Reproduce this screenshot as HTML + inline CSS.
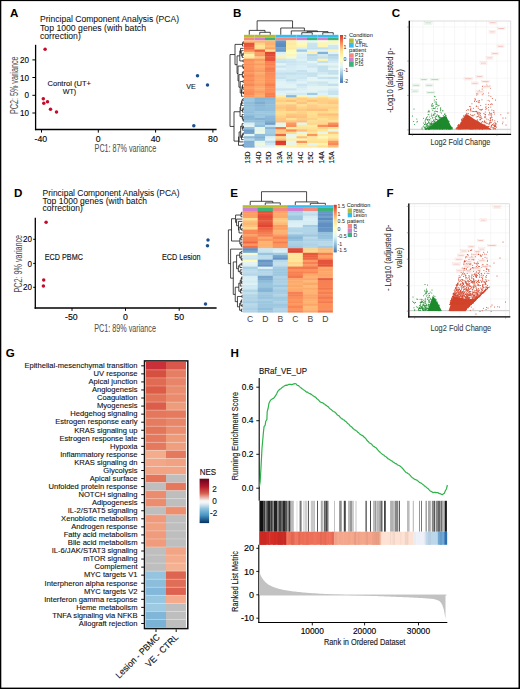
<!DOCTYPE html>
<html><head><meta charset="utf-8"><title>Figure</title>
<style>html,body{margin:0;padding:0;background:#fff;width:520px;height:689px;overflow:hidden}svg{display:block}text{font-family:"Liberation Sans",sans-serif}</style>
</head><body>
<svg width="520" height="689" viewBox="0 0 520 689">
<rect x="0" y="0" width="520" height="689" fill="#fff"/>
<text x="10.1" y="16.6" font-size="11.6" font-weight="bold" fill="#000">A</text>
<text x="40" y="22.4" font-size="9.2" fill="#111" textLength="139" lengthAdjust="spacingAndGlyphs" stroke="#111" stroke-width="0.06">Principal Component Analysis (PCA)</text>
<text x="40" y="30.55" font-size="9.2" fill="#111" textLength="106" lengthAdjust="spacingAndGlyphs" stroke="#111" stroke-width="0.06">Top 1000 genes (with batch</text>
<text x="40" y="38.7" font-size="9.2" fill="#111" textLength="40.8" lengthAdjust="spacingAndGlyphs" stroke="#111" stroke-width="0.06">correction)</text>
<line x1="35.6" y1="44.8" x2="35.6" y2="130.2" stroke="#000" stroke-width="1.3"/>
<line x1="34.95" y1="129.5" x2="216.6" y2="129.5" stroke="#000" stroke-width="1.4"/>
<line x1="32.4" y1="59.9" x2="35.6" y2="59.9" stroke="#000" stroke-width="1"/>
<text x="28.9" y="63" font-size="9.4" text-anchor="end" textLength="8.99" lengthAdjust="spacingAndGlyphs" stroke="#1a1a1a" stroke-width="0.15">20</text>
<line x1="32.4" y1="77.5" x2="35.6" y2="77.5" stroke="#000" stroke-width="1"/>
<text x="28.9" y="80.6" font-size="9.4" text-anchor="end" textLength="8.99" lengthAdjust="spacingAndGlyphs" stroke="#1a1a1a" stroke-width="0.15">10</text>
<line x1="32.4" y1="95.3" x2="35.6" y2="95.3" stroke="#000" stroke-width="1"/>
<text x="28.9" y="98.4" font-size="9.4" text-anchor="end" textLength="4.5" lengthAdjust="spacingAndGlyphs" stroke="#1a1a1a" stroke-width="0.15">0</text>
<line x1="32.4" y1="113" x2="35.6" y2="113" stroke="#000" stroke-width="1"/>
<text x="28.9" y="116.1" font-size="9.4" text-anchor="end" textLength="8.99" lengthAdjust="spacingAndGlyphs" stroke="#1a1a1a" stroke-width="0.15">10</text>
<line x1="41.5" y1="129.5" x2="41.5" y2="132.6" stroke="#000" stroke-width="1"/>
<text x="40.9" y="141.5" font-size="9.4" text-anchor="middle" textLength="12.63" lengthAdjust="spacingAndGlyphs" stroke="#1a1a1a" stroke-width="0.15">-40</text>
<line x1="98.3" y1="129.5" x2="98.3" y2="132.6" stroke="#000" stroke-width="1"/>
<text x="98.3" y="141.5" font-size="9.4" text-anchor="middle" textLength="4.86" lengthAdjust="spacingAndGlyphs" stroke="#1a1a1a" stroke-width="0.15">0</text>
<line x1="155.6" y1="129.5" x2="155.6" y2="132.6" stroke="#000" stroke-width="1"/>
<text x="155.6" y="141.5" font-size="9.4" text-anchor="middle" textLength="9.72" lengthAdjust="spacingAndGlyphs" stroke="#1a1a1a" stroke-width="0.15">40</text>
<line x1="212.9" y1="129.5" x2="212.9" y2="132.6" stroke="#000" stroke-width="1"/>
<text x="212.9" y="141.5" font-size="9.4" text-anchor="middle" textLength="9.72" lengthAdjust="spacingAndGlyphs" stroke="#1a1a1a" stroke-width="0.15">80</text>
<text x="94.6" y="152.4" font-size="10" fill="#505050" textLength="61.63" lengthAdjust="spacingAndGlyphs" stroke="#505050" stroke-width="0.05">PC1: 87% variance</text>
<text x="18.3" y="85.3" font-size="10" text-anchor="middle" fill="#505050" textLength="57.63" lengthAdjust="spacingAndGlyphs" transform="rotate(-90 18.3 85.3)" stroke="#505050" stroke-width="0.05">PC2: 5% variance</text>
<circle cx="45.1" cy="49.3" r="1.75" fill="#c60a2a"/>
<circle cx="43.3" cy="98.7" r="1.75" fill="#c60a2a"/>
<circle cx="43.8" cy="103.3" r="1.75" fill="#c60a2a"/>
<circle cx="47.5" cy="101.8" r="1.75" fill="#c60a2a"/>
<circle cx="50.5" cy="109.3" r="1.75" fill="#c60a2a"/>
<circle cx="56.5" cy="112" r="1.75" fill="#c60a2a"/>
<circle cx="197.5" cy="75.8" r="1.75" fill="#1d4f8f"/>
<circle cx="207.5" cy="85" r="1.75" fill="#1d4f8f"/>
<circle cx="193.8" cy="125.8" r="1.75" fill="#1d4f8f"/>
<text x="47.5" y="85.8" font-size="8" fill="#111" textLength="43.5" lengthAdjust="spacingAndGlyphs" stroke="#111" stroke-width="0.12">Control (UT+</text>
<text x="69.5" y="94.3" font-size="8" text-anchor="middle" fill="#111" textLength="13.5" lengthAdjust="spacingAndGlyphs" stroke="#111" stroke-width="0.12">WT)</text>
<text x="186.2" y="89" font-size="8" fill="#111" textLength="9.5" lengthAdjust="spacingAndGlyphs" stroke="#111" stroke-width="0.12">VE</text>
<text x="14.1" y="197" font-size="11.6" font-weight="bold" fill="#000">D</text>
<text x="42.6" y="195.9" font-size="9" fill="#111" textLength="136.91" lengthAdjust="spacingAndGlyphs" stroke="#111" stroke-width="0.06">Principal Component Analysis (PCA)</text>
<text x="42.6" y="203.6" font-size="9" fill="#111" textLength="104.41" lengthAdjust="spacingAndGlyphs" stroke="#111" stroke-width="0.06">Top 1000 genes (with batch</text>
<text x="42.6" y="211.3" font-size="9" fill="#111" textLength="40.19" lengthAdjust="spacingAndGlyphs" stroke="#111" stroke-width="0.06">correction)</text>
<line x1="35.3" y1="217.7" x2="35.3" y2="308.8" stroke="#000" stroke-width="1.3"/>
<line x1="34.65" y1="308.05" x2="216.6" y2="308.05" stroke="#000" stroke-width="1.4"/>
<line x1="33.2" y1="239.3" x2="35.3" y2="239.3" stroke="#000" stroke-width="1"/>
<text x="31.9" y="242.4" font-size="9.4" text-anchor="end" textLength="8.99" lengthAdjust="spacingAndGlyphs" stroke="#1a1a1a" stroke-width="0.15">20</text>
<line x1="33.2" y1="263.4" x2="35.3" y2="263.4" stroke="#000" stroke-width="1"/>
<text x="31.9" y="266.5" font-size="9.4" text-anchor="end" textLength="4.5" lengthAdjust="spacingAndGlyphs" stroke="#1a1a1a" stroke-width="0.15">0</text>
<line x1="33.2" y1="287.3" x2="35.3" y2="287.3" stroke="#000" stroke-width="1"/>
<text x="31.9" y="290.4" font-size="9.4" text-anchor="end" textLength="8.99" lengthAdjust="spacingAndGlyphs" stroke="#1a1a1a" stroke-width="0.15">20</text>
<line x1="72" y1="308.05" x2="72" y2="310.8" stroke="#000" stroke-width="1"/>
<text x="71.4" y="319.6" font-size="9.4" text-anchor="middle" textLength="12.63" lengthAdjust="spacingAndGlyphs" stroke="#1a1a1a" stroke-width="0.15">-50</text>
<line x1="125.5" y1="308.05" x2="125.5" y2="310.8" stroke="#000" stroke-width="1"/>
<text x="125.5" y="319.6" font-size="9.4" text-anchor="middle" textLength="4.86" lengthAdjust="spacingAndGlyphs" stroke="#1a1a1a" stroke-width="0.15">0</text>
<line x1="179.2" y1="308.05" x2="179.2" y2="310.8" stroke="#000" stroke-width="1"/>
<text x="179.2" y="319.6" font-size="9.4" text-anchor="middle" textLength="9.72" lengthAdjust="spacingAndGlyphs" stroke="#1a1a1a" stroke-width="0.15">50</text>
<text x="94.3" y="331.8" font-size="10" fill="#505050" textLength="61.63" lengthAdjust="spacingAndGlyphs" stroke="#505050" stroke-width="0.05">PC1: 89% variance</text>
<text x="21.8" y="263.7" font-size="10" text-anchor="middle" fill="#505050" textLength="57.63" lengthAdjust="spacingAndGlyphs" transform="rotate(-90 21.8 263.7)" stroke="#505050" stroke-width="0.05">PC2: 9% variance</text>
<circle cx="46.1" cy="222.3" r="1.75" fill="#c60a2a"/>
<circle cx="43.7" cy="280" r="1.75" fill="#c60a2a"/>
<circle cx="43.4" cy="286" r="1.75" fill="#c60a2a"/>
<circle cx="208" cy="240" r="1.75" fill="#1d4f8f"/>
<circle cx="207.5" cy="245.8" r="1.75" fill="#1d4f8f"/>
<circle cx="205.5" cy="304" r="1.75" fill="#1d4f8f"/>
<text x="44.8" y="260" font-size="8.4" fill="#111" textLength="38.1" lengthAdjust="spacingAndGlyphs" stroke="#111" stroke-width="0.13">ECD PBMC</text>
<text x="162" y="260" font-size="8.4" fill="#111" textLength="38.5" lengthAdjust="spacingAndGlyphs" stroke="#111" stroke-width="0.13">ECD Lesion</text>
<text x="233" y="16.8" font-size="11.6" font-weight="bold" fill="#000">B</text>
<path d="M259.75 34.8L259.75 32.3M270.25 34.8L270.25 32.3M259.75 32.3L270.25 32.3M249.25 34.8L249.25 30.4M265 32.3L265 30.4M249.25 30.4L265 30.4M301.75 34.8L301.75 32.7M312.25 34.8L312.25 32.7M301.75 32.7L312.25 32.7M322.75 34.8L322.75 32.7M333.25 34.8L333.25 32.7M322.75 32.7L333.25 32.7M307 32.7L307 31.6M328 32.7L328 31.6M307 31.6L328 31.6M291.25 34.8L291.25 30.9M317.5 31.6L317.5 30.9M291.25 30.9L317.5 30.9M280.75 34.8L280.75 28M304.38 30.9L304.38 28M280.75 28L304.38 28M257.12 30.4L257.12 20.8M292.56 28L292.56 20.8M257.12 20.8L292.56 20.8" stroke="#1a1a1a" stroke-width="0.8" fill="none"/>
<rect x="244" y="34.8" width="10.52" height="2.8" fill="#b7bb2f"/>
<rect x="244" y="37.6" width="10.52" height="2.8" fill="#f4877f"/>
<rect x="254.5" y="34.8" width="10.52" height="2.8" fill="#b7bb2f"/>
<rect x="254.5" y="37.6" width="10.52" height="2.8" fill="#d07fd0"/>
<rect x="265" y="34.8" width="10.52" height="2.8" fill="#b7bb2f"/>
<rect x="265" y="37.6" width="10.52" height="2.8" fill="#3bb37b"/>
<rect x="275.5" y="34.8" width="10.52" height="2.8" fill="#35bdf0"/>
<rect x="275.5" y="37.6" width="10.52" height="2.8" fill="#f4877f"/>
<rect x="286" y="34.8" width="10.52" height="2.8" fill="#35bdf0"/>
<rect x="286" y="37.6" width="10.52" height="2.8" fill="#f4877f"/>
<rect x="296.5" y="34.8" width="10.52" height="2.8" fill="#35bdf0"/>
<rect x="296.5" y="37.6" width="10.52" height="2.8" fill="#d07fd0"/>
<rect x="307" y="34.8" width="10.52" height="2.8" fill="#35bdf0"/>
<rect x="307" y="37.6" width="10.52" height="2.8" fill="#3bb37b"/>
<rect x="317.5" y="34.8" width="10.52" height="2.8" fill="#35bdf0"/>
<rect x="317.5" y="37.6" width="10.52" height="2.8" fill="#d07fd0"/>
<rect x="328" y="34.8" width="10.52" height="2.8" fill="#35bdf0"/>
<rect x="328" y="37.6" width="10.52" height="2.8" fill="#3bb37b"/>
<rect x="244" y="40.4" width="10.9" height="2.68" fill="#fdbd79"/>
<rect x="254.5" y="40.4" width="10.9" height="2.68" fill="#fdb674"/>
<rect x="265" y="40.4" width="10.9" height="2.68" fill="#fdb674"/>
<rect x="275.5" y="40.4" width="10.9" height="2.68" fill="#6897c6"/>
<rect x="286" y="40.4" width="10.9" height="2.68" fill="#feeea6"/>
<rect x="296.5" y="40.4" width="10.9" height="2.68" fill="#f1fad9"/>
<rect x="307" y="40.4" width="10.9" height="2.68" fill="#e8f6ea"/>
<rect x="317.5" y="40.4" width="10.9" height="2.68" fill="#f6fbd0"/>
<rect x="328" y="40.4" width="10.5" height="2.68" fill="#fff6b1"/>
<rect x="244" y="42.68" width="10.9" height="2.68" fill="#e5533a"/>
<rect x="254.5" y="42.68" width="10.9" height="2.68" fill="#fed689"/>
<rect x="265" y="42.68" width="10.9" height="2.68" fill="#fdb070"/>
<rect x="275.5" y="42.68" width="10.9" height="2.68" fill="#5f8ec1"/>
<rect x="286" y="42.68" width="10.9" height="2.68" fill="#feeba0"/>
<rect x="296.5" y="42.68" width="10.9" height="2.68" fill="#fffab8"/>
<rect x="307" y="42.68" width="10.9" height="2.68" fill="#cae5f0"/>
<rect x="317.5" y="42.68" width="10.9" height="2.68" fill="#fff6b1"/>
<rect x="328" y="42.68" width="10.5" height="2.68" fill="#ecf8e1"/>
<rect x="244" y="44.96" width="10.9" height="2.68" fill="#e85a3d"/>
<rect x="254.5" y="44.96" width="10.9" height="2.68" fill="#fee598"/>
<rect x="265" y="44.96" width="10.9" height="2.68" fill="#fdbd79"/>
<rect x="275.5" y="44.96" width="10.9" height="2.68" fill="#5c8cc0"/>
<rect x="286" y="44.96" width="10.9" height="2.68" fill="#feefa7"/>
<rect x="296.5" y="44.96" width="10.9" height="2.68" fill="#fff6b1"/>
<rect x="307" y="44.96" width="10.9" height="2.68" fill="#c7e3ef"/>
<rect x="317.5" y="44.96" width="10.9" height="2.68" fill="#fff6b1"/>
<rect x="328" y="44.96" width="10.5" height="2.68" fill="#cee7f1"/>
<rect x="244" y="47.24" width="10.9" height="2.68" fill="#ed6845"/>
<rect x="254.5" y="47.24" width="10.9" height="2.68" fill="#fedc8d"/>
<rect x="265" y="47.24" width="10.9" height="2.68" fill="#fda468"/>
<rect x="275.5" y="47.24" width="10.9" height="2.68" fill="#72a1cb"/>
<rect x="286" y="47.24" width="10.9" height="2.68" fill="#feeba1"/>
<rect x="296.5" y="47.24" width="10.9" height="2.68" fill="#d8eef5"/>
<rect x="307" y="47.24" width="10.9" height="2.68" fill="#c3e0ee"/>
<rect x="317.5" y="47.24" width="10.9" height="2.68" fill="#c3e0ed"/>
<rect x="328" y="47.24" width="10.5" height="2.68" fill="#cae4f0"/>
<rect x="244" y="49.52" width="10.9" height="2.68" fill="#fb8b58"/>
<rect x="254.5" y="49.52" width="10.9" height="2.68" fill="#ea6141"/>
<rect x="265" y="49.52" width="10.9" height="2.68" fill="#fee395"/>
<rect x="275.5" y="49.52" width="10.9" height="2.68" fill="#6b9ac7"/>
<rect x="286" y="49.52" width="10.9" height="2.68" fill="#fffab8"/>
<rect x="296.5" y="49.52" width="10.9" height="2.68" fill="#a1c9e1"/>
<rect x="307" y="49.52" width="10.9" height="2.68" fill="#e1f3f6"/>
<rect x="317.5" y="49.52" width="10.9" height="2.68" fill="#dff2f7"/>
<rect x="328" y="49.52" width="10.5" height="2.68" fill="#fff6b1"/>
<rect x="244" y="51.8" width="10.9" height="2.68" fill="#fecf85"/>
<rect x="254.5" y="51.8" width="10.9" height="2.68" fill="#fc9e64"/>
<rect x="265" y="51.8" width="10.9" height="2.68" fill="#df4532"/>
<rect x="275.5" y="51.8" width="10.9" height="2.68" fill="#dcf0f7"/>
<rect x="286" y="51.8" width="10.9" height="2.68" fill="#fafdc8"/>
<rect x="296.5" y="51.8" width="10.9" height="2.68" fill="#e4f5f0"/>
<rect x="307" y="51.8" width="10.9" height="2.68" fill="#fff1aa"/>
<rect x="317.5" y="51.8" width="10.9" height="2.68" fill="#84b2d4"/>
<rect x="328" y="51.8" width="10.5" height="2.68" fill="#e0f3f7"/>
<rect x="244" y="54.08" width="10.9" height="2.68" fill="#fff1aa"/>
<rect x="254.5" y="54.08" width="10.9" height="2.68" fill="#fc9760"/>
<rect x="265" y="54.08" width="10.9" height="2.68" fill="#e24c36"/>
<rect x="275.5" y="54.08" width="10.9" height="2.68" fill="#e3f4f2"/>
<rect x="286" y="54.08" width="10.9" height="2.68" fill="#fff6b1"/>
<rect x="296.5" y="54.08" width="10.9" height="2.68" fill="#d9eff6"/>
<rect x="307" y="54.08" width="10.9" height="2.68" fill="#b3d5e7"/>
<rect x="317.5" y="54.08" width="10.9" height="2.68" fill="#cee7f1"/>
<rect x="328" y="54.08" width="10.5" height="2.68" fill="#add1e5"/>
<rect x="244" y="56.36" width="10.9" height="2.68" fill="#feea9f"/>
<rect x="254.5" y="56.36" width="10.9" height="2.68" fill="#fdc981"/>
<rect x="265" y="56.36" width="10.9" height="2.68" fill="#e85a3d"/>
<rect x="275.5" y="56.36" width="10.9" height="2.68" fill="#fff1aa"/>
<rect x="286" y="56.36" width="10.9" height="2.68" fill="#f1fad9"/>
<rect x="296.5" y="56.36" width="10.9" height="2.68" fill="#d5ecf4"/>
<rect x="307" y="56.36" width="10.9" height="2.68" fill="#beddec"/>
<rect x="317.5" y="56.36" width="10.9" height="2.68" fill="#c3e0ed"/>
<rect x="328" y="56.36" width="10.5" height="2.68" fill="#b8d9ea"/>
<rect x="244" y="58.64" width="10.9" height="2.68" fill="#fc8e5a"/>
<rect x="254.5" y="58.64" width="10.9" height="2.68" fill="#fc9860"/>
<rect x="265" y="58.64" width="10.9" height="2.68" fill="#e5533a"/>
<rect x="275.5" y="58.64" width="10.9" height="2.68" fill="#cde6f1"/>
<rect x="286" y="58.64" width="10.9" height="2.68" fill="#d1e9f3"/>
<rect x="296.5" y="58.64" width="10.9" height="2.68" fill="#ddf1f7"/>
<rect x="307" y="58.64" width="10.9" height="2.68" fill="#c2dfed"/>
<rect x="317.5" y="58.64" width="10.9" height="2.68" fill="#fff3ad"/>
<rect x="328" y="58.64" width="10.5" height="2.68" fill="#c8e3ef"/>
<rect x="244" y="60.92" width="10.9" height="2.68" fill="#fc9961"/>
<rect x="254.5" y="60.92" width="10.9" height="2.68" fill="#fdaf6f"/>
<rect x="265" y="60.92" width="10.9" height="2.68" fill="#f78152"/>
<rect x="275.5" y="60.92" width="10.9" height="2.68" fill="#c6e2ef"/>
<rect x="286" y="60.92" width="10.9" height="2.68" fill="#cbe5f0"/>
<rect x="296.5" y="60.92" width="10.9" height="2.68" fill="#d1e9f3"/>
<rect x="307" y="60.92" width="10.9" height="2.68" fill="#e2f4f4"/>
<rect x="317.5" y="60.92" width="10.9" height="2.68" fill="#c4e1ee"/>
<rect x="328" y="60.92" width="10.5" height="2.68" fill="#d4ebf4"/>
<rect x="244" y="63.2" width="10.9" height="2.68" fill="#fc905b"/>
<rect x="254.5" y="63.2" width="10.9" height="2.68" fill="#fc9a62"/>
<rect x="265" y="63.2" width="10.9" height="2.68" fill="#f77f52"/>
<rect x="275.5" y="63.2" width="10.9" height="2.68" fill="#e2f4f4"/>
<rect x="286" y="63.2" width="10.9" height="2.68" fill="#cde6f1"/>
<rect x="296.5" y="63.2" width="10.9" height="2.68" fill="#d3eaf3"/>
<rect x="307" y="63.2" width="10.9" height="2.68" fill="#d0e9f2"/>
<rect x="317.5" y="63.2" width="10.9" height="2.68" fill="#e3f4f3"/>
<rect x="328" y="63.2" width="10.5" height="2.68" fill="#e4f4f1"/>
<rect x="244" y="65.48" width="10.9" height="2.68" fill="#fc9860"/>
<rect x="254.5" y="65.48" width="10.9" height="2.68" fill="#fdac6d"/>
<rect x="265" y="65.48" width="10.9" height="2.68" fill="#fc8c59"/>
<rect x="275.5" y="65.48" width="10.9" height="2.68" fill="#cbe5f0"/>
<rect x="286" y="65.48" width="10.9" height="2.68" fill="#d5ecf4"/>
<rect x="296.5" y="65.48" width="10.9" height="2.68" fill="#daeff6"/>
<rect x="307" y="65.48" width="10.9" height="2.68" fill="#cce6f1"/>
<rect x="317.5" y="65.48" width="10.9" height="2.68" fill="#c1dfed"/>
<rect x="328" y="65.48" width="10.5" height="2.68" fill="#d3eaf3"/>
<rect x="244" y="67.76" width="10.9" height="2.68" fill="#fc945d"/>
<rect x="254.5" y="67.76" width="10.9" height="2.68" fill="#fda267"/>
<rect x="265" y="67.76" width="10.9" height="2.68" fill="#f57c50"/>
<rect x="275.5" y="67.76" width="10.9" height="2.68" fill="#def2f7"/>
<rect x="286" y="67.76" width="10.9" height="2.68" fill="#d7edf5"/>
<rect x="296.5" y="67.76" width="10.9" height="2.68" fill="#dbf0f6"/>
<rect x="307" y="67.76" width="10.9" height="2.68" fill="#def1f7"/>
<rect x="317.5" y="67.76" width="10.9" height="2.68" fill="#c3e0ed"/>
<rect x="328" y="67.76" width="10.5" height="2.68" fill="#e3f4f3"/>
<rect x="244" y="70.04" width="10.9" height="2.68" fill="#fb8b58"/>
<rect x="254.5" y="70.04" width="10.9" height="2.68" fill="#fc9a62"/>
<rect x="265" y="70.04" width="10.9" height="2.68" fill="#f78052"/>
<rect x="275.5" y="70.04" width="10.9" height="2.68" fill="#d2e9f3"/>
<rect x="286" y="70.04" width="10.9" height="2.68" fill="#d2eaf3"/>
<rect x="296.5" y="70.04" width="10.9" height="2.68" fill="#c5e1ee"/>
<rect x="307" y="70.04" width="10.9" height="2.68" fill="#dcf0f6"/>
<rect x="317.5" y="70.04" width="10.9" height="2.68" fill="#c3e0ee"/>
<rect x="328" y="70.04" width="10.5" height="2.68" fill="#c4e0ee"/>
<rect x="244" y="72.32" width="10.9" height="2.68" fill="#fc9760"/>
<rect x="254.5" y="72.32" width="10.9" height="2.68" fill="#fdac6e"/>
<rect x="265" y="72.32" width="10.9" height="2.68" fill="#fb8a57"/>
<rect x="275.5" y="72.32" width="10.9" height="2.68" fill="#c3e0ed"/>
<rect x="286" y="72.32" width="10.9" height="2.68" fill="#c1deed"/>
<rect x="296.5" y="72.32" width="10.9" height="2.68" fill="#c7e3ef"/>
<rect x="307" y="72.32" width="10.9" height="2.68" fill="#c5e1ee"/>
<rect x="317.5" y="72.32" width="10.9" height="2.68" fill="#d0e9f2"/>
<rect x="328" y="72.32" width="10.5" height="2.68" fill="#c2dfed"/>
<rect x="244" y="74.6" width="10.9" height="2.68" fill="#fb8957"/>
<rect x="254.5" y="74.6" width="10.9" height="2.68" fill="#fca166"/>
<rect x="265" y="74.6" width="10.9" height="2.68" fill="#fc8e5a"/>
<rect x="275.5" y="74.6" width="10.9" height="2.68" fill="#cce6f0"/>
<rect x="286" y="74.6" width="10.9" height="2.68" fill="#d0e8f2"/>
<rect x="296.5" y="74.6" width="10.9" height="2.68" fill="#d0e9f2"/>
<rect x="307" y="74.6" width="10.9" height="2.68" fill="#c6e2ee"/>
<rect x="317.5" y="74.6" width="10.9" height="2.68" fill="#e2f4f4"/>
<rect x="328" y="74.6" width="10.5" height="2.68" fill="#e4f5f0"/>
<rect x="244" y="76.88" width="10.9" height="2.68" fill="#fc925c"/>
<rect x="254.5" y="76.88" width="10.9" height="2.68" fill="#fda468"/>
<rect x="265" y="76.88" width="10.9" height="2.68" fill="#fc8f5b"/>
<rect x="275.5" y="76.88" width="10.9" height="2.68" fill="#c5e1ee"/>
<rect x="286" y="76.88" width="10.9" height="2.68" fill="#cfe8f2"/>
<rect x="296.5" y="76.88" width="10.9" height="2.68" fill="#cce6f1"/>
<rect x="307" y="76.88" width="10.9" height="2.68" fill="#e2f4f5"/>
<rect x="317.5" y="76.88" width="10.9" height="2.68" fill="#c8e3ef"/>
<rect x="328" y="76.88" width="10.5" height="2.68" fill="#c2dfed"/>
<rect x="244" y="79.16" width="10.9" height="2.68" fill="#fa8856"/>
<rect x="254.5" y="79.16" width="10.9" height="2.68" fill="#fda368"/>
<rect x="265" y="79.16" width="10.9" height="2.68" fill="#fc8e5a"/>
<rect x="275.5" y="79.16" width="10.9" height="2.68" fill="#d8eef5"/>
<rect x="286" y="79.16" width="10.9" height="2.68" fill="#c2dfed"/>
<rect x="296.5" y="79.16" width="10.9" height="2.68" fill="#d7edf5"/>
<rect x="307" y="79.16" width="10.9" height="2.68" fill="#e4f5f0"/>
<rect x="317.5" y="79.16" width="10.9" height="2.68" fill="#e2f4f4"/>
<rect x="328" y="79.16" width="10.5" height="2.68" fill="#def2f7"/>
<rect x="244" y="81.44" width="10.9" height="2.68" fill="#fc965f"/>
<rect x="254.5" y="81.44" width="10.9" height="2.68" fill="#fda76a"/>
<rect x="265" y="81.44" width="10.9" height="2.68" fill="#fc8e5a"/>
<rect x="275.5" y="81.44" width="10.9" height="2.68" fill="#e1f3f7"/>
<rect x="286" y="81.44" width="10.9" height="2.68" fill="#d8edf5"/>
<rect x="296.5" y="81.44" width="10.9" height="2.68" fill="#e1f3f7"/>
<rect x="307" y="81.44" width="10.9" height="2.68" fill="#cfe8f2"/>
<rect x="317.5" y="81.44" width="10.9" height="2.68" fill="#cae5f0"/>
<rect x="328" y="81.44" width="10.5" height="2.68" fill="#e1f4f6"/>
<rect x="244" y="83.72" width="10.9" height="2.68" fill="#fa8756"/>
<rect x="254.5" y="83.72" width="10.9" height="2.68" fill="#fc9b62"/>
<rect x="265" y="83.72" width="10.9" height="2.68" fill="#f78052"/>
<rect x="275.5" y="83.72" width="10.9" height="2.68" fill="#e1f4f5"/>
<rect x="286" y="83.72" width="10.9" height="2.68" fill="#e0f3f8"/>
<rect x="296.5" y="83.72" width="10.9" height="2.68" fill="#cae5f0"/>
<rect x="307" y="83.72" width="10.9" height="2.68" fill="#d7edf5"/>
<rect x="317.5" y="83.72" width="10.9" height="2.68" fill="#d0e8f2"/>
<rect x="328" y="83.72" width="10.5" height="2.68" fill="#c2dfed"/>
<rect x="244" y="86" width="10.9" height="2.68" fill="#fc9b62"/>
<rect x="254.5" y="86" width="10.9" height="2.68" fill="#fda96c"/>
<rect x="265" y="86" width="10.9" height="2.68" fill="#fc8c58"/>
<rect x="275.5" y="86" width="10.9" height="2.68" fill="#def2f7"/>
<rect x="286" y="86" width="10.9" height="2.68" fill="#e4f4f1"/>
<rect x="296.5" y="86" width="10.9" height="2.68" fill="#d4ebf4"/>
<rect x="307" y="86" width="10.9" height="2.68" fill="#e3f4f2"/>
<rect x="317.5" y="86" width="10.9" height="2.68" fill="#e4f5f0"/>
<rect x="328" y="86" width="10.5" height="2.68" fill="#e4f4f1"/>
<rect x="244" y="88.28" width="10.9" height="2.68" fill="#fc945e"/>
<rect x="254.5" y="88.28" width="10.9" height="2.68" fill="#fdab6d"/>
<rect x="265" y="88.28" width="10.9" height="2.68" fill="#fc8d59"/>
<rect x="275.5" y="88.28" width="10.9" height="2.68" fill="#c9e4f0"/>
<rect x="286" y="88.28" width="10.9" height="2.68" fill="#cae4f0"/>
<rect x="296.5" y="88.28" width="10.9" height="2.68" fill="#dbf0f6"/>
<rect x="307" y="88.28" width="10.9" height="2.68" fill="#e3f4f3"/>
<rect x="317.5" y="88.28" width="10.9" height="2.68" fill="#e2f4f5"/>
<rect x="328" y="88.28" width="10.5" height="2.68" fill="#d5ecf4"/>
<rect x="244" y="90.56" width="10.9" height="2.68" fill="#fc8e5a"/>
<rect x="254.5" y="90.56" width="10.9" height="2.68" fill="#fc9c63"/>
<rect x="265" y="90.56" width="10.9" height="2.68" fill="#fc8f5b"/>
<rect x="275.5" y="90.56" width="10.9" height="2.68" fill="#ddf1f7"/>
<rect x="286" y="90.56" width="10.9" height="2.68" fill="#e3f4f3"/>
<rect x="296.5" y="90.56" width="10.9" height="2.68" fill="#e1f3f6"/>
<rect x="307" y="90.56" width="10.9" height="2.68" fill="#e0f3f7"/>
<rect x="317.5" y="90.56" width="10.9" height="2.68" fill="#d5ecf4"/>
<rect x="328" y="90.56" width="10.5" height="2.68" fill="#c8e3ef"/>
<rect x="244" y="92.84" width="10.9" height="2.68" fill="#fb8b58"/>
<rect x="254.5" y="92.84" width="10.9" height="2.68" fill="#fda86b"/>
<rect x="265" y="92.84" width="10.9" height="2.68" fill="#f78052"/>
<rect x="275.5" y="92.84" width="10.9" height="2.68" fill="#e4f5f1"/>
<rect x="286" y="92.84" width="10.9" height="2.68" fill="#d2eaf3"/>
<rect x="296.5" y="92.84" width="10.9" height="2.68" fill="#d2eaf3"/>
<rect x="307" y="92.84" width="10.9" height="2.68" fill="#a1c9e1"/>
<rect x="317.5" y="92.84" width="10.9" height="2.68" fill="#e0f3f8"/>
<rect x="328" y="92.84" width="10.5" height="2.68" fill="#c8e3ef"/>
<rect x="244" y="95.12" width="10.9" height="2.68" fill="#fc9961"/>
<rect x="254.5" y="95.12" width="10.9" height="2.68" fill="#fdad6e"/>
<rect x="265" y="95.12" width="10.9" height="2.68" fill="#f67d51"/>
<rect x="275.5" y="95.12" width="10.9" height="2.68" fill="#feeca3"/>
<rect x="286" y="95.12" width="10.9" height="2.68" fill="#89b8d7"/>
<rect x="296.5" y="95.12" width="10.9" height="2.68" fill="#fff3ad"/>
<rect x="307" y="95.12" width="10.9" height="2.68" fill="#e4f5f0"/>
<rect x="317.5" y="95.12" width="10.9" height="2.68" fill="#feeca3"/>
<rect x="328" y="95.12" width="10.5" height="2.68" fill="#e8f6ea"/>
<rect x="244" y="97.4" width="10.9" height="2.68" fill="#9bc5df"/>
<rect x="254.5" y="97.4" width="10.9" height="2.68" fill="#85b4d5"/>
<rect x="265" y="97.4" width="10.9" height="2.68" fill="#87b5d6"/>
<rect x="275.5" y="97.4" width="10.9" height="2.68" fill="#fed78a"/>
<rect x="286" y="97.4" width="10.9" height="2.68" fill="#fed98b"/>
<rect x="296.5" y="97.4" width="10.9" height="2.68" fill="#fecc83"/>
<rect x="307" y="97.4" width="10.9" height="2.68" fill="#fed88b"/>
<rect x="317.5" y="97.4" width="10.9" height="2.68" fill="#fed287"/>
<rect x="328" y="97.4" width="10.5" height="2.68" fill="#fedd8e"/>
<rect x="244" y="99.68" width="10.9" height="2.68" fill="#9ec7e0"/>
<rect x="254.5" y="99.68" width="10.9" height="2.68" fill="#8ab8d7"/>
<rect x="265" y="99.68" width="10.9" height="2.68" fill="#8ebcd9"/>
<rect x="275.5" y="99.68" width="10.9" height="2.68" fill="#fecc83"/>
<rect x="286" y="99.68" width="10.9" height="2.68" fill="#fdc07b"/>
<rect x="296.5" y="99.68" width="10.9" height="2.68" fill="#fed287"/>
<rect x="307" y="99.68" width="10.9" height="2.68" fill="#fdc07b"/>
<rect x="317.5" y="99.68" width="10.9" height="2.68" fill="#fecf85"/>
<rect x="328" y="99.68" width="10.5" height="2.68" fill="#fece84"/>
<rect x="244" y="101.96" width="10.9" height="2.68" fill="#90beda"/>
<rect x="254.5" y="101.96" width="10.9" height="2.68" fill="#7fadd2"/>
<rect x="265" y="101.96" width="10.9" height="2.68" fill="#8dbbd9"/>
<rect x="275.5" y="101.96" width="10.9" height="2.68" fill="#fedb8d"/>
<rect x="286" y="101.96" width="10.9" height="2.68" fill="#fee191"/>
<rect x="296.5" y="101.96" width="10.9" height="2.68" fill="#fdc47e"/>
<rect x="307" y="101.96" width="10.9" height="2.68" fill="#fedc8d"/>
<rect x="317.5" y="101.96" width="10.9" height="2.68" fill="#fed086"/>
<rect x="328" y="101.96" width="10.5" height="2.68" fill="#fdc77f"/>
<rect x="244" y="104.25" width="10.9" height="2.68" fill="#91bfdb"/>
<rect x="254.5" y="104.25" width="10.9" height="2.68" fill="#89b7d7"/>
<rect x="265" y="104.25" width="10.9" height="2.68" fill="#90beda"/>
<rect x="275.5" y="104.25" width="10.9" height="2.68" fill="#fecd84"/>
<rect x="286" y="104.25" width="10.9" height="2.68" fill="#fdc57e"/>
<rect x="296.5" y="104.25" width="10.9" height="2.68" fill="#fede8f"/>
<rect x="307" y="104.25" width="10.9" height="2.68" fill="#fecd84"/>
<rect x="317.5" y="104.25" width="10.9" height="2.68" fill="#fed98b"/>
<rect x="328" y="104.25" width="10.5" height="2.68" fill="#fed88b"/>
<rect x="244" y="106.53" width="10.9" height="2.68" fill="#99c4de"/>
<rect x="254.5" y="106.53" width="10.9" height="2.68" fill="#8fbdda"/>
<rect x="265" y="106.53" width="10.9" height="2.68" fill="#91bfdb"/>
<rect x="275.5" y="106.53" width="10.9" height="2.68" fill="#fdc67f"/>
<rect x="286" y="106.53" width="10.9" height="2.68" fill="#fdc07b"/>
<rect x="296.5" y="106.53" width="10.9" height="2.68" fill="#fed286"/>
<rect x="307" y="106.53" width="10.9" height="2.68" fill="#fdcb82"/>
<rect x="317.5" y="106.53" width="10.9" height="2.68" fill="#fecf85"/>
<rect x="328" y="106.53" width="10.5" height="2.68" fill="#fecf85"/>
<rect x="244" y="108.81" width="10.9" height="2.68" fill="#96c2dd"/>
<rect x="254.5" y="108.81" width="10.9" height="2.68" fill="#8dbcd9"/>
<rect x="265" y="108.81" width="10.9" height="2.68" fill="#90bedb"/>
<rect x="275.5" y="108.81" width="10.9" height="2.68" fill="#fed086"/>
<rect x="286" y="108.81" width="10.9" height="2.68" fill="#fdbf7a"/>
<rect x="296.5" y="108.81" width="10.9" height="2.68" fill="#fdc880"/>
<rect x="307" y="108.81" width="10.9" height="2.68" fill="#fdc17c"/>
<rect x="317.5" y="108.81" width="10.9" height="2.68" fill="#fdbf7a"/>
<rect x="328" y="108.81" width="10.5" height="2.68" fill="#fed88b"/>
<rect x="244" y="111.09" width="10.9" height="2.68" fill="#91bfdb"/>
<rect x="254.5" y="111.09" width="10.9" height="2.68" fill="#9fc8e0"/>
<rect x="265" y="111.09" width="10.9" height="2.68" fill="#9bc6df"/>
<rect x="275.5" y="111.09" width="10.9" height="2.68" fill="#fedd8e"/>
<rect x="286" y="111.09" width="10.9" height="2.68" fill="#fede8e"/>
<rect x="296.5" y="111.09" width="10.9" height="2.68" fill="#fed286"/>
<rect x="307" y="111.09" width="10.9" height="2.68" fill="#fedf90"/>
<rect x="317.5" y="111.09" width="10.9" height="2.68" fill="#fed98b"/>
<rect x="328" y="111.09" width="10.5" height="2.68" fill="#fedf90"/>
<rect x="244" y="113.37" width="10.9" height="2.68" fill="#95c2dc"/>
<rect x="254.5" y="113.37" width="10.9" height="2.68" fill="#99c4de"/>
<rect x="265" y="113.37" width="10.9" height="2.68" fill="#9dc7df"/>
<rect x="275.5" y="113.37" width="10.9" height="2.68" fill="#fedc8e"/>
<rect x="286" y="113.37" width="10.9" height="2.68" fill="#fdc780"/>
<rect x="296.5" y="113.37" width="10.9" height="2.68" fill="#fdc981"/>
<rect x="307" y="113.37" width="10.9" height="2.68" fill="#fedd8e"/>
<rect x="317.5" y="113.37" width="10.9" height="2.68" fill="#fdc17c"/>
<rect x="328" y="113.37" width="10.5" height="2.68" fill="#fdbe79"/>
<rect x="244" y="115.65" width="10.9" height="2.68" fill="#86b4d5"/>
<rect x="254.5" y="115.65" width="10.9" height="2.68" fill="#9fc8e0"/>
<rect x="265" y="115.65" width="10.9" height="2.68" fill="#8cbad8"/>
<rect x="275.5" y="115.65" width="10.9" height="2.68" fill="#fed085"/>
<rect x="286" y="115.65" width="10.9" height="2.68" fill="#fdbd79"/>
<rect x="296.5" y="115.65" width="10.9" height="2.68" fill="#fdc37d"/>
<rect x="307" y="115.65" width="10.9" height="2.68" fill="#fedc8d"/>
<rect x="317.5" y="115.65" width="10.9" height="2.68" fill="#fed287"/>
<rect x="328" y="115.65" width="10.5" height="2.68" fill="#fecf85"/>
<rect x="244" y="117.94" width="10.9" height="2.68" fill="#8ab8d7"/>
<rect x="254.5" y="117.94" width="10.9" height="2.68" fill="#85b3d5"/>
<rect x="265" y="117.94" width="10.9" height="2.68" fill="#89b7d7"/>
<rect x="275.5" y="117.94" width="10.9" height="2.68" fill="#fdc780"/>
<rect x="286" y="117.94" width="10.9" height="2.68" fill="#fee191"/>
<rect x="296.5" y="117.94" width="10.9" height="2.68" fill="#fecd84"/>
<rect x="307" y="117.94" width="10.9" height="2.68" fill="#fed286"/>
<rect x="317.5" y="117.94" width="10.9" height="2.68" fill="#fee191"/>
<rect x="328" y="117.94" width="10.5" height="2.68" fill="#fed689"/>
<rect x="244" y="120.22" width="10.9" height="2.68" fill="#93c1dc"/>
<rect x="254.5" y="120.22" width="10.9" height="2.68" fill="#90beda"/>
<rect x="265" y="120.22" width="10.9" height="2.68" fill="#80afd2"/>
<rect x="275.5" y="120.22" width="10.9" height="2.68" fill="#fdbd79"/>
<rect x="286" y="120.22" width="10.9" height="2.68" fill="#fdc57e"/>
<rect x="296.5" y="120.22" width="10.9" height="2.68" fill="#fdbe79"/>
<rect x="307" y="120.22" width="10.9" height="2.68" fill="#fede8f"/>
<rect x="317.5" y="120.22" width="10.9" height="2.68" fill="#fed88b"/>
<rect x="328" y="120.22" width="10.5" height="2.68" fill="#fee090"/>
<rect x="244" y="122.5" width="10.9" height="2.68" fill="#d7edf5"/>
<rect x="254.5" y="122.5" width="10.9" height="2.68" fill="#9fc8e0"/>
<rect x="265" y="122.5" width="10.9" height="2.68" fill="#6e9dc9"/>
<rect x="275.5" y="122.5" width="10.9" height="2.68" fill="#e6f5ee"/>
<rect x="286" y="122.5" width="10.9" height="2.68" fill="#fc9a62"/>
<rect x="296.5" y="122.5" width="10.9" height="2.68" fill="#e5f5ee"/>
<rect x="307" y="122.5" width="10.9" height="2.68" fill="#fed589"/>
<rect x="317.5" y="122.5" width="10.9" height="2.68" fill="#fed589"/>
<rect x="328" y="122.5" width="10.5" height="2.68" fill="#fc915c"/>
<rect x="244" y="124.78" width="10.9" height="2.68" fill="#e3f4f2"/>
<rect x="254.5" y="124.78" width="10.9" height="2.68" fill="#8fbdda"/>
<rect x="265" y="124.78" width="10.9" height="2.68" fill="#c5e1ee"/>
<rect x="275.5" y="124.78" width="10.9" height="2.68" fill="#ebf7e4"/>
<rect x="286" y="124.78" width="10.9" height="2.68" fill="#fc8e5a"/>
<rect x="296.5" y="124.78" width="10.9" height="2.68" fill="#feea9f"/>
<rect x="307" y="124.78" width="10.9" height="2.68" fill="#feeaa0"/>
<rect x="317.5" y="124.78" width="10.9" height="2.68" fill="#fc8e5a"/>
<rect x="328" y="124.78" width="10.5" height="2.68" fill="#f57a4f"/>
<rect x="244" y="127.06" width="10.9" height="2.68" fill="#93c0dc"/>
<rect x="254.5" y="127.06" width="10.9" height="2.68" fill="#e8f6e8"/>
<rect x="265" y="127.06" width="10.9" height="2.68" fill="#89b8d7"/>
<rect x="275.5" y="127.06" width="10.9" height="2.68" fill="#f1714a"/>
<rect x="286" y="127.06" width="10.9" height="2.68" fill="#feeca3"/>
<rect x="296.5" y="127.06" width="10.9" height="2.68" fill="#fee294"/>
<rect x="307" y="127.06" width="10.9" height="2.68" fill="#fee395"/>
<rect x="317.5" y="127.06" width="10.9" height="2.68" fill="#fed589"/>
<rect x="328" y="127.06" width="10.5" height="2.68" fill="#fee496"/>
<rect x="244" y="129.35" width="10.9" height="2.68" fill="#709eca"/>
<rect x="254.5" y="129.35" width="10.9" height="2.68" fill="#e4f5f0"/>
<rect x="265" y="129.35" width="10.9" height="2.68" fill="#a5cce2"/>
<rect x="275.5" y="129.35" width="10.9" height="2.68" fill="#fdc880"/>
<rect x="286" y="129.35" width="10.9" height="2.68" fill="#fb8a57"/>
<rect x="296.5" y="129.35" width="10.9" height="2.68" fill="#fdbc78"/>
<rect x="307" y="129.35" width="10.9" height="2.68" fill="#fed78a"/>
<rect x="317.5" y="129.35" width="10.9" height="2.68" fill="#fee699"/>
<rect x="328" y="129.35" width="10.5" height="2.68" fill="#eaf7e6"/>
<rect x="244" y="131.63" width="10.9" height="2.68" fill="#74a2cc"/>
<rect x="254.5" y="131.63" width="10.9" height="2.68" fill="#edf8e0"/>
<rect x="265" y="131.63" width="10.9" height="2.68" fill="#a4cce2"/>
<rect x="275.5" y="131.63" width="10.9" height="2.68" fill="#fdcb82"/>
<rect x="286" y="131.63" width="10.9" height="2.68" fill="#feda8c"/>
<rect x="296.5" y="131.63" width="10.9" height="2.68" fill="#e4f4f1"/>
<rect x="307" y="131.63" width="10.9" height="2.68" fill="#fee496"/>
<rect x="317.5" y="131.63" width="10.9" height="2.68" fill="#e8f6ea"/>
<rect x="328" y="131.63" width="10.5" height="2.68" fill="#fdc981"/>
<rect x="244" y="133.91" width="10.9" height="2.68" fill="#e3f4f2"/>
<rect x="254.5" y="133.91" width="10.9" height="2.68" fill="#90beda"/>
<rect x="265" y="133.91" width="10.9" height="2.68" fill="#99c4de"/>
<rect x="275.5" y="133.91" width="10.9" height="2.68" fill="#ed6745"/>
<rect x="286" y="133.91" width="10.9" height="2.68" fill="#e6f5ed"/>
<rect x="296.5" y="133.91" width="10.9" height="2.68" fill="#fff3ac"/>
<rect x="307" y="133.91" width="10.9" height="2.68" fill="#fc965f"/>
<rect x="317.5" y="133.91" width="10.9" height="2.68" fill="#feeba1"/>
<rect x="328" y="133.91" width="10.5" height="2.68" fill="#fee99d"/>
<rect x="244" y="136.19" width="10.9" height="2.68" fill="#8cbad9"/>
<rect x="254.5" y="136.19" width="10.9" height="2.68" fill="#82b0d3"/>
<rect x="265" y="136.19" width="10.9" height="2.68" fill="#d7edf5"/>
<rect x="275.5" y="136.19" width="10.9" height="2.68" fill="#feda8c"/>
<rect x="286" y="136.19" width="10.9" height="2.68" fill="#e9f6e8"/>
<rect x="296.5" y="136.19" width="10.9" height="2.68" fill="#fdc07b"/>
<rect x="307" y="136.19" width="10.9" height="2.68" fill="#fee597"/>
<rect x="317.5" y="136.19" width="10.9" height="2.68" fill="#fff6b1"/>
<rect x="328" y="136.19" width="10.5" height="2.68" fill="#fee99e"/>
<rect x="244" y="138.47" width="10.9" height="2.68" fill="#badaea"/>
<rect x="254.5" y="138.47" width="10.9" height="2.68" fill="#8ebcd9"/>
<rect x="265" y="138.47" width="10.9" height="2.68" fill="#e0f3f7"/>
<rect x="275.5" y="138.47" width="10.9" height="2.68" fill="#fdc17c"/>
<rect x="286" y="138.47" width="10.9" height="2.68" fill="#feeea5"/>
<rect x="296.5" y="138.47" width="10.9" height="2.68" fill="#fff6b1"/>
<rect x="307" y="138.47" width="10.9" height="2.68" fill="#fee598"/>
<rect x="317.5" y="138.47" width="10.9" height="2.68" fill="#fee89d"/>
<rect x="328" y="138.47" width="10.5" height="2.68" fill="#fed589"/>
<rect x="244" y="140.75" width="10.9" height="2.68" fill="#80afd3"/>
<rect x="254.5" y="140.75" width="10.9" height="2.68" fill="#e8f6e9"/>
<rect x="265" y="140.75" width="10.9" height="2.68" fill="#bbdaea"/>
<rect x="275.5" y="140.75" width="10.9" height="2.68" fill="#dc3b2d"/>
<rect x="286" y="140.75" width="10.9" height="2.68" fill="#e8f6e9"/>
<rect x="296.5" y="140.75" width="10.9" height="2.68" fill="#fc925c"/>
<rect x="307" y="140.75" width="10.9" height="2.68" fill="#fee192"/>
<rect x="317.5" y="140.75" width="10.9" height="2.68" fill="#fee090"/>
<rect x="328" y="140.75" width="10.5" height="2.68" fill="#fc975f"/>
<rect x="244" y="143.04" width="10.9" height="2.68" fill="#82b1d3"/>
<rect x="254.5" y="143.04" width="10.9" height="2.68" fill="#f0f9db"/>
<rect x="265" y="143.04" width="10.9" height="2.68" fill="#cde6f1"/>
<rect x="275.5" y="143.04" width="10.9" height="2.68" fill="#dd3e2f"/>
<rect x="286" y="143.04" width="10.9" height="2.68" fill="#e9f6e7"/>
<rect x="296.5" y="143.04" width="10.9" height="2.68" fill="#fee699"/>
<rect x="307" y="143.04" width="10.9" height="2.68" fill="#e4f4f1"/>
<rect x="317.5" y="143.04" width="10.9" height="2.68" fill="#fff2ab"/>
<rect x="328" y="143.04" width="10.5" height="2.68" fill="#fa8856"/>
<rect x="244" y="145.32" width="10.9" height="2.28" fill="#7dabd1"/>
<rect x="254.5" y="145.32" width="10.9" height="2.28" fill="#e2f4f4"/>
<rect x="265" y="145.32" width="10.9" height="2.28" fill="#e2f4f5"/>
<rect x="275.5" y="145.32" width="10.9" height="2.28" fill="#fffdbb"/>
<rect x="286" y="145.32" width="10.9" height="2.28" fill="#fff0a8"/>
<rect x="296.5" y="145.32" width="10.9" height="2.28" fill="#feeca2"/>
<rect x="307" y="145.32" width="10.9" height="2.28" fill="#feeba1"/>
<rect x="317.5" y="145.32" width="10.9" height="2.28" fill="#fee090"/>
<rect x="328" y="145.32" width="10.5" height="2.28" fill="#fdc07b"/>
<path d="M243.6 87.16L243.02 87.16M243.6 89.44L243.02 89.44M243.02 87.16L243.02 89.44M243.6 71.19L243.23 71.19M243.6 73.47L243.23 73.47M243.23 71.19L243.23 73.47M243.6 52.94L243.14 52.94M243.6 55.23L243.14 55.23M243.14 52.94L243.14 55.23M243.14 54.09L242.29 54.09M243.6 57.51L242.29 57.51M242.29 54.09L242.29 57.51M243.6 84.88L242.5 84.88M243.02 88.3L242.5 88.3M242.5 84.88L242.5 88.3M243.6 66.63L243.38 66.63M243.6 68.91L243.38 68.91M243.38 66.63L243.38 68.91M243.6 50.66L241.27 50.66M242.29 55.8L241.27 55.8M241.27 50.66L241.27 55.8M243.6 91.72L243.47 91.72M243.6 94L243.47 94M243.47 91.72L243.47 94M242.5 86.59L241.9 86.59M243.47 92.86L241.9 92.86M241.9 86.59L241.9 92.86M243.6 59.79L243.1 59.79M243.6 62.07L243.1 62.07M243.1 59.79L243.1 62.07M243.6 80.31L243.09 80.31M243.6 82.6L243.09 82.6M243.09 80.31L243.09 82.6M243.6 75.75L243.31 75.75M243.6 78.03L243.31 78.03M243.31 75.75L243.31 78.03M243.6 48.38L240.53 48.38M241.27 53.23L240.53 53.23M240.53 48.38L240.53 53.23M243.6 41.54L243.2 41.54M243.6 43.82L243.2 43.82M243.2 41.54L243.2 43.82M241.9 89.72L241.47 89.72M243.6 96.28L241.47 96.28M241.47 89.72L241.47 96.28M243.09 81.46L240.22 81.46M241.47 93L240.22 93M240.22 81.46L240.22 93M243.23 72.33L242.39 72.33M243.31 76.89L242.39 76.89M242.39 72.33L242.39 76.89M243.6 64.35L242.82 64.35M243.38 67.77L242.82 67.77M242.82 64.35L242.82 67.77M240.53 50.81L239.79 50.81M243.1 60.93L239.79 60.93M239.79 50.81L239.79 60.93M243.2 42.68L242.57 42.68M243.6 46.1L242.57 46.1M242.57 42.68L242.57 46.1M242.39 74.61L238.95 74.61M240.22 87.23L238.95 87.23M238.95 74.61L238.95 87.23M242.82 66.06L238 66.06M238.95 80.92L238 80.92M238 66.06L238 80.92M239.79 55.87L237.05 55.87M238 73.49L237.05 73.49M237.05 55.87L237.05 73.49M242.57 44.39L235 44.39M237.05 64.68L235 64.68M235 44.39L235 64.68M243.6 125.93L243.35 125.93M243.6 128.21L243.35 128.21M243.35 125.93L243.35 128.21M243.6 132.77L243.22 132.77M243.6 135.06L243.22 135.06M243.22 132.77L243.22 135.06M243.6 119.09L243.27 119.09M243.6 121.37L243.27 121.37M243.27 119.09L243.27 121.37M243.6 107.69L243.11 107.69M243.6 109.97L243.11 109.97M243.11 107.69L243.11 109.97M243.22 133.91L242.39 133.91M243.6 137.34L242.39 137.34M242.39 133.91L242.39 137.34M243.6 98.56L243 98.56M243.6 100.84L243 100.84M243 98.56L243 100.84M243 99.7L242.01 99.7M243.6 103.12L242.01 103.12M242.01 99.7L242.01 103.12M242.01 101.41L241.52 101.41M243.6 105.4L241.52 105.4M241.52 101.41L241.52 105.4M243.6 144.18L243.15 144.18M243.6 146.46L243.15 146.46M243.15 144.18L243.15 146.46M242.39 135.63L241.52 135.63M243.6 139.62L241.52 139.62M241.52 135.63L241.52 139.62M243.6 116.81L242.88 116.81M243.27 120.23L242.88 120.23M242.88 116.81L242.88 120.23M243.35 127.07L242.77 127.07M243.6 130.49L242.77 130.49M242.77 127.07L242.77 130.49M243.6 114.53L242.16 114.53M242.88 118.52L242.16 118.52M242.16 114.53L242.16 118.52M243.11 108.83L242.63 108.83M243.6 112.25L242.63 112.25M242.63 108.83L242.63 112.25M243.6 123.65L242.13 123.65M242.77 128.78L242.13 128.78M242.13 123.65L242.13 128.78M242.13 126.22L240.65 126.22M241.52 137.62L240.65 137.62M240.65 126.22L240.65 137.62M240.65 131.92L239.11 131.92M243.6 141.9L239.11 141.9M239.11 131.92L239.11 141.9M241.52 103.41L240.7 103.41M242.63 110.54L240.7 110.54M240.7 103.41L240.7 110.54M240.7 106.97L240.05 106.97M242.16 116.52L240.05 116.52M240.05 106.97L240.05 116.52M239.11 136.91L238.5 136.91M243.15 145.32L238.5 145.32M238.5 136.91L238.5 145.32M240.05 111.75L234 111.75M238.5 141.11L234 141.11M234 111.75L234 141.11M235 54.54L230 54.54M234 126.43L230 126.43M230 54.54L230 126.43" stroke="#1a1a1a" stroke-width="0.8" fill="none"/>
<text x="250.25" y="151.5" font-size="7.3" text-anchor="end" fill="#111" textLength="12" lengthAdjust="spacingAndGlyphs" transform="rotate(-90 250.25 151.5)" stroke="#111" stroke-width="0.12">13D</text>
<text x="260.75" y="151.5" font-size="7.3" text-anchor="end" fill="#111" textLength="12" lengthAdjust="spacingAndGlyphs" transform="rotate(-90 260.75 151.5)" stroke="#111" stroke-width="0.12">14D</text>
<text x="271.25" y="151.5" font-size="7.3" text-anchor="end" fill="#111" textLength="12" lengthAdjust="spacingAndGlyphs" transform="rotate(-90 271.25 151.5)" stroke="#111" stroke-width="0.12">15D</text>
<text x="281.75" y="151.5" font-size="7.3" text-anchor="end" fill="#111" textLength="12" lengthAdjust="spacingAndGlyphs" transform="rotate(-90 281.75 151.5)" stroke="#111" stroke-width="0.12">13A</text>
<text x="292.25" y="151.5" font-size="7.3" text-anchor="end" fill="#111" textLength="12" lengthAdjust="spacingAndGlyphs" transform="rotate(-90 292.25 151.5)" stroke="#111" stroke-width="0.12">13C</text>
<text x="302.75" y="151.5" font-size="7.3" text-anchor="end" fill="#111" textLength="12" lengthAdjust="spacingAndGlyphs" transform="rotate(-90 302.75 151.5)" stroke="#111" stroke-width="0.12">14C</text>
<text x="313.25" y="151.5" font-size="7.3" text-anchor="end" fill="#111" textLength="12" lengthAdjust="spacingAndGlyphs" transform="rotate(-90 313.25 151.5)" stroke="#111" stroke-width="0.12">15C</text>
<text x="323.75" y="151.5" font-size="7.3" text-anchor="end" fill="#111" textLength="12" lengthAdjust="spacingAndGlyphs" transform="rotate(-90 323.75 151.5)" stroke="#111" stroke-width="0.12">14A</text>
<text x="334.25" y="151.5" font-size="7.3" text-anchor="end" fill="#111" textLength="12" lengthAdjust="spacingAndGlyphs" transform="rotate(-90 334.25 151.5)" stroke="#111" stroke-width="0.12">15A</text>
<defs><linearGradient id="gB" x1="0" y1="0" x2="0" y2="1"><stop offset="0" stop-color="#d73027"/><stop offset="0.17" stop-color="#fc8d59"/><stop offset="0.33" stop-color="#fee090"/><stop offset="0.5" stop-color="#ffffbf"/><stop offset="0.67" stop-color="#e0f3f8"/><stop offset="0.83" stop-color="#91bfdb"/><stop offset="1" stop-color="#4575b4"/></linearGradient></defs>
<rect x="340" y="35" width="3" height="47.9" fill="url(#gB)"/>
<text x="343.6" y="39" font-size="5.2" fill="#333" stroke="#333" stroke-width="0.05">2</text>
<text x="343.6" y="49.4" font-size="5.2" fill="#333" stroke="#333" stroke-width="0.05">1</text>
<text x="343.6" y="61.2" font-size="5.2" fill="#333" stroke="#333" stroke-width="0.05">0</text>
<text x="343.6" y="72.1" font-size="5.2" fill="#333" stroke="#333" stroke-width="0.05">-1</text>
<text x="343.6" y="82.5" font-size="5.2" fill="#333" stroke="#333" stroke-width="0.05">-2</text>
<text x="349" y="36.9" font-size="5.6" fill="#333" textLength="23.9" lengthAdjust="spacingAndGlyphs" stroke="#333" stroke-width="0.06">Condition</text>
<rect x="349" y="38.5" width="4.7" height="4.3" fill="#b7bb2f"/>
<rect x="349" y="42.8" width="4.7" height="4.8" fill="#35bdf0"/>
<text x="355" y="42.6" font-size="5.6" fill="#333" stroke="#333" stroke-width="0.06">VE</text>
<text x="355" y="47.2" font-size="5.6" fill="#333" textLength="13" lengthAdjust="spacingAndGlyphs" stroke="#333" stroke-width="0.06">CTRL</text>
<text x="349" y="52" font-size="5.6" fill="#333" textLength="17" lengthAdjust="spacingAndGlyphs" stroke="#333" stroke-width="0.06">patient</text>
<rect x="349" y="53.3" width="4.7" height="4.3" fill="#f4877f"/>
<rect x="349" y="57.6" width="4.7" height="4.4" fill="#d07fd0"/>
<rect x="349" y="62" width="4.7" height="4.8" fill="#3bb37b"/>
<text x="355" y="57.3" font-size="5.2" fill="#333" textLength="8.5" lengthAdjust="spacingAndGlyphs" stroke="#333" stroke-width="0.05">P13</text>
<text x="355" y="61.7" font-size="5.2" fill="#333" textLength="8.5" lengthAdjust="spacingAndGlyphs" stroke="#333" stroke-width="0.05">P14</text>
<text x="355" y="66.3" font-size="5.2" fill="#333" textLength="8.5" lengthAdjust="spacingAndGlyphs" stroke="#333" stroke-width="0.05">P15</text>
<text x="230.3" y="197.4" font-size="11.6" font-weight="bold" fill="#000">E</text>
<path d="M265.25 205.2L265.25 202.9M280.27 205.2L280.27 202.9M265.25 202.9L280.27 202.9M250.21 205.2L250.21 201.3M272.76 202.9L272.76 201.3M250.21 201.3L272.76 201.3M310.33 205.2L310.33 203.3M325.37 205.2L325.37 203.3M310.33 203.3L325.37 203.3M295.31 205.2L295.31 201.9M317.85 203.3L317.85 201.9M295.31 201.9L317.85 201.9M261.49 201.3L261.49 191.7M306.58 201.9L306.58 191.7M261.49 191.7L306.58 191.7" stroke="#1a1a1a" stroke-width="0.8" fill="none"/>
<rect x="242.7" y="205.2" width="15.33" height="2.6" fill="#b7bb2f"/>
<rect x="242.7" y="207.7" width="15.33" height="3.3" fill="#d07fd0"/>
<rect x="257.73" y="205.2" width="15.33" height="2.6" fill="#b7bb2f"/>
<rect x="257.73" y="207.7" width="15.33" height="3.3" fill="#3bb37b"/>
<rect x="272.76" y="205.2" width="15.33" height="2.6" fill="#b7bb2f"/>
<rect x="272.76" y="207.7" width="15.33" height="3.3" fill="#f4877f"/>
<rect x="287.79" y="205.2" width="15.33" height="2.6" fill="#35bdf0"/>
<rect x="287.79" y="207.7" width="15.33" height="3.3" fill="#d07fd0"/>
<rect x="302.82" y="205.2" width="15.33" height="2.6" fill="#35bdf0"/>
<rect x="302.82" y="207.7" width="15.33" height="3.3" fill="#f4877f"/>
<rect x="317.85" y="205.2" width="15.33" height="2.6" fill="#35bdf0"/>
<rect x="317.85" y="207.7" width="15.33" height="3.3" fill="#3bb37b"/>
<rect x="242.7" y="211" width="15.43" height="2.72" fill="#fc975f"/>
<rect x="257.73" y="211" width="15.43" height="2.72" fill="#e5533a"/>
<rect x="272.76" y="211" width="15.43" height="2.72" fill="#fda368"/>
<rect x="287.79" y="211" width="15.43" height="2.72" fill="#a8cee3"/>
<rect x="302.82" y="211" width="15.43" height="2.72" fill="#c8e4ef"/>
<rect x="317.85" y="211" width="15.03" height="2.72" fill="#6998c6"/>
<rect x="242.7" y="213.32" width="15.43" height="2.72" fill="#fc9e64"/>
<rect x="257.73" y="213.32" width="15.43" height="2.72" fill="#e6553b"/>
<rect x="272.76" y="213.32" width="15.43" height="2.72" fill="#fdab6d"/>
<rect x="287.79" y="213.32" width="15.43" height="2.72" fill="#b0d3e6"/>
<rect x="302.82" y="213.32" width="15.43" height="2.72" fill="#beddec"/>
<rect x="317.85" y="213.32" width="15.03" height="2.72" fill="#6291c3"/>
<rect x="242.7" y="215.65" width="15.43" height="2.72" fill="#fca066"/>
<rect x="257.73" y="215.65" width="15.43" height="2.72" fill="#e24c36"/>
<rect x="272.76" y="215.65" width="15.43" height="2.72" fill="#fda96c"/>
<rect x="287.79" y="215.65" width="15.43" height="2.72" fill="#9dc7df"/>
<rect x="302.82" y="215.65" width="15.43" height="2.72" fill="#d4ebf4"/>
<rect x="317.85" y="215.65" width="15.03" height="2.72" fill="#72a1cb"/>
<rect x="242.7" y="217.97" width="15.43" height="2.72" fill="#fedc8d"/>
<rect x="257.73" y="217.97" width="15.43" height="2.72" fill="#e45239"/>
<rect x="272.76" y="217.97" width="15.43" height="2.72" fill="#fdc57e"/>
<rect x="287.79" y="217.97" width="15.43" height="2.72" fill="#9cc7df"/>
<rect x="302.82" y="217.97" width="15.43" height="2.72" fill="#d9eef5"/>
<rect x="317.85" y="217.97" width="15.03" height="2.72" fill="#5c8bc0"/>
<rect x="242.7" y="220.3" width="15.43" height="2.72" fill="#fdbf7a"/>
<rect x="257.73" y="220.3" width="15.43" height="2.72" fill="#e95d3f"/>
<rect x="272.76" y="220.3" width="15.43" height="2.72" fill="#fdc880"/>
<rect x="287.79" y="220.3" width="15.43" height="2.72" fill="#d7edf5"/>
<rect x="302.82" y="220.3" width="15.43" height="2.72" fill="#d7edf5"/>
<rect x="317.85" y="220.3" width="15.03" height="2.72" fill="#6f9ec9"/>
<rect x="242.7" y="222.62" width="15.43" height="2.72" fill="#fdb674"/>
<rect x="257.73" y="222.62" width="15.43" height="2.72" fill="#e45139"/>
<rect x="272.76" y="222.62" width="15.43" height="2.72" fill="#fdbb78"/>
<rect x="287.79" y="222.62" width="15.43" height="2.72" fill="#dcf1f7"/>
<rect x="302.82" y="222.62" width="15.43" height="2.72" fill="#d7edf5"/>
<rect x="317.85" y="222.62" width="15.03" height="2.72" fill="#6190c2"/>
<rect x="242.7" y="224.95" width="15.43" height="2.72" fill="#fdc27c"/>
<rect x="257.73" y="224.95" width="15.43" height="2.72" fill="#e04633"/>
<rect x="272.76" y="224.95" width="15.43" height="2.72" fill="#fc9d64"/>
<rect x="287.79" y="224.95" width="15.43" height="2.72" fill="#ddf1f7"/>
<rect x="302.82" y="224.95" width="15.43" height="2.72" fill="#a4cce2"/>
<rect x="317.85" y="224.95" width="15.03" height="2.72" fill="#608fc2"/>
<rect x="242.7" y="227.28" width="15.43" height="2.72" fill="#fed589"/>
<rect x="257.73" y="227.28" width="15.43" height="2.72" fill="#eb6242"/>
<rect x="272.76" y="227.28" width="15.43" height="2.72" fill="#fc9f65"/>
<rect x="287.79" y="227.28" width="15.43" height="2.72" fill="#b6d7e9"/>
<rect x="302.82" y="227.28" width="15.43" height="2.72" fill="#b1d4e7"/>
<rect x="317.85" y="227.28" width="15.03" height="2.72" fill="#6493c4"/>
<rect x="242.7" y="229.6" width="15.43" height="2.72" fill="#fa8957"/>
<rect x="257.73" y="229.6" width="15.43" height="2.72" fill="#f07049"/>
<rect x="272.76" y="229.6" width="15.43" height="2.72" fill="#fdb372"/>
<rect x="287.79" y="229.6" width="15.43" height="2.72" fill="#b1d4e7"/>
<rect x="302.82" y="229.6" width="15.43" height="2.72" fill="#b3d5e8"/>
<rect x="317.85" y="229.6" width="15.03" height="2.72" fill="#6695c5"/>
<rect x="242.7" y="231.92" width="15.43" height="2.72" fill="#fa8856"/>
<rect x="257.73" y="231.92" width="15.43" height="2.72" fill="#f67d51"/>
<rect x="272.76" y="231.92" width="15.43" height="2.72" fill="#fdb171"/>
<rect x="287.79" y="231.92" width="15.43" height="2.72" fill="#bcdbeb"/>
<rect x="302.82" y="231.92" width="15.43" height="2.72" fill="#b0d3e6"/>
<rect x="317.85" y="231.92" width="15.03" height="2.72" fill="#93c0dc"/>
<rect x="242.7" y="234.25" width="15.43" height="2.72" fill="#fca066"/>
<rect x="257.73" y="234.25" width="15.43" height="2.72" fill="#f77f52"/>
<rect x="272.76" y="234.25" width="15.43" height="2.72" fill="#fc9a61"/>
<rect x="287.79" y="234.25" width="15.43" height="2.72" fill="#98c3dd"/>
<rect x="302.82" y="234.25" width="15.43" height="2.72" fill="#9fc8e0"/>
<rect x="317.85" y="234.25" width="15.03" height="2.72" fill="#92c0dc"/>
<rect x="242.7" y="236.57" width="15.43" height="2.72" fill="#f98655"/>
<rect x="257.73" y="236.57" width="15.43" height="2.72" fill="#fda96c"/>
<rect x="272.76" y="236.57" width="15.43" height="2.72" fill="#f88454"/>
<rect x="287.79" y="236.57" width="15.43" height="2.72" fill="#89b7d7"/>
<rect x="302.82" y="236.57" width="15.43" height="2.72" fill="#badaea"/>
<rect x="317.85" y="236.57" width="15.03" height="2.72" fill="#98c3dd"/>
<rect x="242.7" y="238.9" width="15.43" height="2.72" fill="#f88454"/>
<rect x="257.73" y="238.9" width="15.43" height="2.72" fill="#fc9760"/>
<rect x="272.76" y="238.9" width="15.43" height="2.72" fill="#fc975f"/>
<rect x="287.79" y="238.9" width="15.43" height="2.72" fill="#95c1dc"/>
<rect x="302.82" y="238.9" width="15.43" height="2.72" fill="#afd3e6"/>
<rect x="317.85" y="238.9" width="15.03" height="2.72" fill="#abd0e5"/>
<rect x="242.7" y="241.22" width="15.43" height="2.72" fill="#ed6745"/>
<rect x="257.73" y="241.22" width="15.43" height="2.72" fill="#fdb473"/>
<rect x="272.76" y="241.22" width="15.43" height="2.72" fill="#f67f51"/>
<rect x="287.79" y="241.22" width="15.43" height="2.72" fill="#acd1e5"/>
<rect x="302.82" y="241.22" width="15.43" height="2.72" fill="#b4d6e8"/>
<rect x="317.85" y="241.22" width="15.03" height="2.72" fill="#b7d8e9"/>
<rect x="242.7" y="243.55" width="15.43" height="2.72" fill="#fc955e"/>
<rect x="257.73" y="243.55" width="15.43" height="2.72" fill="#fdb171"/>
<rect x="272.76" y="243.55" width="15.43" height="2.72" fill="#fc945e"/>
<rect x="287.79" y="243.55" width="15.43" height="2.72" fill="#a8cee3"/>
<rect x="302.82" y="243.55" width="15.43" height="2.72" fill="#aed2e6"/>
<rect x="317.85" y="243.55" width="15.03" height="2.72" fill="#badaea"/>
<rect x="242.7" y="245.88" width="15.43" height="2.72" fill="#f1704a"/>
<rect x="257.73" y="245.88" width="15.43" height="2.72" fill="#fdb573"/>
<rect x="272.76" y="245.88" width="15.43" height="2.72" fill="#fc965f"/>
<rect x="287.79" y="245.88" width="15.43" height="2.72" fill="#a0c9e0"/>
<rect x="302.82" y="245.88" width="15.43" height="2.72" fill="#b3d6e8"/>
<rect x="317.85" y="245.88" width="15.03" height="2.72" fill="#a3cbe1"/>
<rect x="242.7" y="248.2" width="15.43" height="2.7" fill="#6190c2"/>
<rect x="257.73" y="248.2" width="15.43" height="2.7" fill="#cae5f0"/>
<rect x="272.76" y="248.2" width="15.43" height="2.7" fill="#d2eaf3"/>
<rect x="287.79" y="248.2" width="15.43" height="2.7" fill="#e14934"/>
<rect x="302.82" y="248.2" width="15.43" height="2.7" fill="#fed387"/>
<rect x="317.85" y="248.2" width="15.03" height="2.7" fill="#fdb875"/>
<rect x="242.7" y="250.5" width="15.43" height="2.7" fill="#76a5cd"/>
<rect x="257.73" y="250.5" width="15.43" height="2.7" fill="#c8e3ef"/>
<rect x="272.76" y="250.5" width="15.43" height="2.7" fill="#daeff6"/>
<rect x="287.79" y="250.5" width="15.43" height="2.7" fill="#de4130"/>
<rect x="302.82" y="250.5" width="15.43" height="2.7" fill="#fed88b"/>
<rect x="317.85" y="250.5" width="15.03" height="2.7" fill="#fdc07b"/>
<rect x="242.7" y="252.8" width="15.43" height="2.7" fill="#f4fbd4"/>
<rect x="257.73" y="252.8" width="15.43" height="2.7" fill="#99c4de"/>
<rect x="272.76" y="252.8" width="15.43" height="2.7" fill="#a2cae1"/>
<rect x="287.79" y="252.8" width="15.43" height="2.7" fill="#fee99e"/>
<rect x="302.82" y="252.8" width="15.43" height="2.7" fill="#e7573c"/>
<rect x="317.85" y="252.8" width="15.03" height="2.7" fill="#f78052"/>
<rect x="242.7" y="255.1" width="15.43" height="2.7" fill="#d0e9f2"/>
<rect x="257.73" y="255.1" width="15.43" height="2.7" fill="#bcdbeb"/>
<rect x="272.76" y="255.1" width="15.43" height="2.7" fill="#74a3cc"/>
<rect x="287.79" y="255.1" width="15.43" height="2.7" fill="#fee598"/>
<rect x="302.82" y="255.1" width="15.43" height="2.7" fill="#ea6141"/>
<rect x="317.85" y="255.1" width="15.03" height="2.7" fill="#fca065"/>
<rect x="242.7" y="257.4" width="15.43" height="2.7" fill="#cce6f1"/>
<rect x="257.73" y="257.4" width="15.43" height="2.7" fill="#bcdbeb"/>
<rect x="272.76" y="257.4" width="15.43" height="2.7" fill="#6594c4"/>
<rect x="287.79" y="257.4" width="15.43" height="2.7" fill="#fee496"/>
<rect x="302.82" y="257.4" width="15.43" height="2.7" fill="#ec6644"/>
<rect x="317.85" y="257.4" width="15.03" height="2.7" fill="#fc8d59"/>
<rect x="242.7" y="259.7" width="15.43" height="2.7" fill="#fffbb9"/>
<rect x="257.73" y="259.7" width="15.43" height="2.7" fill="#6695c5"/>
<rect x="272.76" y="259.7" width="15.43" height="2.7" fill="#b8d9e9"/>
<rect x="287.79" y="259.7" width="15.43" height="2.7" fill="#fee79b"/>
<rect x="302.82" y="259.7" width="15.43" height="2.7" fill="#fc9861"/>
<rect x="317.85" y="259.7" width="15.03" height="2.7" fill="#e5543a"/>
<rect x="242.7" y="262" width="15.43" height="2.7" fill="#e4f4f1"/>
<rect x="257.73" y="262" width="15.43" height="2.7" fill="#74a2cc"/>
<rect x="272.76" y="262" width="15.43" height="2.7" fill="#c3e0ed"/>
<rect x="287.79" y="262" width="15.43" height="2.7" fill="#fed589"/>
<rect x="302.82" y="262" width="15.43" height="2.7" fill="#f78152"/>
<rect x="317.85" y="262" width="15.03" height="2.7" fill="#e6553b"/>
<rect x="242.7" y="264.3" width="15.43" height="2.7" fill="#dcf0f6"/>
<rect x="257.73" y="264.3" width="15.43" height="2.7" fill="#6595c5"/>
<rect x="272.76" y="264.3" width="15.43" height="2.7" fill="#bfddec"/>
<rect x="287.79" y="264.3" width="15.43" height="2.7" fill="#fedb8d"/>
<rect x="302.82" y="264.3" width="15.43" height="2.7" fill="#fc965f"/>
<rect x="317.85" y="264.3" width="15.03" height="2.7" fill="#e45038"/>
<rect x="242.7" y="266.6" width="15.43" height="2.7" fill="#abd0e4"/>
<rect x="257.73" y="266.6" width="15.43" height="2.7" fill="#dff2f7"/>
<rect x="272.76" y="266.6" width="15.43" height="2.7" fill="#a5cce2"/>
<rect x="287.79" y="266.6" width="15.43" height="2.7" fill="#f4784e"/>
<rect x="302.82" y="266.6" width="15.43" height="2.7" fill="#f3754c"/>
<rect x="317.85" y="266.6" width="15.03" height="2.7" fill="#fdaa6c"/>
<rect x="242.7" y="268.9" width="15.43" height="2.7" fill="#bddceb"/>
<rect x="257.73" y="268.9" width="15.43" height="2.7" fill="#abd0e4"/>
<rect x="272.76" y="268.9" width="15.43" height="2.7" fill="#a0c9e0"/>
<rect x="287.79" y="268.9" width="15.43" height="2.7" fill="#fc915c"/>
<rect x="302.82" y="268.9" width="15.43" height="2.7" fill="#fc925c"/>
<rect x="317.85" y="268.9" width="15.03" height="2.7" fill="#fda368"/>
<rect x="242.7" y="271.2" width="15.43" height="2.7" fill="#bedceb"/>
<rect x="257.73" y="271.2" width="15.43" height="2.7" fill="#b4d6e8"/>
<rect x="272.76" y="271.2" width="15.43" height="2.7" fill="#9dc7df"/>
<rect x="287.79" y="271.2" width="15.43" height="2.7" fill="#f78052"/>
<rect x="302.82" y="271.2" width="15.43" height="2.7" fill="#f98454"/>
<rect x="317.85" y="271.2" width="15.03" height="2.7" fill="#fda86b"/>
<rect x="242.7" y="273.5" width="15.43" height="2.7" fill="#b4d6e8"/>
<rect x="257.73" y="273.5" width="15.43" height="2.7" fill="#b5d7e8"/>
<rect x="272.76" y="273.5" width="15.43" height="2.7" fill="#9ec8e0"/>
<rect x="287.79" y="273.5" width="15.43" height="2.7" fill="#f88253"/>
<rect x="302.82" y="273.5" width="15.43" height="2.7" fill="#fda86b"/>
<rect x="317.85" y="273.5" width="15.03" height="2.7" fill="#fda468"/>
<rect x="242.7" y="275.8" width="15.43" height="2.7" fill="#d6edf4"/>
<rect x="257.73" y="275.8" width="15.43" height="2.7" fill="#78a6ce"/>
<rect x="272.76" y="275.8" width="15.43" height="2.7" fill="#b0d3e6"/>
<rect x="287.79" y="275.8" width="15.43" height="2.7" fill="#f3774d"/>
<rect x="302.82" y="275.8" width="15.43" height="2.7" fill="#fdb272"/>
<rect x="317.85" y="275.8" width="15.03" height="2.7" fill="#fda96c"/>
<rect x="242.7" y="278.1" width="15.43" height="2.7" fill="#daeff6"/>
<rect x="257.73" y="278.1" width="15.43" height="2.7" fill="#7caad0"/>
<rect x="272.76" y="278.1" width="15.43" height="2.7" fill="#a7cde3"/>
<rect x="287.79" y="278.1" width="15.43" height="2.7" fill="#fda66a"/>
<rect x="302.82" y="278.1" width="15.43" height="2.7" fill="#fda569"/>
<rect x="317.85" y="278.1" width="15.03" height="2.7" fill="#e95c3f"/>
<rect x="242.7" y="280.4" width="15.43" height="2.7" fill="#d3ebf3"/>
<rect x="257.73" y="280.4" width="15.43" height="2.7" fill="#8ebcda"/>
<rect x="272.76" y="280.4" width="15.43" height="2.7" fill="#abd0e4"/>
<rect x="287.79" y="280.4" width="15.43" height="2.7" fill="#fdab6d"/>
<rect x="302.82" y="280.4" width="15.43" height="2.7" fill="#fdb976"/>
<rect x="317.85" y="280.4" width="15.03" height="2.7" fill="#f78052"/>
<rect x="242.7" y="282.7" width="15.43" height="2.7" fill="#ddf1f7"/>
<rect x="257.73" y="282.7" width="15.43" height="2.7" fill="#9bc5df"/>
<rect x="272.76" y="282.7" width="15.43" height="2.7" fill="#aed2e6"/>
<rect x="287.79" y="282.7" width="15.43" height="2.7" fill="#fdb171"/>
<rect x="302.82" y="282.7" width="15.43" height="2.7" fill="#fda86b"/>
<rect x="317.85" y="282.7" width="15.03" height="2.7" fill="#f78153"/>
<rect x="242.7" y="285" width="15.43" height="2.7" fill="#cfe8f2"/>
<rect x="257.73" y="285" width="15.43" height="2.7" fill="#9ac5de"/>
<rect x="272.76" y="285" width="15.43" height="2.7" fill="#9ec8e0"/>
<rect x="287.79" y="285" width="15.43" height="2.7" fill="#fda86b"/>
<rect x="302.82" y="285" width="15.43" height="2.7" fill="#fdbb77"/>
<rect x="317.85" y="285" width="15.03" height="2.7" fill="#f78152"/>
<rect x="242.7" y="287.3" width="15.43" height="2.7" fill="#d0e8f2"/>
<rect x="257.73" y="287.3" width="15.43" height="2.7" fill="#8ab9d8"/>
<rect x="272.76" y="287.3" width="15.43" height="2.7" fill="#aed2e6"/>
<rect x="287.79" y="287.3" width="15.43" height="2.7" fill="#fdae6f"/>
<rect x="302.82" y="287.3" width="15.43" height="2.7" fill="#fdab6d"/>
<rect x="317.85" y="287.3" width="15.03" height="2.7" fill="#f3774d"/>
<rect x="242.7" y="289.6" width="15.43" height="2.7" fill="#b2d5e7"/>
<rect x="257.73" y="289.6" width="15.43" height="2.7" fill="#85b3d5"/>
<rect x="272.76" y="289.6" width="15.43" height="2.7" fill="#a4cbe2"/>
<rect x="287.79" y="289.6" width="15.43" height="2.7" fill="#fda96c"/>
<rect x="302.82" y="289.6" width="15.43" height="2.7" fill="#fdb674"/>
<rect x="317.85" y="289.6" width="15.03" height="2.7" fill="#fc8d59"/>
<rect x="242.7" y="291.9" width="15.43" height="2.7" fill="#c3e0ed"/>
<rect x="257.73" y="291.9" width="15.43" height="2.7" fill="#a2cae1"/>
<rect x="272.76" y="291.9" width="15.43" height="2.7" fill="#a7cee3"/>
<rect x="287.79" y="291.9" width="15.43" height="2.7" fill="#f78153"/>
<rect x="302.82" y="291.9" width="15.43" height="2.7" fill="#fdb372"/>
<rect x="317.85" y="291.9" width="15.03" height="2.7" fill="#f67f51"/>
<rect x="242.7" y="294.2" width="15.43" height="2.7" fill="#b1d4e7"/>
<rect x="257.73" y="294.2" width="15.43" height="2.7" fill="#9cc6df"/>
<rect x="272.76" y="294.2" width="15.43" height="2.7" fill="#b0d4e7"/>
<rect x="287.79" y="294.2" width="15.43" height="2.7" fill="#f78152"/>
<rect x="302.82" y="294.2" width="15.43" height="2.7" fill="#fda468"/>
<rect x="317.85" y="294.2" width="15.03" height="2.7" fill="#fa8756"/>
<rect x="242.7" y="296.5" width="15.43" height="2.7" fill="#b0d3e6"/>
<rect x="257.73" y="296.5" width="15.43" height="2.7" fill="#99c4de"/>
<rect x="272.76" y="296.5" width="15.43" height="2.7" fill="#a0c9e0"/>
<rect x="287.79" y="296.5" width="15.43" height="2.7" fill="#fc8d59"/>
<rect x="302.82" y="296.5" width="15.43" height="2.7" fill="#fda569"/>
<rect x="317.85" y="296.5" width="15.03" height="2.7" fill="#f4794e"/>
<rect x="242.7" y="298.8" width="15.43" height="2.7" fill="#b3d5e7"/>
<rect x="257.73" y="298.8" width="15.43" height="2.7" fill="#a9cfe4"/>
<rect x="272.76" y="298.8" width="15.43" height="2.7" fill="#a3cbe2"/>
<rect x="287.79" y="298.8" width="15.43" height="2.7" fill="#fc965f"/>
<rect x="302.82" y="298.8" width="15.43" height="2.7" fill="#fdb070"/>
<rect x="317.85" y="298.8" width="15.03" height="2.7" fill="#fb8a58"/>
<rect x="242.7" y="301.1" width="15.43" height="2.7" fill="#a6cde3"/>
<rect x="257.73" y="301.1" width="15.43" height="2.7" fill="#9bc6df"/>
<rect x="272.76" y="301.1" width="15.43" height="2.7" fill="#acd1e5"/>
<rect x="287.79" y="301.1" width="15.43" height="2.7" fill="#fc8d59"/>
<rect x="302.82" y="301.1" width="15.43" height="2.7" fill="#fdb372"/>
<rect x="317.85" y="301.1" width="15.03" height="2.7" fill="#f47a4f"/>
<rect x="242.7" y="303.4" width="15.43" height="2.7" fill="#badaea"/>
<rect x="257.73" y="303.4" width="15.43" height="2.7" fill="#9cc7df"/>
<rect x="272.76" y="303.4" width="15.43" height="2.7" fill="#9ec8e0"/>
<rect x="287.79" y="303.4" width="15.43" height="2.7" fill="#fc9961"/>
<rect x="302.82" y="303.4" width="15.43" height="2.7" fill="#fda468"/>
<rect x="317.85" y="303.4" width="15.03" height="2.7" fill="#fc915c"/>
<rect x="242.7" y="305.7" width="15.43" height="2.7" fill="#b3d5e7"/>
<rect x="257.73" y="305.7" width="15.43" height="2.7" fill="#9fc8e0"/>
<rect x="272.76" y="305.7" width="15.43" height="2.7" fill="#a4cbe2"/>
<rect x="287.79" y="305.7" width="15.43" height="2.7" fill="#f98454"/>
<rect x="302.82" y="305.7" width="15.43" height="2.7" fill="#fdbb77"/>
<rect x="317.85" y="305.7" width="15.03" height="2.7" fill="#fc8e5a"/>
<rect x="242.7" y="308" width="15.43" height="2.7" fill="#acd1e5"/>
<rect x="257.73" y="308" width="15.43" height="2.7" fill="#92bfdb"/>
<rect x="272.76" y="308" width="15.43" height="2.7" fill="#b1d4e7"/>
<rect x="287.79" y="308" width="15.43" height="2.7" fill="#fc945e"/>
<rect x="302.82" y="308" width="15.43" height="2.7" fill="#fdb875"/>
<rect x="317.85" y="308" width="15.03" height="2.7" fill="#fc915b"/>
<rect x="242.7" y="310.3" width="15.43" height="2.3" fill="#b1d4e7"/>
<rect x="257.73" y="310.3" width="15.43" height="2.3" fill="#9cc6df"/>
<rect x="272.76" y="310.3" width="15.43" height="2.3" fill="#acd1e5"/>
<rect x="287.79" y="310.3" width="15.43" height="2.3" fill="#fa8857"/>
<rect x="302.82" y="310.3" width="15.43" height="2.3" fill="#fda66a"/>
<rect x="317.85" y="310.3" width="15.03" height="2.3" fill="#f3764d"/>
<path d="M242.3 228.32L241.89 228.32M242.3 230.63L241.89 230.63M241.89 228.32L241.89 230.63M242.3 223.7L241.58 223.7M242.3 226.01L241.58 226.01M241.58 223.7L241.58 226.01M242.3 244.48L241.58 244.48M242.3 246.79L241.58 246.79M241.58 244.48L241.58 246.79M242.3 235.25L241.64 235.25M242.3 237.55L241.64 237.55M241.64 235.25L241.64 237.55M242.3 212.15L241.6 212.15M242.3 214.46L241.6 214.46M241.6 212.15L241.6 214.46M241.58 224.85L240.57 224.85M241.89 229.47L240.57 229.47M240.57 224.85L240.57 229.47M240.57 227.16L239.01 227.16M242.3 232.94L239.01 232.94M239.01 227.16L239.01 232.94M242.3 221.39L238.47 221.39M239.01 230.05L238.47 230.05M238.47 221.39L238.47 230.05M241.64 236.4L240.88 236.4M242.3 239.86L240.88 239.86M240.88 236.4L240.88 239.86M241.6 213.31L240.97 213.31M242.3 216.77L240.97 216.77M240.97 213.31L240.97 216.77M242.3 219.08L236.59 219.08M238.47 225.72L236.59 225.72M236.59 219.08L236.59 225.72M242.3 242.17L240.9 242.17M241.58 245.64L240.9 245.64M240.9 242.17L240.9 245.64M240.88 238.13L239.84 238.13M240.9 243.9L239.84 243.9M239.84 238.13L239.84 243.9M240.97 215.04L235.57 215.04M236.59 222.4L235.57 222.4M235.57 215.04L235.57 222.4M235.57 218.72L231.5 218.72M239.84 241.02L231.5 241.02M231.5 218.72L231.5 241.02M242.3 262.95L241.71 262.95M242.3 265.26L241.71 265.26M241.71 262.95L241.71 265.26M242.3 288.35L241.55 288.35M242.3 290.66L241.55 290.66M241.55 288.35L241.55 290.66M241.71 264.11L239.89 264.11M242.3 267.57L239.89 267.57M239.89 264.11L239.89 267.57M242.3 272.19L241.19 272.19M242.3 274.5L241.19 274.5M241.19 272.19L241.19 274.5M242.3 251.41L241.11 251.41M242.3 253.72L241.11 253.72M241.11 251.41L241.11 253.72M242.3 269.88L240.17 269.88M241.19 273.35L240.17 273.35M240.17 269.88L240.17 273.35M242.3 299.9L241.38 299.9M242.3 302.21L241.38 302.21M241.38 299.9L241.38 302.21M242.3 281.43L241.7 281.43M242.3 283.74L241.7 283.74M241.7 281.43L241.7 283.74M241.55 289.51L240.44 289.51M242.3 292.97L240.44 292.97M240.44 289.51L240.44 292.97M242.3 309.14L241.4 309.14M242.3 311.45L241.4 311.45M241.4 309.14L241.4 311.45M242.3 276.81L241.79 276.81M242.3 279.12L241.79 279.12M241.79 276.81L241.79 279.12M242.3 258.34L241.86 258.34M242.3 260.65L241.86 260.65M241.86 258.34L241.86 260.65M241.79 277.96L241.17 277.96M241.7 282.58L241.17 282.58M241.17 277.96L241.17 282.58M241.17 280.27L240.23 280.27M242.3 286.05L240.23 286.05M240.23 280.27L240.23 286.05M242.3 256.03L241.06 256.03M241.86 259.49L241.06 259.49M241.06 256.03L241.06 259.49M241.11 252.56L239.73 252.56M241.06 257.76L239.73 257.76M239.73 252.56L239.73 257.76M242.3 304.52L242.02 304.52M242.3 306.83L242.02 306.83M242.02 304.52L242.02 306.83M239.89 265.84L238.35 265.84M240.17 271.61L238.35 271.61M238.35 265.84L238.35 271.61M241.38 301.05L240.76 301.05M242.02 305.67L240.76 305.67M240.76 301.05L240.76 305.67M240.23 283.16L238.82 283.16M240.44 291.24L238.82 291.24M238.82 283.16L238.82 291.24M240.76 303.36L239.62 303.36M241.4 310.29L239.62 310.29M239.62 303.36L239.62 310.29M242.3 295.28L241.96 295.28M242.3 297.59L241.96 297.59M241.96 295.28L241.96 297.59M241.96 296.44L237.44 296.44M239.62 306.83L237.44 306.83M237.44 296.44L237.44 306.83M239.73 255.16L236.6 255.16M238.35 268.73L236.6 268.73M236.6 255.16L236.6 268.73M238.82 287.2L235.24 287.2M237.44 301.63L235.24 301.63M235.24 287.2L235.24 301.63M236.6 261.94L233.27 261.94M235.24 294.42L233.27 294.42M233.27 261.94L233.27 294.42M242.3 249.1L230.6 249.1M233.27 278.18L230.6 278.18M230.6 249.1L230.6 278.18M231.5 229.87L228.4 229.87M230.6 263.64L228.4 263.64M228.4 229.87L228.4 263.64" stroke="#1a1a1a" stroke-width="0.8" fill="none"/>
<text x="250.21" y="322" font-size="8.6" text-anchor="middle" fill="#444">C</text>
<text x="265.25" y="322" font-size="8.6" text-anchor="middle" fill="#444">D</text>
<text x="280.27" y="322" font-size="8.6" text-anchor="middle" fill="#444">B</text>
<text x="295.31" y="322" font-size="8.6" text-anchor="middle" fill="#444">C</text>
<text x="310.33" y="322" font-size="8.6" text-anchor="middle" fill="#444">B</text>
<text x="325.37" y="322" font-size="8.6" text-anchor="middle" fill="#444">D</text>
<defs><linearGradient id="gE" x1="0" y1="0" x2="0" y2="1"><stop offset="0" stop-color="#d73027"/><stop offset="0.17" stop-color="#fc8d59"/><stop offset="0.33" stop-color="#fee090"/><stop offset="0.5" stop-color="#ffffbf"/><stop offset="0.67" stop-color="#e0f3f8"/><stop offset="0.83" stop-color="#91bfdb"/><stop offset="1" stop-color="#4575b4"/></linearGradient></defs>
<rect x="333.6" y="204.8" width="3.2" height="47.6" fill="url(#gE)"/>
<text x="337.6" y="208.1" font-size="5.2" fill="#333" stroke="#333" stroke-width="0.05">1.5</text>
<text x="337.6" y="215.8" font-size="5.2" fill="#333" stroke="#333" stroke-width="0.05">1</text>
<text x="337.6" y="223" font-size="5.2" fill="#333" stroke="#333" stroke-width="0.05">0.5</text>
<text x="337.6" y="230.6" font-size="5.2" fill="#333" stroke="#333" stroke-width="0.05">0</text>
<text x="337.6" y="237.8" font-size="5.2" fill="#333" stroke="#333" stroke-width="0.05">-0.5</text>
<text x="337.6" y="245.6" font-size="5.2" fill="#333" stroke="#333" stroke-width="0.05">-1</text>
<text x="337.6" y="251.8" font-size="5.2" fill="#333" stroke="#333" stroke-width="0.05">-1.5</text>
<text x="346.8" y="207.2" font-size="5.6" fill="#333" textLength="23.5" lengthAdjust="spacingAndGlyphs" stroke="#333" stroke-width="0.06">Condition</text>
<rect x="347.7" y="208.5" width="4.3" height="4.3" fill="#b7bb2f"/>
<rect x="347.7" y="212.8" width="4.3" height="4.5" fill="#35bdf0"/>
<text x="353.2" y="212.5" font-size="5.4" fill="#333" textLength="11.5" lengthAdjust="spacingAndGlyphs" stroke="#333" stroke-width="0.05">PBMC</text>
<text x="353.2" y="216.9" font-size="5.4" fill="#333" textLength="13.5" lengthAdjust="spacingAndGlyphs" stroke="#333" stroke-width="0.05">Lesion</text>
<text x="347" y="222.6" font-size="5.6" fill="#333" textLength="17" lengthAdjust="spacingAndGlyphs" stroke="#333" stroke-width="0.06">patient</text>
<rect x="347.7" y="224" width="4.3" height="4.4" fill="#f4877f"/>
<rect x="347.7" y="228.4" width="4.3" height="4.3" fill="#d07fd0"/>
<rect x="347.7" y="232.7" width="4.3" height="4.3" fill="#3bb37b"/>
<text x="353.5" y="228" font-size="5.2" fill="#333" stroke="#333" stroke-width="0.05">B</text>
<text x="353.5" y="232.3" font-size="5.2" fill="#333" stroke="#333" stroke-width="0.05">C</text>
<text x="353.5" y="236.6" font-size="5.2" fill="#333" stroke="#333" stroke-width="0.05">D</text>
<text x="391.7" y="16.8" font-size="11.6" font-weight="bold" fill="#000">C</text>
<rect x="409.3" y="21" width="101.5" height="113.3" fill="#ffffff"/>
<line x1="412.4" y1="21" x2="412.4" y2="134.3" stroke="#efefef" stroke-width="0.5"/>
<line x1="422.9" y1="21" x2="422.9" y2="134.3" stroke="#efefef" stroke-width="0.5"/>
<line x1="433.5" y1="21" x2="433.5" y2="134.3" stroke="#efefef" stroke-width="0.5"/>
<line x1="444.1" y1="21" x2="444.1" y2="134.3" stroke="#efefef" stroke-width="0.5"/>
<line x1="454.6" y1="21" x2="454.6" y2="134.3" stroke="#efefef" stroke-width="0.5"/>
<line x1="465.2" y1="21" x2="465.2" y2="134.3" stroke="#efefef" stroke-width="0.5"/>
<line x1="475.8" y1="21" x2="475.8" y2="134.3" stroke="#efefef" stroke-width="0.5"/>
<line x1="486.4" y1="21" x2="486.4" y2="134.3" stroke="#efefef" stroke-width="0.5"/>
<line x1="497" y1="21" x2="497" y2="134.3" stroke="#efefef" stroke-width="0.5"/>
<line x1="507.5" y1="21" x2="507.5" y2="134.3" stroke="#efefef" stroke-width="0.5"/>
<line x1="409.3" y1="27" x2="510.8" y2="27" stroke="#efefef" stroke-width="0.5"/>
<line x1="409.3" y1="44" x2="510.8" y2="44" stroke="#efefef" stroke-width="0.5"/>
<line x1="409.3" y1="61.1" x2="510.8" y2="61.1" stroke="#efefef" stroke-width="0.5"/>
<line x1="409.3" y1="78.2" x2="510.8" y2="78.2" stroke="#efefef" stroke-width="0.5"/>
<line x1="409.3" y1="95.4" x2="510.8" y2="95.4" stroke="#efefef" stroke-width="0.5"/>
<line x1="409.3" y1="112.6" x2="510.8" y2="112.6" stroke="#efefef" stroke-width="0.5"/>
<line x1="409.3" y1="129.9" x2="510.8" y2="129.9" stroke="#efefef" stroke-width="0.5"/>
<rect x="409.3" y="21" width="101.5" height="113.3" fill="none" stroke="#cfcfcf" stroke-width="0.7"/>
<line x1="409.8" y1="129.3" x2="510.8" y2="129.3" stroke="#c4c4c4" stroke-width="0.8"/>
<polygon points="425.5,129.60000000000002 430,126.5 435,122.5 440,118.5 444.5,116 446.5,116.8 452.6,129.60000000000002" fill="#1e8a2e"/>
<g fill="#1e8a2e"><circle cx="435.74" cy="126.85" r="0.5"/><circle cx="433.99" cy="125.14" r="0.5"/><circle cx="447.13" cy="120.46" r="0.5"/><circle cx="426.31" cy="129.18" r="0.5"/><circle cx="445.02" cy="126.6" r="0.5"/><circle cx="427.72" cy="123.58" r="0.5"/><circle cx="433.08" cy="123.48" r="0.5"/><circle cx="432.95" cy="127.83" r="0.5"/><circle cx="435.61" cy="111.07" r="0.5"/><circle cx="432.79" cy="117.13" r="0.5"/><circle cx="428.96" cy="128.7" r="0.5"/><circle cx="441.64" cy="121.25" r="0.5"/><circle cx="425.45" cy="129.02" r="0.5"/><circle cx="430.92" cy="123.54" r="0.5"/><circle cx="432.78" cy="110.31" r="0.5"/><circle cx="436.8" cy="106.44" r="0.5"/><circle cx="437.27" cy="114.77" r="0.5"/><circle cx="432" cy="104.62" r="0.5"/><circle cx="448.7" cy="128.38" r="0.5"/><circle cx="422.93" cy="127.1" r="0.5"/><circle cx="433.39" cy="124.14" r="0.5"/><circle cx="436.81" cy="126.08" r="0.5"/><circle cx="441.17" cy="124.91" r="0.5"/><circle cx="434.58" cy="121.38" r="0.5"/><circle cx="433.47" cy="108.19" r="0.5"/><circle cx="431.97" cy="105.5" r="0.5"/><circle cx="444.32" cy="119.29" r="0.5"/><circle cx="428.65" cy="111.56" r="0.5"/><circle cx="434.89" cy="108.14" r="0.5"/><circle cx="442.79" cy="118.04" r="0.5"/><circle cx="434.84" cy="113.27" r="0.5"/><circle cx="449.99" cy="126.28" r="0.5"/><circle cx="428.09" cy="111.99" r="0.5"/><circle cx="427.66" cy="128.47" r="0.5"/><circle cx="446.7" cy="124.54" r="0.5"/><circle cx="429.09" cy="126.17" r="0.5"/><circle cx="442.8" cy="110.74" r="0.5"/><circle cx="447.76" cy="120.72" r="0.5"/><circle cx="440.13" cy="117.89" r="0.5"/><circle cx="428.94" cy="110.15" r="0.5"/><circle cx="423.57" cy="122.96" r="0.5"/><circle cx="449.44" cy="125.96" r="0.5"/><circle cx="448.27" cy="121.06" r="0.5"/><circle cx="439.93" cy="127.32" r="0.5"/><circle cx="445.08" cy="120.81" r="0.5"/><circle cx="425.4" cy="128.91" r="0.5"/><circle cx="423.57" cy="125.91" r="0.5"/><circle cx="437.44" cy="108.87" r="0.5"/><circle cx="436.31" cy="123.75" r="0.5"/><circle cx="434.32" cy="120.01" r="0.5"/><circle cx="433.66" cy="121.93" r="0.5"/><circle cx="435.4" cy="103.89" r="0.5"/><circle cx="430.79" cy="124.22" r="0.5"/><circle cx="443.09" cy="126.86" r="0.5"/><circle cx="435.51" cy="122.67" r="0.5"/><circle cx="439.99" cy="129.2" r="0.5"/><circle cx="448.78" cy="121.49" r="0.5"/><circle cx="433.42" cy="120.69" r="0.5"/><circle cx="433.14" cy="128.74" r="0.5"/><circle cx="431.98" cy="123.65" r="0.5"/><circle cx="431.01" cy="125.39" r="0.5"/><circle cx="446.51" cy="117.24" r="0.5"/><circle cx="431.58" cy="128.74" r="0.5"/><circle cx="436.29" cy="99.55" r="0.5"/><circle cx="434.33" cy="123.82" r="0.5"/><circle cx="440.98" cy="125.83" r="0.5"/><circle cx="440.85" cy="125.93" r="0.5"/><circle cx="441.63" cy="121.15" r="0.5"/><circle cx="429.19" cy="125.04" r="0.5"/><circle cx="435" cy="129.05" r="0.5"/><circle cx="440.45" cy="117.34" r="0.5"/><circle cx="427.86" cy="127.03" r="0.5"/><circle cx="446.52" cy="126.85" r="0.5"/><circle cx="431.41" cy="124.16" r="0.5"/><circle cx="442.81" cy="128.33" r="0.5"/><circle cx="427.3" cy="125.65" r="0.5"/><circle cx="427.07" cy="124.11" r="0.5"/><circle cx="442.18" cy="127.63" r="0.5"/><circle cx="427.5" cy="119.85" r="0.5"/><circle cx="444.41" cy="123.9" r="0.5"/><circle cx="436.24" cy="128.14" r="0.5"/><circle cx="427.7" cy="127.39" r="0.5"/><circle cx="441.5" cy="112.89" r="0.5"/><circle cx="427.91" cy="126.36" r="0.5"/><circle cx="429.31" cy="120.06" r="0.5"/><circle cx="447.69" cy="125.49" r="0.5"/><circle cx="428.34" cy="126.19" r="0.5"/><circle cx="441.63" cy="126.45" r="0.5"/><circle cx="439.15" cy="124.45" r="0.5"/><circle cx="425.12" cy="124.56" r="0.5"/><circle cx="452.53" cy="127.77" r="0.5"/><circle cx="432.32" cy="103.48" r="0.5"/><circle cx="424.43" cy="124.17" r="0.5"/><circle cx="438.45" cy="105.7" r="0.5"/><circle cx="429.34" cy="116.98" r="0.5"/><circle cx="436.12" cy="119.51" r="0.5"/><circle cx="441.74" cy="126.23" r="0.5"/><circle cx="450.18" cy="126.98" r="0.5"/><circle cx="442.01" cy="121.3" r="0.5"/><circle cx="444.58" cy="114.34" r="0.5"/><circle cx="433.31" cy="108.25" r="0.5"/><circle cx="431.38" cy="106.12" r="0.5"/><circle cx="434.79" cy="108.61" r="0.5"/><circle cx="429.3" cy="129.18" r="0.5"/><circle cx="443.32" cy="127.6" r="0.5"/><circle cx="435.98" cy="119.51" r="0.5"/><circle cx="424.63" cy="124.49" r="0.5"/><circle cx="440.54" cy="120.78" r="0.5"/><circle cx="426.2" cy="126.68" r="0.5"/><circle cx="429.21" cy="123.46" r="0.5"/><circle cx="445.7" cy="125.4" r="0.5"/><circle cx="428.52" cy="122.42" r="0.5"/><circle cx="428.12" cy="127.61" r="0.5"/><circle cx="432.29" cy="106.37" r="0.5"/><circle cx="444.93" cy="113.69" r="0.5"/><circle cx="427.88" cy="120.39" r="0.5"/><circle cx="444.55" cy="128.84" r="0.5"/><circle cx="436.24" cy="126.49" r="0.5"/><circle cx="437.66" cy="124.35" r="0.5"/><circle cx="446.17" cy="115.81" r="0.5"/><circle cx="449.16" cy="128.79" r="0.5"/><circle cx="450.71" cy="128.1" r="0.5"/><circle cx="434.44" cy="96.21" r="0.5"/><circle cx="437.13" cy="128.49" r="0.5"/><circle cx="442.44" cy="125.88" r="0.5"/><circle cx="432.74" cy="125.41" r="0.5"/><circle cx="440.17" cy="121.35" r="0.5"/><circle cx="442.37" cy="127.39" r="0.5"/><circle cx="435.42" cy="128.11" r="0.5"/><circle cx="439.07" cy="117.97" r="0.5"/><circle cx="447.42" cy="128.55" r="0.5"/><circle cx="433.97" cy="125.09" r="0.5"/><circle cx="438.63" cy="115.56" r="0.5"/><circle cx="433.91" cy="114.76" r="0.5"/><circle cx="440.43" cy="124.22" r="0.5"/><circle cx="431.4" cy="123.13" r="0.5"/><circle cx="431.49" cy="124.39" r="0.5"/><circle cx="443.81" cy="123.74" r="0.5"/><circle cx="431.69" cy="122.39" r="0.5"/><circle cx="439.6" cy="128.63" r="0.5"/><circle cx="426.34" cy="124.31" r="0.5"/><circle cx="436.66" cy="104.49" r="0.5"/><circle cx="431.97" cy="108.77" r="0.5"/><circle cx="438.13" cy="126.56" r="0.5"/><circle cx="427.34" cy="128.12" r="0.5"/><circle cx="427.53" cy="119.53" r="0.5"/><circle cx="433.04" cy="115.15" r="0.5"/><circle cx="435.05" cy="117.39" r="0.5"/><circle cx="434.41" cy="128.32" r="0.5"/><circle cx="448.82" cy="129.26" r="0.5"/><circle cx="445.38" cy="115.9" r="0.5"/><circle cx="449.89" cy="128.43" r="0.5"/><circle cx="440.57" cy="110.18" r="0.5"/><circle cx="426.2" cy="129.09" r="0.5"/><circle cx="426.37" cy="128.14" r="0.5"/><circle cx="428.8" cy="119.23" r="0.5"/><circle cx="434.79" cy="101.89" r="0.5"/><circle cx="445.01" cy="114.87" r="0.5"/><circle cx="436.1" cy="116.17" r="0.5"/><circle cx="445.06" cy="118" r="0.5"/><circle cx="427.34" cy="116.86" r="0.5"/><circle cx="442.83" cy="128.73" r="0.5"/><circle cx="428.37" cy="121.83" r="0.5"/><circle cx="446.73" cy="126.8" r="0.5"/><circle cx="433.58" cy="126.71" r="0.5"/><circle cx="438.56" cy="116.69" r="0.5"/><circle cx="439.92" cy="125.18" r="0.5"/><circle cx="439.34" cy="125.42" r="0.5"/><circle cx="437.19" cy="128.52" r="0.5"/><circle cx="435.13" cy="96.77" r="0.5"/><circle cx="443.46" cy="116.92" r="0.5"/><circle cx="430.73" cy="118.73" r="0.5"/><circle cx="436.15" cy="119.22" r="0.5"/><circle cx="432.99" cy="123.35" r="0.5"/><circle cx="440.45" cy="108.81" r="0.5"/><circle cx="429.33" cy="128.39" r="0.5"/><circle cx="435.48" cy="106.94" r="0.5"/><circle cx="430.85" cy="124.03" r="0.5"/><circle cx="444.28" cy="127.45" r="0.5"/><circle cx="434.49" cy="127.3" r="0.5"/><circle cx="444.85" cy="125.9" r="0.5"/><circle cx="426.28" cy="118.73" r="0.5"/><circle cx="430.96" cy="126.14" r="0.5"/><circle cx="427.02" cy="124.5" r="0.5"/><circle cx="442.53" cy="121.39" r="0.5"/><circle cx="451.6" cy="127.09" r="0.5"/><circle cx="440" cy="123.42" r="0.5"/><circle cx="441.44" cy="127.6" r="0.5"/><circle cx="428.99" cy="125.8" r="0.5"/><circle cx="421.83" cy="127.9" r="0.5"/><circle cx="434.17" cy="123.42" r="0.5"/><circle cx="427.76" cy="123.62" r="0.5"/><circle cx="435.14" cy="113.79" r="0.5"/><circle cx="430.89" cy="123.39" r="0.5"/><circle cx="437.62" cy="111.82" r="0.5"/><circle cx="426.61" cy="117.4" r="0.5"/><circle cx="444.2" cy="123.63" r="0.5"/><circle cx="430.5" cy="126.89" r="0.5"/><circle cx="426" cy="119.17" r="0.5"/><circle cx="440.22" cy="111.99" r="0.5"/><circle cx="444.53" cy="127.41" r="0.5"/><circle cx="430.82" cy="127.43" r="0.5"/><circle cx="429.64" cy="111.69" r="0.5"/><circle cx="426.11" cy="126.65" r="0.5"/><circle cx="439.26" cy="125.92" r="0.5"/><circle cx="445.31" cy="117.55" r="0.5"/><circle cx="426.61" cy="128.43" r="0.5"/><circle cx="441.27" cy="126.2" r="0.5"/><circle cx="432.29" cy="121.49" r="0.5"/><circle cx="442.6" cy="129.24" r="0.5"/><circle cx="437.28" cy="124.14" r="0.5"/><circle cx="434.5" cy="127.18" r="0.5"/><circle cx="435.96" cy="101.32" r="0.5"/><circle cx="446.6" cy="122.23" r="0.5"/><circle cx="432.12" cy="126.41" r="0.5"/><circle cx="424.98" cy="128.23" r="0.5"/><circle cx="440.67" cy="107.75" r="0.5"/><circle cx="436.53" cy="103.78" r="0.5"/><circle cx="431.18" cy="115.98" r="0.5"/><circle cx="431.83" cy="126.15" r="0.5"/><circle cx="429.38" cy="119.75" r="0.5"/><circle cx="429.46" cy="126.52" r="0.5"/><circle cx="434.33" cy="100.03" r="0.5"/><circle cx="446.82" cy="122.39" r="0.5"/><circle cx="440.77" cy="123.17" r="0.5"/><circle cx="432.56" cy="117.9" r="0.5"/><circle cx="444.81" cy="121.78" r="0.5"/><circle cx="433.49" cy="119.96" r="0.5"/><circle cx="425.1" cy="127.52" r="0.5"/><circle cx="445.43" cy="119.71" r="0.5"/><circle cx="439.05" cy="105.13" r="0.5"/><circle cx="430.58" cy="125.68" r="0.5"/><circle cx="435.31" cy="121.11" r="0.5"/><circle cx="437.59" cy="119.92" r="0.5"/><circle cx="446.5" cy="125.93" r="0.5"/><circle cx="430.32" cy="128.66" r="0.5"/><circle cx="435.47" cy="116.66" r="0.5"/><circle cx="439.37" cy="117.19" r="0.5"/><circle cx="440.54" cy="126.52" r="0.5"/><circle cx="442.84" cy="110.76" r="0.5"/><circle cx="443.52" cy="122.98" r="0.5"/><circle cx="439.26" cy="116.12" r="0.5"/><circle cx="439.8" cy="125.66" r="0.5"/><circle cx="429.72" cy="122.28" r="0.5"/><circle cx="426.98" cy="125.38" r="0.5"/><circle cx="444.4" cy="128.23" r="0.5"/><circle cx="449.43" cy="128.36" r="0.5"/><circle cx="431.81" cy="115.71" r="0.5"/><circle cx="446.68" cy="127.46" r="0.5"/><circle cx="430.11" cy="124.45" r="0.5"/><circle cx="431.66" cy="114.08" r="0.5"/><circle cx="445.49" cy="121.23" r="0.5"/><circle cx="445.57" cy="124.73" r="0.5"/><circle cx="434.99" cy="122.55" r="0.5"/><circle cx="444.75" cy="127.27" r="0.5"/><circle cx="445.51" cy="115.6" r="0.5"/><circle cx="428.89" cy="114.67" r="0.5"/><circle cx="436.21" cy="102.46" r="0.5"/><circle cx="434.61" cy="122.06" r="0.5"/><circle cx="425.17" cy="120.26" r="0.5"/><circle cx="441.07" cy="118.86" r="0.5"/><circle cx="436.26" cy="111.6" r="0.5"/><circle cx="431.06" cy="121.02" r="0.5"/><circle cx="428.46" cy="129.28" r="0.5"/><circle cx="436.75" cy="119.54" r="0.5"/><circle cx="437.82" cy="122.63" r="0.5"/><circle cx="436.21" cy="127.37" r="0.5"/><circle cx="437.21" cy="128.96" r="0.5"/><circle cx="437.92" cy="119.95" r="0.5"/><circle cx="425.05" cy="121.79" r="0.5"/><circle cx="440.82" cy="109.27" r="0.5"/><circle cx="433.89" cy="115.15" r="0.5"/><circle cx="441.71" cy="128.83" r="0.5"/><circle cx="449.85" cy="126.91" r="0.5"/><circle cx="425.61" cy="122.33" r="0.5"/><circle cx="426.19" cy="125.79" r="0.5"/><circle cx="444.71" cy="118.62" r="0.5"/><circle cx="434.4" cy="111.71" r="0.5"/><circle cx="433.36" cy="105.75" r="0.5"/><circle cx="439.7" cy="117.19" r="0.5"/><circle cx="428.19" cy="114.51" r="0.5"/><circle cx="436.99" cy="111.51" r="0.5"/><circle cx="436.66" cy="116.57" r="0.5"/><circle cx="451.59" cy="128.26" r="0.5"/><circle cx="446.73" cy="128.57" r="0.5"/><circle cx="437.23" cy="127.72" r="0.5"/><circle cx="435.65" cy="118.49" r="0.5"/><circle cx="432.75" cy="124.36" r="0.5"/><circle cx="438.07" cy="126.03" r="0.5"/><circle cx="438.38" cy="116.56" r="0.5"/><circle cx="424.82" cy="127.51" r="0.5"/><circle cx="439.34" cy="117.85" r="0.5"/><circle cx="436.12" cy="125.13" r="0.5"/><circle cx="443.53" cy="121.13" r="0.5"/><circle cx="446.7" cy="129.28" r="0.5"/><circle cx="443.26" cy="115.54" r="0.5"/><circle cx="445.17" cy="123.75" r="0.5"/><circle cx="447.15" cy="127.19" r="0.5"/><circle cx="446.25" cy="124.65" r="0.5"/><circle cx="449.81" cy="129.05" r="0.5"/><circle cx="437.43" cy="127.64" r="0.5"/><circle cx="452.48" cy="128.75" r="0.5"/><circle cx="439.41" cy="123.95" r="0.5"/><circle cx="446.45" cy="118.36" r="0.5"/><circle cx="439.83" cy="124.65" r="0.5"/><circle cx="422.21" cy="129.06" r="0.5"/><circle cx="449.43" cy="127.08" r="0.5"/><circle cx="445.91" cy="123.51" r="0.5"/><circle cx="440.36" cy="120.53" r="0.5"/><circle cx="451.23" cy="128.11" r="0.5"/><circle cx="441.26" cy="117.59" r="0.5"/><circle cx="436.94" cy="115.35" r="0.5"/><circle cx="437.46" cy="104.98" r="0.5"/><circle cx="444.11" cy="126.71" r="0.5"/><circle cx="433.83" cy="114.13" r="0.5"/><circle cx="448.73" cy="125.5" r="0.5"/><circle cx="425.83" cy="118.98" r="0.5"/><circle cx="449.04" cy="121.23" r="0.5"/><circle cx="450.43" cy="129.02" r="0.5"/><circle cx="451.46" cy="127.62" r="0.5"/><circle cx="413.7" cy="121.45" r="0.5"/><circle cx="424.7" cy="126.89" r="0.5"/><circle cx="425.66" cy="123.58" r="0.5"/><circle cx="423.45" cy="118.29" r="0.5"/><circle cx="425.22" cy="128.89" r="0.5"/><circle cx="416.96" cy="122.02" r="0.5"/><circle cx="425.31" cy="128.25" r="0.5"/><circle cx="416.81" cy="119.1" r="0.5"/><circle cx="414.49" cy="124.62" r="0.5"/><circle cx="417.34" cy="121.14" r="0.5"/></g>
<polygon points="456.6,129.60000000000002 460,124 463,118.5 466,114 469,115.5 474,119 480,122.5 486,125.5 491.5,129.60000000000002" fill="#d2452c"/>
<g fill="#d2452c"><circle cx="474.93" cy="100.28" r="0.5"/><circle cx="485.01" cy="114.49" r="0.5"/><circle cx="480.04" cy="109.44" r="0.5"/><circle cx="478.01" cy="101.02" r="0.5"/><circle cx="464.95" cy="123.41" r="0.5"/><circle cx="477.04" cy="112.67" r="0.5"/><circle cx="461.86" cy="125.85" r="0.5"/><circle cx="480.44" cy="115.27" r="0.5"/><circle cx="473.18" cy="115.66" r="0.5"/><circle cx="463.39" cy="121.96" r="0.5"/><circle cx="463.91" cy="115.66" r="0.5"/><circle cx="485.36" cy="122.38" r="0.5"/><circle cx="464.66" cy="116.86" r="0.5"/><circle cx="489.05" cy="126.32" r="0.5"/><circle cx="490.36" cy="117.99" r="0.5"/><circle cx="478.01" cy="106.66" r="0.5"/><circle cx="485.86" cy="104.31" r="0.5"/><circle cx="469.23" cy="124.83" r="0.5"/><circle cx="469.03" cy="128.48" r="0.5"/><circle cx="476.73" cy="95.02" r="0.5"/><circle cx="463.24" cy="120.04" r="0.5"/><circle cx="479.87" cy="128.37" r="0.5"/><circle cx="458.28" cy="126.27" r="0.5"/><circle cx="479.8" cy="127.48" r="0.5"/><circle cx="461.43" cy="119.61" r="0.5"/><circle cx="494.97" cy="126.43" r="0.5"/><circle cx="476.39" cy="126.57" r="0.5"/><circle cx="486.28" cy="123.32" r="0.5"/><circle cx="486.77" cy="119.1" r="0.5"/><circle cx="464.92" cy="120.87" r="0.5"/><circle cx="458.54" cy="127.15" r="0.5"/><circle cx="468.67" cy="110.1" r="0.5"/><circle cx="495.24" cy="129.03" r="0.5"/><circle cx="491.42" cy="126.86" r="0.5"/><circle cx="471.81" cy="128.31" r="0.5"/><circle cx="488.38" cy="126.53" r="0.5"/><circle cx="481.11" cy="118.79" r="0.5"/><circle cx="489.94" cy="113.54" r="0.5"/><circle cx="478.52" cy="124.63" r="0.5"/><circle cx="461.76" cy="122.81" r="0.5"/><circle cx="481.23" cy="109.45" r="0.5"/><circle cx="470.36" cy="110.75" r="0.5"/><circle cx="474.06" cy="120.78" r="0.5"/><circle cx="465.28" cy="114.98" r="0.5"/><circle cx="473.69" cy="124.63" r="0.5"/><circle cx="475.52" cy="128.48" r="0.5"/><circle cx="474.64" cy="114.68" r="0.5"/><circle cx="479.96" cy="117.8" r="0.5"/><circle cx="467.8" cy="126.65" r="0.5"/><circle cx="471.54" cy="124.81" r="0.5"/><circle cx="462.23" cy="128.33" r="0.5"/><circle cx="493.28" cy="127.31" r="0.5"/><circle cx="490.1" cy="115.04" r="0.5"/><circle cx="486.96" cy="81.88" r="0.5"/><circle cx="481.94" cy="99.83" r="0.5"/><circle cx="493.72" cy="123.33" r="0.5"/><circle cx="491.74" cy="103.63" r="0.5"/><circle cx="486.01" cy="122.02" r="0.5"/><circle cx="496.01" cy="123.55" r="0.5"/><circle cx="476.45" cy="101.47" r="0.5"/><circle cx="475.54" cy="99.37" r="0.5"/><circle cx="483.28" cy="128.19" r="0.5"/><circle cx="474.86" cy="125.47" r="0.5"/><circle cx="462.8" cy="118.08" r="0.5"/><circle cx="470.51" cy="114.26" r="0.5"/><circle cx="468.99" cy="123.07" r="0.5"/><circle cx="485.47" cy="114.39" r="0.5"/><circle cx="460.06" cy="125.57" r="0.5"/><circle cx="470.58" cy="125.39" r="0.5"/><circle cx="460.03" cy="128.41" r="0.5"/><circle cx="483.95" cy="113.48" r="0.5"/><circle cx="490.54" cy="88.09" r="0.5"/><circle cx="476.23" cy="106.33" r="0.5"/><circle cx="466.06" cy="127.36" r="0.5"/><circle cx="475.91" cy="122.46" r="0.5"/><circle cx="470.42" cy="120.71" r="0.5"/><circle cx="473.38" cy="108.23" r="0.5"/><circle cx="490.91" cy="122.46" r="0.5"/><circle cx="472.41" cy="111.2" r="0.5"/><circle cx="487.32" cy="126.24" r="0.5"/><circle cx="458.94" cy="129.19" r="0.5"/><circle cx="476.66" cy="120.97" r="0.5"/><circle cx="457.72" cy="127.31" r="0.5"/><circle cx="485.6" cy="126.79" r="0.5"/><circle cx="495.03" cy="122.4" r="0.5"/><circle cx="493.71" cy="112.36" r="0.5"/><circle cx="460.82" cy="128.91" r="0.5"/><circle cx="470.16" cy="129.15" r="0.5"/><circle cx="459.2" cy="124.76" r="0.5"/><circle cx="462.53" cy="120.61" r="0.5"/><circle cx="464.7" cy="125.19" r="0.5"/><circle cx="475.58" cy="111.48" r="0.5"/><circle cx="458.34" cy="125.98" r="0.5"/><circle cx="479.81" cy="123.13" r="0.5"/><circle cx="491.66" cy="116.93" r="0.5"/><circle cx="471.18" cy="111.11" r="0.5"/><circle cx="485" cy="127.7" r="0.5"/><circle cx="478.04" cy="112.16" r="0.5"/><circle cx="479.93" cy="109.74" r="0.5"/><circle cx="461.91" cy="125.69" r="0.5"/><circle cx="479.47" cy="129.11" r="0.5"/><circle cx="490.59" cy="104.3" r="0.5"/><circle cx="481.49" cy="122.37" r="0.5"/><circle cx="488.12" cy="100.26" r="0.5"/><circle cx="472.85" cy="119.15" r="0.5"/><circle cx="464.22" cy="121.26" r="0.5"/><circle cx="481.63" cy="127.08" r="0.5"/><circle cx="472.13" cy="120.59" r="0.5"/><circle cx="472.56" cy="124.53" r="0.5"/><circle cx="476.58" cy="111.43" r="0.5"/><circle cx="477.81" cy="94.09" r="0.5"/><circle cx="475.05" cy="125.14" r="0.5"/><circle cx="489.35" cy="123.46" r="0.5"/><circle cx="491.79" cy="109.96" r="0.5"/><circle cx="462.17" cy="118.87" r="0.5"/><circle cx="477.44" cy="119.9" r="0.5"/><circle cx="467.25" cy="121.95" r="0.5"/><circle cx="491.54" cy="115.71" r="0.5"/><circle cx="480.8" cy="128.11" r="0.5"/><circle cx="475.01" cy="124.19" r="0.5"/><circle cx="492.13" cy="104.43" r="0.5"/><circle cx="466.56" cy="117.95" r="0.5"/><circle cx="474.46" cy="101.42" r="0.5"/><circle cx="488.33" cy="123.98" r="0.5"/><circle cx="465.55" cy="125.12" r="0.5"/><circle cx="490.87" cy="96.37" r="0.5"/><circle cx="469.97" cy="125.1" r="0.5"/><circle cx="460.81" cy="125.66" r="0.5"/><circle cx="495.56" cy="126.13" r="0.5"/><circle cx="462.61" cy="128.39" r="0.5"/><circle cx="458.72" cy="126.85" r="0.5"/><circle cx="484.81" cy="121.08" r="0.5"/><circle cx="482.35" cy="109.26" r="0.5"/><circle cx="466.66" cy="110.57" r="0.5"/><circle cx="494.58" cy="125.65" r="0.5"/><circle cx="463.92" cy="128.51" r="0.5"/><circle cx="466.81" cy="122.05" r="0.5"/><circle cx="461.48" cy="120.61" r="0.5"/><circle cx="494.49" cy="126.34" r="0.5"/><circle cx="492.06" cy="127.59" r="0.5"/><circle cx="496.32" cy="127.15" r="0.5"/><circle cx="481.59" cy="116.95" r="0.5"/><circle cx="457.65" cy="127.61" r="0.5"/><circle cx="468.22" cy="113.63" r="0.5"/><circle cx="488.06" cy="126.99" r="0.5"/><circle cx="469.61" cy="106.44" r="0.5"/><circle cx="483.46" cy="93.68" r="0.5"/><circle cx="461.01" cy="124" r="0.5"/><circle cx="495.6" cy="123.87" r="0.5"/><circle cx="460.79" cy="125.67" r="0.5"/><circle cx="459.65" cy="127.57" r="0.5"/><circle cx="492.3" cy="124.52" r="0.5"/><circle cx="461.3" cy="128.42" r="0.5"/><circle cx="492.3" cy="98.48" r="0.5"/><circle cx="482.56" cy="86.31" r="0.5"/><circle cx="493.97" cy="124.49" r="0.5"/><circle cx="483.09" cy="122" r="0.5"/><circle cx="458.34" cy="125.17" r="0.5"/><circle cx="484.75" cy="124.64" r="0.5"/><circle cx="479.8" cy="112.55" r="0.5"/><circle cx="476.38" cy="122.44" r="0.5"/><circle cx="476.13" cy="122.88" r="0.5"/><circle cx="470.78" cy="109.61" r="0.5"/><circle cx="492.67" cy="119.38" r="0.5"/><circle cx="470.85" cy="108.55" r="0.5"/><circle cx="488.7" cy="92.9" r="0.5"/><circle cx="464.41" cy="127.28" r="0.5"/><circle cx="458.07" cy="126.81" r="0.5"/><circle cx="483.77" cy="87.13" r="0.5"/><circle cx="470.58" cy="106.63" r="0.5"/><circle cx="490.37" cy="129.15" r="0.5"/><circle cx="494.09" cy="111.92" r="0.5"/><circle cx="477.4" cy="116.58" r="0.5"/><circle cx="466.51" cy="113.32" r="0.5"/><circle cx="473.25" cy="120.75" r="0.5"/><circle cx="477.82" cy="127.56" r="0.5"/><circle cx="474.46" cy="125.01" r="0.5"/><circle cx="467.61" cy="124.16" r="0.5"/><circle cx="478.47" cy="124.42" r="0.5"/><circle cx="489.76" cy="85.99" r="0.5"/><circle cx="488.63" cy="107.5" r="0.5"/><circle cx="495.32" cy="125.58" r="0.5"/><circle cx="460.47" cy="125.84" r="0.5"/><circle cx="484.32" cy="121.66" r="0.5"/><circle cx="480.28" cy="124.71" r="0.5"/><circle cx="494.86" cy="125.65" r="0.5"/><circle cx="474.01" cy="122.67" r="0.5"/><circle cx="490.33" cy="120.96" r="0.5"/><circle cx="486.36" cy="81.92" r="0.5"/><circle cx="479.45" cy="122.89" r="0.5"/><circle cx="470.09" cy="128.51" r="0.5"/><circle cx="486.84" cy="108.62" r="0.5"/><circle cx="489.6" cy="128.63" r="0.5"/><circle cx="495.33" cy="123.97" r="0.5"/><circle cx="464.06" cy="124.28" r="0.5"/><circle cx="490.69" cy="120.55" r="0.5"/><circle cx="490.07" cy="123.1" r="0.5"/><circle cx="472.42" cy="115.63" r="0.5"/><circle cx="474.32" cy="125.37" r="0.5"/><circle cx="469.74" cy="123.7" r="0.5"/><circle cx="490.22" cy="117.7" r="0.5"/><circle cx="464.38" cy="119.64" r="0.5"/><circle cx="468.61" cy="126.57" r="0.5"/><circle cx="464.64" cy="118.81" r="0.5"/><circle cx="465.97" cy="128.36" r="0.5"/><circle cx="458.23" cy="125.64" r="0.5"/><circle cx="492.3" cy="120.79" r="0.5"/><circle cx="484.59" cy="120.89" r="0.5"/><circle cx="488.71" cy="109.91" r="0.5"/><circle cx="479.16" cy="102.43" r="0.5"/><circle cx="465.31" cy="116.68" r="0.5"/><circle cx="476.49" cy="105.98" r="0.5"/><circle cx="491.05" cy="122.2" r="0.5"/><circle cx="462.63" cy="125.58" r="0.5"/><circle cx="481.21" cy="110.22" r="0.5"/><circle cx="456.64" cy="128.32" r="0.5"/><circle cx="458.48" cy="124.54" r="0.5"/><circle cx="470.39" cy="109.65" r="0.5"/><circle cx="469.58" cy="125.78" r="0.5"/><circle cx="472.71" cy="121.41" r="0.5"/><circle cx="481.85" cy="118.4" r="0.5"/><circle cx="461.3" cy="123" r="0.5"/><circle cx="486.92" cy="86.75" r="0.5"/><circle cx="470.82" cy="128.34" r="0.5"/><circle cx="494.38" cy="113.89" r="0.5"/><circle cx="456.16" cy="128.55" r="0.5"/><circle cx="472.11" cy="122.11" r="0.5"/><circle cx="488.38" cy="104.57" r="0.5"/><circle cx="471.05" cy="124.87" r="0.5"/><circle cx="490.67" cy="119.68" r="0.5"/><circle cx="469.33" cy="126.82" r="0.5"/><circle cx="479.53" cy="128.28" r="0.5"/><circle cx="493.64" cy="129" r="0.5"/><circle cx="478.07" cy="121.14" r="0.5"/><circle cx="462.73" cy="128.32" r="0.5"/><circle cx="489.61" cy="122.34" r="0.5"/><circle cx="467.91" cy="120.78" r="0.5"/><circle cx="486.84" cy="85.06" r="0.5"/><circle cx="465.25" cy="121.03" r="0.5"/><circle cx="491.65" cy="125.4" r="0.5"/><circle cx="474.79" cy="127.73" r="0.5"/><circle cx="471.05" cy="118.66" r="0.5"/><circle cx="491.3" cy="113.2" r="0.5"/><circle cx="485.7" cy="107.86" r="0.5"/><circle cx="458.24" cy="126.8" r="0.5"/><circle cx="467.85" cy="123.06" r="0.5"/><circle cx="490.38" cy="126.93" r="0.5"/><circle cx="488.07" cy="126.62" r="0.5"/><circle cx="474.88" cy="98.78" r="0.5"/><circle cx="478.23" cy="102.37" r="0.5"/><circle cx="461.98" cy="126.68" r="0.5"/><circle cx="473.07" cy="128.88" r="0.5"/><circle cx="489.38" cy="123.96" r="0.5"/><circle cx="467.93" cy="109.61" r="0.5"/><circle cx="470.37" cy="123.66" r="0.5"/><circle cx="463.93" cy="127.15" r="0.5"/><circle cx="482.24" cy="125.94" r="0.5"/><circle cx="460.73" cy="124.73" r="0.5"/><circle cx="471.41" cy="126.56" r="0.5"/><circle cx="466.97" cy="120.15" r="0.5"/><circle cx="468.02" cy="116.07" r="0.5"/><circle cx="480.22" cy="117.08" r="0.5"/><circle cx="484.7" cy="127.17" r="0.5"/><circle cx="476.1" cy="123.79" r="0.5"/><circle cx="480.51" cy="119.28" r="0.5"/><circle cx="460.38" cy="122.88" r="0.5"/><circle cx="489.48" cy="112.3" r="0.5"/><circle cx="478.11" cy="121.89" r="0.5"/><circle cx="491.63" cy="125.86" r="0.5"/><circle cx="467.96" cy="116.57" r="0.5"/><circle cx="493.72" cy="110.59" r="0.5"/><circle cx="496.09" cy="124.63" r="0.5"/><circle cx="464.06" cy="122.04" r="0.5"/><circle cx="471.82" cy="115.42" r="0.5"/><circle cx="479.78" cy="114.8" r="0.5"/><circle cx="474.56" cy="128.05" r="0.5"/><circle cx="478.22" cy="108.37" r="0.5"/><circle cx="489.82" cy="120.77" r="0.5"/><circle cx="474.53" cy="122.79" r="0.5"/><circle cx="488.18" cy="119.68" r="0.5"/><circle cx="459.12" cy="126.8" r="0.5"/><circle cx="479.05" cy="113.55" r="0.5"/><circle cx="491.29" cy="125.33" r="0.5"/><circle cx="480.66" cy="105.55" r="0.5"/><circle cx="485.89" cy="109.42" r="0.5"/><circle cx="457.96" cy="125.51" r="0.5"/><circle cx="484.85" cy="116.81" r="0.5"/><circle cx="473.48" cy="124.55" r="0.5"/><circle cx="467.13" cy="120.09" r="0.5"/><circle cx="478.78" cy="116.14" r="0.5"/><circle cx="461.11" cy="123.94" r="0.5"/><circle cx="469.2" cy="120.42" r="0.5"/><circle cx="467.39" cy="115.1" r="0.5"/><circle cx="463.72" cy="123.78" r="0.5"/><circle cx="477.65" cy="123.53" r="0.5"/><circle cx="457.4" cy="128.06" r="0.5"/><circle cx="464.73" cy="122.06" r="0.5"/><circle cx="463.97" cy="121.56" r="0.5"/><circle cx="474.94" cy="128.13" r="0.5"/><circle cx="489.44" cy="101.07" r="0.5"/><circle cx="471.49" cy="121.33" r="0.5"/><circle cx="464.23" cy="128.55" r="0.5"/><circle cx="493.6" cy="125.15" r="0.5"/><circle cx="494.18" cy="127.93" r="0.5"/><circle cx="472.52" cy="122.18" r="0.5"/><circle cx="494.68" cy="125.95" r="0.5"/><circle cx="476.67" cy="127.04" r="0.5"/><circle cx="464.97" cy="121.44" r="0.5"/><circle cx="495.87" cy="126.53" r="0.5"/><circle cx="485.2" cy="112.09" r="0.5"/><circle cx="471.93" cy="103.65" r="0.5"/><circle cx="485.49" cy="115.93" r="0.5"/><circle cx="472.03" cy="126.49" r="0.5"/><circle cx="482.19" cy="88.98" r="0.5"/><circle cx="468.03" cy="113.49" r="0.5"/><circle cx="469.02" cy="117.2" r="0.5"/><circle cx="470.56" cy="121.48" r="0.5"/><circle cx="485.99" cy="106.83" r="0.5"/><circle cx="482.48" cy="121.58" r="0.5"/><circle cx="487.29" cy="123.16" r="0.5"/><circle cx="475.74" cy="126.03" r="0.5"/><circle cx="471.79" cy="119.61" r="0.5"/><circle cx="460.38" cy="128.78" r="0.5"/><circle cx="466.96" cy="118.05" r="0.5"/><circle cx="477.5" cy="113.69" r="0.5"/><circle cx="488.87" cy="95.64" r="0.5"/><circle cx="472.99" cy="115" r="0.5"/><circle cx="475.62" cy="128.81" r="0.5"/><circle cx="491.78" cy="114.24" r="0.5"/><circle cx="461.02" cy="126.81" r="0.5"/><circle cx="487.54" cy="86" r="0.5"/><circle cx="484.55" cy="122.01" r="0.5"/><circle cx="475.38" cy="127.52" r="0.5"/><circle cx="480.01" cy="117.15" r="0.5"/><circle cx="460.06" cy="127.37" r="0.5"/><circle cx="490.62" cy="118.52" r="0.5"/><circle cx="456.64" cy="127.67" r="0.5"/><circle cx="486.24" cy="128.35" r="0.5"/><circle cx="472.8" cy="123.85" r="0.5"/><circle cx="468.07" cy="118.91" r="0.5"/><circle cx="463.42" cy="116.02" r="0.5"/><circle cx="482.47" cy="125.66" r="0.5"/><circle cx="457.37" cy="127.24" r="0.5"/><circle cx="469.12" cy="121.27" r="0.5"/><circle cx="479.28" cy="90.28" r="0.5"/><circle cx="474.75" cy="111.48" r="0.5"/><circle cx="476.41" cy="111.29" r="0.5"/><circle cx="470.74" cy="117.19" r="0.5"/><circle cx="471.84" cy="126.5" r="0.5"/><circle cx="473.52" cy="111.58" r="0.5"/><circle cx="470.41" cy="126.43" r="0.5"/><circle cx="465.86" cy="128.19" r="0.5"/><circle cx="477.27" cy="119.94" r="0.5"/><circle cx="468.73" cy="119.29" r="0.5"/><circle cx="456.2" cy="129.02" r="0.5"/><circle cx="463.25" cy="124.75" r="0.5"/><circle cx="467.63" cy="120.04" r="0.5"/><circle cx="480.64" cy="113.51" r="0.5"/><circle cx="484.82" cy="117.36" r="0.5"/><circle cx="472.58" cy="121.19" r="0.5"/><circle cx="459.2" cy="125.24" r="0.5"/><circle cx="477.84" cy="111.9" r="0.5"/><circle cx="493.14" cy="128.14" r="0.5"/><circle cx="480.26" cy="119.7" r="0.5"/><circle cx="462.1" cy="122.95" r="0.5"/><circle cx="468.16" cy="127.27" r="0.5"/><circle cx="473.38" cy="127.87" r="0.5"/><circle cx="466.13" cy="122.11" r="0.5"/><circle cx="479.11" cy="100.86" r="0.5"/><circle cx="471.9" cy="129.17" r="0.5"/><circle cx="482.52" cy="129.25" r="0.5"/><circle cx="490.75" cy="106.94" r="0.5"/><circle cx="481.01" cy="128.76" r="0.5"/><circle cx="473.02" cy="125.3" r="0.5"/><circle cx="466.64" cy="125.37" r="0.5"/><circle cx="478.92" cy="127.73" r="0.5"/><circle cx="495.04" cy="128.28" r="0.5"/><circle cx="495.09" cy="128.81" r="0.5"/><circle cx="458.76" cy="126.96" r="0.5"/><circle cx="478.17" cy="114.28" r="0.5"/><circle cx="477.75" cy="113.18" r="0.5"/><circle cx="463.52" cy="118.35" r="0.5"/><circle cx="476.85" cy="116.98" r="0.5"/><circle cx="476.82" cy="93.26" r="0.5"/><circle cx="481.09" cy="128.52" r="0.5"/><circle cx="479.34" cy="100.64" r="0.5"/><circle cx="478.82" cy="115.65" r="0.5"/><circle cx="473.18" cy="123.85" r="0.5"/><circle cx="461.96" cy="119.18" r="0.5"/><circle cx="484.26" cy="125.29" r="0.5"/><circle cx="472.83" cy="126.02" r="0.5"/><circle cx="468.3" cy="126.04" r="0.5"/><circle cx="485.1" cy="117.73" r="0.5"/><circle cx="482.23" cy="94.73" r="0.5"/><circle cx="467.22" cy="126.81" r="0.5"/><circle cx="462.85" cy="128.64" r="0.5"/><circle cx="479.8" cy="119.64" r="0.5"/><circle cx="462.03" cy="126.26" r="0.5"/><circle cx="460.98" cy="128.16" r="0.5"/><circle cx="466.59" cy="121.64" r="0.5"/><circle cx="505.67" cy="118" r="0.5"/><circle cx="494.8" cy="120.68" r="0.5"/><circle cx="488.8" cy="114.64" r="0.5"/><circle cx="503.02" cy="122.03" r="0.5"/><circle cx="502.51" cy="123.85" r="0.5"/><circle cx="492.39" cy="124.74" r="0.5"/><circle cx="491.93" cy="117.18" r="0.5"/><circle cx="500.84" cy="114.75" r="0.5"/><circle cx="490.08" cy="113.97" r="0.5"/><circle cx="497.57" cy="121.73" r="0.5"/></g>
<circle cx="412.5" cy="116" r="0.55" fill="#1e8a2e"/>
<circle cx="414" cy="109" r="0.55" fill="#1e8a2e"/>
<circle cx="506" cy="125" r="0.55" fill="#d2452c"/>
<circle cx="508" cy="113" r="0.55" fill="#d2452c"/>
<circle cx="503" cy="118" r="0.55" fill="#d2452c"/>
<circle cx="495.5" cy="100" r="0.55" fill="#d2452c"/>
<rect x="424.5" y="21.6" width="7.5" height="2.6" fill="#fff" stroke="#1e8a2e" stroke-opacity="0.25" stroke-width="0.3"/>
<rect x="425.3" y="22.4" width="5.9" height="1" fill="#1e8a2e" fill-opacity="0.32"/>
<rect x="420.5" y="78.2" width="7" height="2.6" fill="#fff" stroke="#1e8a2e" stroke-opacity="0.25" stroke-width="0.3"/>
<rect x="421.3" y="79" width="5.4" height="1" fill="#1e8a2e" fill-opacity="0.32"/>
<rect x="430.5" y="78.2" width="8.5" height="2.6" fill="#fff" stroke="#1e8a2e" stroke-opacity="0.25" stroke-width="0.3"/>
<rect x="431.3" y="79" width="6.9" height="1" fill="#1e8a2e" fill-opacity="0.32"/>
<rect x="412.5" y="84" width="7.5" height="2.6" fill="#fff" stroke="#1e8a2e" stroke-opacity="0.25" stroke-width="0.3"/>
<rect x="413.3" y="84.8" width="5.9" height="1" fill="#1e8a2e" fill-opacity="0.32"/>
<rect x="425.5" y="84" width="7.5" height="2.6" fill="#fff" stroke="#1e8a2e" stroke-opacity="0.25" stroke-width="0.3"/>
<rect x="426.3" y="84.8" width="5.9" height="1" fill="#1e8a2e" fill-opacity="0.32"/>
<rect x="411.5" y="89.8" width="7" height="2.6" fill="#fff" stroke="#1e8a2e" stroke-opacity="0.25" stroke-width="0.3"/>
<rect x="412.3" y="90.6" width="5.4" height="1" fill="#1e8a2e" fill-opacity="0.32"/>
<rect x="426.5" y="91.2" width="8.5" height="2.6" fill="#fff" stroke="#1e8a2e" stroke-opacity="0.25" stroke-width="0.3"/>
<rect x="427.3" y="92" width="6.9" height="1" fill="#1e8a2e" fill-opacity="0.32"/>
<rect x="489" y="21.4" width="7.5" height="2.6" fill="#fff" stroke="#d2452c" stroke-opacity="0.25" stroke-width="0.3"/>
<rect x="489.8" y="22.2" width="5.9" height="1" fill="#d2452c" fill-opacity="0.32"/>
<rect x="497.5" y="27.2" width="7.5" height="2.6" fill="#fff" stroke="#d2452c" stroke-opacity="0.25" stroke-width="0.3"/>
<rect x="498.3" y="28" width="5.9" height="1" fill="#d2452c" fill-opacity="0.32"/>
<rect x="489" y="30.6" width="6.5" height="2.6" fill="#fff" stroke="#d2452c" stroke-opacity="0.25" stroke-width="0.3"/>
<rect x="489.8" y="31.4" width="4.9" height="1" fill="#d2452c" fill-opacity="0.32"/>
<rect x="497" y="45" width="7" height="2.6" fill="#fff" stroke="#d2452c" stroke-opacity="0.25" stroke-width="0.3"/>
<rect x="497.8" y="45.8" width="5.4" height="1" fill="#d2452c" fill-opacity="0.32"/>
<rect x="491.5" y="52.3" width="7" height="2.6" fill="#fff" stroke="#d2452c" stroke-opacity="0.25" stroke-width="0.3"/>
<rect x="492.3" y="53.1" width="5.4" height="1" fill="#d2452c" fill-opacity="0.32"/>
<rect x="486" y="56.6" width="7" height="2.6" fill="#fff" stroke="#d2452c" stroke-opacity="0.25" stroke-width="0.3"/>
<rect x="486.8" y="57.4" width="5.4" height="1" fill="#d2452c" fill-opacity="0.32"/>
<rect x="480" y="61.8" width="7" height="2.6" fill="#fff" stroke="#d2452c" stroke-opacity="0.25" stroke-width="0.3"/>
<rect x="480.8" y="62.6" width="5.4" height="1" fill="#d2452c" fill-opacity="0.32"/>
<rect x="464" y="77.4" width="8.5" height="2.6" fill="#fff" stroke="#d2452c" stroke-opacity="0.25" stroke-width="0.3"/>
<rect x="464.8" y="78.2" width="6.9" height="1" fill="#d2452c" fill-opacity="0.32"/>
<rect x="476" y="75.3" width="7" height="2.6" fill="#fff" stroke="#d2452c" stroke-opacity="0.25" stroke-width="0.3"/>
<rect x="476.8" y="76.1" width="5.4" height="1" fill="#d2452c" fill-opacity="0.32"/>
<rect x="471.5" y="82" width="7" height="2.6" fill="#fff" stroke="#d2452c" stroke-opacity="0.25" stroke-width="0.3"/>
<rect x="472.3" y="82.8" width="5.4" height="1" fill="#d2452c" fill-opacity="0.32"/>
<rect x="481.5" y="80.2" width="8" height="2.6" fill="#fff" stroke="#d2452c" stroke-opacity="0.25" stroke-width="0.3"/>
<rect x="482.3" y="81" width="6.4" height="1" fill="#d2452c" fill-opacity="0.32"/>
<rect x="483" y="85.4" width="8" height="2.6" fill="#fff" stroke="#d2452c" stroke-opacity="0.25" stroke-width="0.3"/>
<rect x="483.8" y="86.2" width="6.4" height="1" fill="#d2452c" fill-opacity="0.32"/>
<rect x="476" y="90.6" width="8" height="2.6" fill="#fff" stroke="#d2452c" stroke-opacity="0.25" stroke-width="0.3"/>
<rect x="476.8" y="91.4" width="6.4" height="1" fill="#d2452c" fill-opacity="0.32"/>
<line x1="409.3" y1="20.7" x2="409.3" y2="134.9" stroke="#000" stroke-width="1.3"/>
<line x1="408.7" y1="134.3" x2="511.1" y2="134.3" stroke="#000" stroke-width="1.3"/>
<line x1="407.3" y1="27" x2="409.3" y2="27" stroke="#555" stroke-width="0.5"/>
<line x1="407.3" y1="61.1" x2="409.3" y2="61.1" stroke="#555" stroke-width="0.5"/>
<line x1="407.3" y1="95.4" x2="409.3" y2="95.4" stroke="#555" stroke-width="0.5"/>
<line x1="407.3" y1="129.9" x2="409.3" y2="129.9" stroke="#555" stroke-width="0.5"/>
<line x1="412.4" y1="134.3" x2="412.4" y2="136.1" stroke="#555" stroke-width="0.5"/>
<line x1="497" y1="134.3" x2="497" y2="136.1" stroke="#555" stroke-width="0.5"/>
<text x="393.4" y="80.35" font-size="9.4" text-anchor="middle" fill="#333" textLength="64.7" lengthAdjust="spacingAndGlyphs" transform="rotate(-90 393.4 80.35)" stroke="#333" stroke-width="0.08">-Log10 (adjusted p-</text>
<text x="403.4" y="79.8" font-size="9.4" text-anchor="middle" fill="#333" textLength="21.6" lengthAdjust="spacingAndGlyphs" transform="rotate(-90 403.4 79.8)" stroke="#333" stroke-width="0.08">value)</text>
<text x="430.4" y="145.1" font-size="9.7" fill="#333" textLength="59.9" lengthAdjust="spacingAndGlyphs" stroke="#333" stroke-width="0.08">Log2 Fold Change</text>
<text x="386.6" y="197.4" font-size="11.6" font-weight="bold" fill="#000">F</text>
<rect x="408.8" y="203.8" width="100.7" height="113" fill="#ffffff"/>
<line x1="414.5" y1="203.8" x2="414.5" y2="316.8" stroke="#efefef" stroke-width="0.5"/>
<line x1="429.3" y1="203.8" x2="429.3" y2="316.8" stroke="#efefef" stroke-width="0.5"/>
<line x1="445.2" y1="203.8" x2="445.2" y2="316.8" stroke="#efefef" stroke-width="0.5"/>
<line x1="460" y1="203.8" x2="460" y2="316.8" stroke="#efefef" stroke-width="0.5"/>
<line x1="474.8" y1="203.8" x2="474.8" y2="316.8" stroke="#efefef" stroke-width="0.5"/>
<line x1="490.7" y1="203.8" x2="490.7" y2="316.8" stroke="#efefef" stroke-width="0.5"/>
<line x1="505.5" y1="203.8" x2="505.5" y2="316.8" stroke="#efefef" stroke-width="0.5"/>
<line x1="408.8" y1="206.3" x2="509.5" y2="206.3" stroke="#efefef" stroke-width="0.5"/>
<line x1="408.8" y1="219.5" x2="509.5" y2="219.5" stroke="#efefef" stroke-width="0.5"/>
<line x1="408.8" y1="232.8" x2="509.5" y2="232.8" stroke="#efefef" stroke-width="0.5"/>
<line x1="408.8" y1="246" x2="509.5" y2="246" stroke="#efefef" stroke-width="0.5"/>
<line x1="408.8" y1="259.2" x2="509.5" y2="259.2" stroke="#efefef" stroke-width="0.5"/>
<line x1="408.8" y1="272.5" x2="509.5" y2="272.5" stroke="#efefef" stroke-width="0.5"/>
<line x1="408.8" y1="285.7" x2="509.5" y2="285.7" stroke="#efefef" stroke-width="0.5"/>
<line x1="408.8" y1="298.9" x2="509.5" y2="298.9" stroke="#efefef" stroke-width="0.5"/>
<line x1="408.8" y1="311.1" x2="509.5" y2="311.1" stroke="#efefef" stroke-width="0.5"/>
<rect x="408.8" y="203.8" width="100.7" height="113" fill="none" stroke="#cfcfcf" stroke-width="0.7"/>
<line x1="409.3" y1="310.6" x2="509.5" y2="310.6" stroke="#c4c4c4" stroke-width="0.8"/>
<path d="M438 310.8 Q445 311.90000000000003 452 310.8 Q458 309.8 466 310.1 L466 311.20000000000005 L438 311.20000000000005 Z" fill="#a0a0a0"/>
<polygon points="427.5,310.90000000000003 429.5,305.5 431.5,299.5 433.5,296.5 435.5,299.5 438.5,304.5 441.8,310.90000000000003" fill="#1e8a2e"/>
<g fill="#1e8a2e"><circle cx="423.86" cy="304.75" r="0.5"/><circle cx="421.61" cy="301.09" r="0.5"/><circle cx="421.52" cy="302.52" r="0.5"/><circle cx="428.97" cy="310.42" r="0.5"/><circle cx="426.16" cy="293.37" r="0.5"/><circle cx="432.81" cy="296.73" r="0.5"/><circle cx="433.26" cy="306.8" r="0.5"/><circle cx="426.67" cy="305.89" r="0.5"/><circle cx="434.92" cy="310.52" r="0.5"/><circle cx="420.1" cy="308.63" r="0.5"/><circle cx="433.72" cy="301.89" r="0.5"/><circle cx="433.85" cy="301.03" r="0.5"/><circle cx="435.4" cy="304.83" r="0.5"/><circle cx="420.5" cy="310.59" r="0.5"/><circle cx="434.6" cy="309.19" r="0.5"/><circle cx="430.59" cy="298.25" r="0.5"/><circle cx="427.12" cy="291.06" r="0.5"/><circle cx="433.38" cy="303.8" r="0.5"/><circle cx="425.76" cy="293.62" r="0.5"/><circle cx="424.78" cy="290.21" r="0.5"/><circle cx="431.06" cy="308.47" r="0.5"/><circle cx="436.5" cy="309.51" r="0.5"/><circle cx="432.73" cy="310.2" r="0.5"/><circle cx="439.02" cy="305.06" r="0.5"/><circle cx="430.81" cy="303.8" r="0.5"/><circle cx="421.96" cy="308.37" r="0.5"/><circle cx="431.74" cy="306.67" r="0.5"/><circle cx="424.27" cy="306.66" r="0.5"/><circle cx="418.58" cy="310.25" r="0.5"/><circle cx="422.96" cy="310.46" r="0.5"/><circle cx="435.8" cy="299.42" r="0.5"/><circle cx="429.94" cy="301.3" r="0.5"/><circle cx="438.95" cy="305.42" r="0.5"/><circle cx="435.8" cy="310.31" r="0.5"/><circle cx="430.21" cy="291.97" r="0.5"/><circle cx="421.51" cy="302.14" r="0.5"/><circle cx="429.05" cy="293.51" r="0.5"/><circle cx="427.61" cy="307.97" r="0.5"/><circle cx="434.68" cy="301.63" r="0.5"/><circle cx="423.37" cy="302.32" r="0.5"/><circle cx="435.07" cy="298.82" r="0.5"/><circle cx="431.78" cy="293.11" r="0.5"/><circle cx="425.92" cy="308.1" r="0.5"/><circle cx="429.44" cy="295.59" r="0.5"/><circle cx="427.11" cy="295.12" r="0.5"/><circle cx="432.02" cy="308.35" r="0.5"/><circle cx="438.41" cy="309.43" r="0.5"/><circle cx="424.27" cy="309.63" r="0.5"/><circle cx="439.41" cy="309.54" r="0.5"/><circle cx="429.83" cy="306.02" r="0.5"/><circle cx="426.22" cy="308.97" r="0.5"/><circle cx="428.43" cy="300.1" r="0.5"/><circle cx="438.24" cy="307.31" r="0.5"/><circle cx="433.78" cy="295.73" r="0.5"/><circle cx="421.95" cy="306.52" r="0.5"/><circle cx="423.41" cy="309.76" r="0.5"/><circle cx="426.36" cy="292.65" r="0.5"/><circle cx="434.58" cy="301.29" r="0.5"/><circle cx="435.65" cy="307.18" r="0.5"/><circle cx="430.74" cy="299.42" r="0.5"/><circle cx="419.1" cy="306.98" r="0.5"/><circle cx="421.73" cy="299.13" r="0.5"/><circle cx="428.3" cy="306.97" r="0.5"/><circle cx="428.24" cy="302.75" r="0.5"/><circle cx="430.15" cy="308.54" r="0.5"/><circle cx="430.88" cy="309.65" r="0.5"/><circle cx="426.46" cy="291.31" r="0.5"/><circle cx="431.23" cy="306.45" r="0.5"/><circle cx="433.4" cy="310.04" r="0.5"/><circle cx="422.54" cy="301.46" r="0.5"/><circle cx="422.63" cy="307.91" r="0.5"/><circle cx="424.94" cy="301.65" r="0.5"/><circle cx="423.67" cy="304.06" r="0.5"/><circle cx="424.15" cy="307.89" r="0.5"/><circle cx="428.43" cy="308.62" r="0.5"/><circle cx="424.98" cy="301.79" r="0.5"/><circle cx="419.6" cy="308.51" r="0.5"/><circle cx="426.58" cy="304.31" r="0.5"/><circle cx="427.19" cy="310.53" r="0.5"/><circle cx="424.69" cy="308.87" r="0.5"/><circle cx="422.26" cy="306.87" r="0.5"/><circle cx="423.02" cy="304.34" r="0.5"/><circle cx="425.28" cy="308.03" r="0.5"/><circle cx="422.87" cy="302.57" r="0.5"/><circle cx="421.58" cy="308.01" r="0.5"/><circle cx="425.34" cy="298.36" r="0.5"/><circle cx="427.3" cy="291.79" r="0.5"/><circle cx="434.89" cy="306.08" r="0.5"/><circle cx="422.03" cy="299.73" r="0.5"/><circle cx="424.51" cy="306.71" r="0.5"/><circle cx="424.27" cy="302.97" r="0.5"/><circle cx="422.5" cy="309.47" r="0.5"/><circle cx="425.08" cy="305.38" r="0.5"/><circle cx="425.71" cy="307.32" r="0.5"/><circle cx="425.79" cy="301.66" r="0.5"/><circle cx="437.16" cy="302.95" r="0.5"/><circle cx="429.44" cy="309.55" r="0.5"/><circle cx="433.22" cy="304.3" r="0.5"/><circle cx="425.77" cy="303.65" r="0.5"/><circle cx="428.83" cy="310.34" r="0.5"/><circle cx="439.02" cy="309.06" r="0.5"/><circle cx="432.26" cy="309.74" r="0.5"/><circle cx="435.21" cy="309.4" r="0.5"/><circle cx="428.97" cy="310.38" r="0.5"/><circle cx="425.92" cy="307.73" r="0.5"/><circle cx="433.07" cy="305.25" r="0.5"/><circle cx="434.96" cy="296.59" r="0.5"/><circle cx="432.71" cy="307.48" r="0.5"/><circle cx="436.61" cy="307.43" r="0.5"/><circle cx="429.62" cy="299.92" r="0.5"/><circle cx="425.77" cy="310.38" r="0.5"/><circle cx="427.22" cy="310" r="0.5"/><circle cx="426.5" cy="308.11" r="0.5"/><circle cx="425.01" cy="291.54" r="0.5"/><circle cx="422.24" cy="307.34" r="0.5"/><circle cx="430.32" cy="304.43" r="0.5"/><circle cx="426.16" cy="309.68" r="0.5"/><circle cx="420.18" cy="305.62" r="0.5"/><circle cx="426.65" cy="289.95" r="0.5"/><circle cx="420.67" cy="308" r="0.5"/><circle cx="437.96" cy="310.59" r="0.5"/><circle cx="425.94" cy="305.59" r="0.5"/><circle cx="425.48" cy="309.69" r="0.5"/><circle cx="429.24" cy="297.29" r="0.5"/><circle cx="433.82" cy="307.21" r="0.5"/><circle cx="419.11" cy="308.53" r="0.5"/><circle cx="419.54" cy="307.73" r="0.5"/><circle cx="426.56" cy="295.9" r="0.5"/><circle cx="418.89" cy="308.79" r="0.5"/><circle cx="429.69" cy="306.49" r="0.5"/><circle cx="418.97" cy="308.29" r="0.5"/><circle cx="432.34" cy="306.54" r="0.5"/><circle cx="436.18" cy="306.71" r="0.5"/><circle cx="429" cy="304.77" r="0.5"/><circle cx="422.62" cy="308.52" r="0.5"/><circle cx="436.25" cy="300.08" r="0.5"/><circle cx="432.5" cy="306.04" r="0.5"/><circle cx="424.87" cy="294.18" r="0.5"/><circle cx="433.26" cy="308.91" r="0.5"/><circle cx="418.51" cy="309.59" r="0.5"/><circle cx="425.96" cy="308.52" r="0.5"/><circle cx="425.35" cy="306.74" r="0.5"/><circle cx="423.8" cy="305.04" r="0.5"/><circle cx="422.83" cy="309.85" r="0.5"/><circle cx="427.45" cy="308.45" r="0.5"/><circle cx="432.43" cy="308.14" r="0.5"/><circle cx="428.7" cy="306.07" r="0.5"/><circle cx="423.39" cy="307.91" r="0.5"/><circle cx="437.93" cy="305.24" r="0.5"/><circle cx="429.08" cy="308.85" r="0.5"/><circle cx="423.57" cy="295.7" r="0.5"/><circle cx="438.95" cy="305.87" r="0.5"/><circle cx="428.98" cy="301.56" r="0.5"/><circle cx="424.34" cy="305.46" r="0.5"/><circle cx="428.29" cy="304.6" r="0.5"/><circle cx="428.96" cy="296.04" r="0.5"/><circle cx="421.5" cy="307.62" r="0.5"/><circle cx="432.67" cy="309.29" r="0.5"/><circle cx="434.92" cy="299.97" r="0.5"/><circle cx="425.13" cy="299.74" r="0.5"/><circle cx="432.47" cy="307.2" r="0.5"/><circle cx="421.94" cy="301.5" r="0.5"/><circle cx="428.64" cy="309.68" r="0.5"/><circle cx="428.06" cy="305.82" r="0.5"/><circle cx="435.87" cy="308.19" r="0.5"/><circle cx="422.62" cy="305.31" r="0.5"/><circle cx="434.49" cy="310.17" r="0.5"/><circle cx="423.77" cy="300.32" r="0.5"/><circle cx="437.73" cy="304.06" r="0.5"/><circle cx="420.61" cy="302.91" r="0.5"/><circle cx="436.75" cy="303.35" r="0.5"/><circle cx="431.97" cy="299.53" r="0.5"/><circle cx="420.6" cy="304.37" r="0.5"/><circle cx="434.64" cy="303.12" r="0.5"/><circle cx="420.1" cy="308.52" r="0.5"/><circle cx="425.86" cy="309.63" r="0.5"/><circle cx="435.42" cy="307.39" r="0.5"/><circle cx="437.5" cy="304.76" r="0.5"/><circle cx="430.86" cy="309.91" r="0.5"/><circle cx="439.37" cy="310.15" r="0.5"/><circle cx="423.76" cy="305.46" r="0.5"/><circle cx="432.89" cy="297.96" r="0.5"/><circle cx="431.87" cy="307.21" r="0.5"/><circle cx="428.18" cy="305.1" r="0.5"/><circle cx="428.8" cy="293.86" r="0.5"/><circle cx="424.05" cy="310.26" r="0.5"/><circle cx="425.44" cy="309.62" r="0.5"/><circle cx="420.76" cy="306.37" r="0.5"/><circle cx="425.83" cy="305.74" r="0.5"/><circle cx="427.08" cy="308.77" r="0.5"/><circle cx="423.16" cy="308.84" r="0.5"/><circle cx="435.71" cy="306.23" r="0.5"/><circle cx="430.92" cy="309" r="0.5"/><circle cx="433.55" cy="302.59" r="0.5"/><circle cx="425.42" cy="303.1" r="0.5"/><circle cx="424.66" cy="310.07" r="0.5"/><circle cx="437.26" cy="310.03" r="0.5"/><circle cx="433.04" cy="305.19" r="0.5"/><circle cx="427.96" cy="298.03" r="0.5"/><circle cx="422.39" cy="308.26" r="0.5"/><circle cx="423.47" cy="310.42" r="0.5"/><circle cx="436.61" cy="310.27" r="0.5"/><circle cx="425.96" cy="292.38" r="0.5"/><circle cx="437.17" cy="309.09" r="0.5"/><circle cx="426.35" cy="289" r="0.5"/><circle cx="433.58" cy="300.29" r="0.5"/><circle cx="430.65" cy="304.72" r="0.5"/><circle cx="431.77" cy="308.99" r="0.5"/><circle cx="430.78" cy="304.89" r="0.5"/><circle cx="436.14" cy="307.68" r="0.5"/><circle cx="425.74" cy="299.93" r="0.5"/><circle cx="428.82" cy="300.81" r="0.5"/><circle cx="427.51" cy="299.15" r="0.5"/><circle cx="426.69" cy="305.21" r="0.5"/><circle cx="429.61" cy="302.51" r="0.5"/><circle cx="440.15" cy="309.99" r="0.5"/><circle cx="439.6" cy="309.24" r="0.5"/><circle cx="427.92" cy="297.4" r="0.5"/><circle cx="437.68" cy="302.03" r="0.5"/><circle cx="421.01" cy="306.79" r="0.5"/><circle cx="429.27" cy="304.8" r="0.5"/><circle cx="436.8" cy="306.84" r="0.5"/><circle cx="436.17" cy="309.59" r="0.5"/><circle cx="430.44" cy="307.78" r="0.5"/><circle cx="432.57" cy="297.86" r="0.5"/><circle cx="433.02" cy="308.84" r="0.5"/><circle cx="432.94" cy="309.54" r="0.5"/><circle cx="428.53" cy="308.99" r="0.5"/><circle cx="419.51" cy="310.4" r="0.5"/><circle cx="419.92" cy="307.84" r="0.5"/><circle cx="420.25" cy="302.51" r="0.5"/><circle cx="417.66" cy="299.26" r="0.5"/><circle cx="413.41" cy="302.58" r="0.5"/><circle cx="415.49" cy="302.51" r="0.5"/><circle cx="420.75" cy="308.64" r="0.5"/><circle cx="414.41" cy="310.3" r="0.5"/><circle cx="414.77" cy="309.66" r="0.5"/><circle cx="416.81" cy="298.92" r="0.5"/><circle cx="416.37" cy="306.86" r="0.5"/><circle cx="417.62" cy="307.2" r="0.5"/><circle cx="420.79" cy="301.98" r="0.5"/><circle cx="413.96" cy="307.71" r="0.5"/><circle cx="420.07" cy="299.31" r="0.5"/><circle cx="419.75" cy="305.43" r="0.5"/><circle cx="423.71" cy="310.52" r="0.5"/><circle cx="412.73" cy="301.25" r="0.5"/></g>
<circle cx="425" cy="284.5" r="0.55" fill="#1e8a2e"/>
<circle cx="427.5" cy="285" r="0.55" fill="#1e8a2e"/>
<circle cx="413" cy="297" r="0.55" fill="#1e8a2e"/>
<circle cx="414.5" cy="303" r="0.55" fill="#1e8a2e"/>
<circle cx="432" cy="290" r="0.55" fill="#1e8a2e"/>
<polygon points="448.5,310.90000000000003 450.5,305 452.5,299.5 454.5,296.5 458,297 463,298.5 469,299.5 475,298.5 480,295 484,291 487.8,288.2 481,295 474,302 468,308 464.8,310.90000000000003" fill="#d2452c"/>
<g fill="#d2452c"><circle cx="452.89" cy="296.15" r="0.5"/><circle cx="483.89" cy="291.88" r="0.5"/><circle cx="461.44" cy="292.89" r="0.5"/><circle cx="450.86" cy="303.02" r="0.5"/><circle cx="472.93" cy="267.95" r="0.5"/><circle cx="464.78" cy="260.68" r="0.5"/><circle cx="451.58" cy="300.14" r="0.5"/><circle cx="453.01" cy="296.5" r="0.5"/><circle cx="459.2" cy="299.88" r="0.5"/><circle cx="452.08" cy="298.76" r="0.5"/><circle cx="471.03" cy="303.99" r="0.5"/><circle cx="460.81" cy="301.44" r="0.5"/><circle cx="464.68" cy="296.36" r="0.5"/><circle cx="455.29" cy="303.19" r="0.5"/><circle cx="460.78" cy="302.77" r="0.5"/><circle cx="476.71" cy="263.93" r="0.5"/><circle cx="464.12" cy="273.51" r="0.5"/><circle cx="459.71" cy="304.32" r="0.5"/><circle cx="467.52" cy="293.93" r="0.5"/><circle cx="467" cy="297.04" r="0.5"/><circle cx="485.49" cy="283.91" r="0.5"/><circle cx="460.94" cy="298.72" r="0.5"/><circle cx="463.49" cy="276.58" r="0.5"/><circle cx="455.52" cy="302.63" r="0.5"/><circle cx="466.43" cy="303.13" r="0.5"/><circle cx="465.74" cy="277.21" r="0.5"/><circle cx="451.26" cy="302.38" r="0.5"/><circle cx="452.13" cy="300.11" r="0.5"/><circle cx="466.53" cy="295.64" r="0.5"/><circle cx="451.76" cy="300.1" r="0.5"/><circle cx="456.68" cy="285.3" r="0.5"/><circle cx="455.74" cy="301.03" r="0.5"/><circle cx="453.48" cy="297.11" r="0.5"/><circle cx="458.93" cy="295.87" r="0.5"/><circle cx="472.34" cy="282.27" r="0.5"/><circle cx="477.71" cy="268.37" r="0.5"/><circle cx="473.07" cy="281.78" r="0.5"/><circle cx="474.5" cy="295.26" r="0.5"/><circle cx="486.85" cy="287.55" r="0.5"/><circle cx="477.33" cy="283.77" r="0.5"/><circle cx="470.55" cy="299.62" r="0.5"/><circle cx="454.19" cy="296.89" r="0.5"/><circle cx="452.3" cy="303.51" r="0.5"/><circle cx="466.49" cy="299.73" r="0.5"/><circle cx="452.1" cy="299.22" r="0.5"/><circle cx="472.51" cy="281.51" r="0.5"/><circle cx="450.18" cy="304.15" r="0.5"/><circle cx="456.66" cy="302.37" r="0.5"/><circle cx="487.17" cy="273.17" r="0.5"/><circle cx="459.71" cy="289.45" r="0.5"/><circle cx="460.34" cy="295.64" r="0.5"/><circle cx="451.75" cy="298.18" r="0.5"/><circle cx="479" cy="290.55" r="0.5"/><circle cx="458.15" cy="283.84" r="0.5"/><circle cx="456.85" cy="292.51" r="0.5"/><circle cx="468.09" cy="284.83" r="0.5"/><circle cx="482.85" cy="259.97" r="0.5"/><circle cx="455.66" cy="302.59" r="0.5"/><circle cx="472.66" cy="265.16" r="0.5"/><circle cx="462.62" cy="295.49" r="0.5"/><circle cx="486.49" cy="281.26" r="0.5"/><circle cx="482.58" cy="292.43" r="0.5"/><circle cx="456.2" cy="290.1" r="0.5"/><circle cx="468.78" cy="277.67" r="0.5"/><circle cx="471.45" cy="303.74" r="0.5"/><circle cx="460.77" cy="304.07" r="0.5"/><circle cx="477.8" cy="294.08" r="0.5"/><circle cx="456.16" cy="296.62" r="0.5"/><circle cx="454.64" cy="299.41" r="0.5"/><circle cx="462.43" cy="291.38" r="0.5"/><circle cx="462.35" cy="282.35" r="0.5"/><circle cx="456.46" cy="297.66" r="0.5"/><circle cx="483.53" cy="275.26" r="0.5"/><circle cx="464.97" cy="289.2" r="0.5"/><circle cx="468.91" cy="302.13" r="0.5"/><circle cx="453.58" cy="293.82" r="0.5"/><circle cx="451.81" cy="301.63" r="0.5"/><circle cx="484.97" cy="284.36" r="0.5"/><circle cx="468.88" cy="301.04" r="0.5"/><circle cx="467.76" cy="298.33" r="0.5"/><circle cx="476.1" cy="272.78" r="0.5"/><circle cx="467.21" cy="278.82" r="0.5"/><circle cx="458.99" cy="304.44" r="0.5"/><circle cx="458.03" cy="290.46" r="0.5"/><circle cx="458.6" cy="296.71" r="0.5"/><circle cx="454.77" cy="304.16" r="0.5"/><circle cx="462.78" cy="296.88" r="0.5"/><circle cx="466.46" cy="285.16" r="0.5"/><circle cx="486.13" cy="277.56" r="0.5"/><circle cx="475.93" cy="285.72" r="0.5"/><circle cx="476.45" cy="292.29" r="0.5"/><circle cx="465.82" cy="297.39" r="0.5"/><circle cx="470.41" cy="286.4" r="0.5"/><circle cx="452.33" cy="299.25" r="0.5"/><circle cx="456.23" cy="303.14" r="0.5"/><circle cx="476.37" cy="290.7" r="0.5"/><circle cx="463.68" cy="284.55" r="0.5"/><circle cx="468.67" cy="262.24" r="0.5"/><circle cx="457.44" cy="284.46" r="0.5"/><circle cx="476.38" cy="282.2" r="0.5"/><circle cx="486.12" cy="254.29" r="0.5"/><circle cx="482.41" cy="285.98" r="0.5"/><circle cx="474.13" cy="283.13" r="0.5"/><circle cx="461.39" cy="300.85" r="0.5"/><circle cx="466.16" cy="268.37" r="0.5"/><circle cx="463.17" cy="292.04" r="0.5"/><circle cx="456.21" cy="304.55" r="0.5"/><circle cx="464.56" cy="301.46" r="0.5"/><circle cx="485.98" cy="267.83" r="0.5"/><circle cx="464.41" cy="289.39" r="0.5"/><circle cx="464.53" cy="302.76" r="0.5"/><circle cx="473.97" cy="291.7" r="0.5"/><circle cx="475.15" cy="297.11" r="0.5"/><circle cx="456.31" cy="300.77" r="0.5"/><circle cx="465.06" cy="299.62" r="0.5"/><circle cx="464.57" cy="268.19" r="0.5"/><circle cx="478.4" cy="288.57" r="0.5"/><circle cx="451.63" cy="300.53" r="0.5"/><circle cx="478.5" cy="291.25" r="0.5"/><circle cx="479.75" cy="270.86" r="0.5"/><circle cx="461.89" cy="295.97" r="0.5"/><circle cx="480.04" cy="292.56" r="0.5"/><circle cx="456.67" cy="298.84" r="0.5"/><circle cx="485.17" cy="289.72" r="0.5"/><circle cx="450.91" cy="301.28" r="0.5"/><circle cx="461.39" cy="302.63" r="0.5"/><circle cx="458.28" cy="289.8" r="0.5"/><circle cx="463.17" cy="301.22" r="0.5"/><circle cx="475.97" cy="287.97" r="0.5"/><circle cx="457.46" cy="283.71" r="0.5"/><circle cx="476.23" cy="293.99" r="0.5"/><circle cx="471.74" cy="254.18" r="0.5"/><circle cx="476.61" cy="274.21" r="0.5"/><circle cx="467.49" cy="262.79" r="0.5"/><circle cx="482.54" cy="285.51" r="0.5"/><circle cx="454.6" cy="294.24" r="0.5"/><circle cx="453.02" cy="301.16" r="0.5"/><circle cx="452.18" cy="303.04" r="0.5"/><circle cx="456.53" cy="289.3" r="0.5"/><circle cx="478.84" cy="281.89" r="0.5"/><circle cx="481.72" cy="277.48" r="0.5"/><circle cx="485.91" cy="284.62" r="0.5"/><circle cx="478.9" cy="254.29" r="0.5"/><circle cx="468.66" cy="250.92" r="0.5"/><circle cx="450.82" cy="302.86" r="0.5"/><circle cx="457.84" cy="300.9" r="0.5"/><circle cx="470.4" cy="294.78" r="0.5"/><circle cx="458.2" cy="282.87" r="0.5"/><circle cx="465.05" cy="296.34" r="0.5"/><circle cx="453.86" cy="297.08" r="0.5"/><circle cx="463.67" cy="290.06" r="0.5"/><circle cx="469.51" cy="286.18" r="0.5"/><circle cx="487.5" cy="251.98" r="0.5"/><circle cx="465.87" cy="303.4" r="0.5"/><circle cx="463.45" cy="284.16" r="0.5"/><circle cx="459.35" cy="302.61" r="0.5"/><circle cx="469.97" cy="297.61" r="0.5"/><circle cx="470.72" cy="264.51" r="0.5"/><circle cx="462.02" cy="299.11" r="0.5"/><circle cx="480.5" cy="285.5" r="0.5"/><circle cx="460.89" cy="290.88" r="0.5"/><circle cx="473.06" cy="298.03" r="0.5"/><circle cx="454.12" cy="292.88" r="0.5"/><circle cx="457.02" cy="295.86" r="0.5"/><circle cx="456.64" cy="287.04" r="0.5"/><circle cx="452.53" cy="299.54" r="0.5"/><circle cx="481.33" cy="294.21" r="0.5"/><circle cx="462.91" cy="292.13" r="0.5"/><circle cx="465.25" cy="261.13" r="0.5"/><circle cx="472.3" cy="297.56" r="0.5"/><circle cx="465.1" cy="304.52" r="0.5"/><circle cx="452.05" cy="297.43" r="0.5"/><circle cx="460.43" cy="299.98" r="0.5"/><circle cx="463.93" cy="296.88" r="0.5"/><circle cx="453.12" cy="303.73" r="0.5"/><circle cx="463.65" cy="295.25" r="0.5"/><circle cx="454.58" cy="303.17" r="0.5"/><circle cx="480.39" cy="255.07" r="0.5"/><circle cx="454.03" cy="293.26" r="0.5"/><circle cx="472.08" cy="296.62" r="0.5"/><circle cx="467.15" cy="295.47" r="0.5"/><circle cx="477.57" cy="267.38" r="0.5"/><circle cx="455.41" cy="288.44" r="0.5"/><circle cx="465.45" cy="304.21" r="0.5"/><circle cx="475.69" cy="296.07" r="0.5"/><circle cx="485.84" cy="276.65" r="0.5"/><circle cx="478.99" cy="296.99" r="0.5"/><circle cx="484.74" cy="282.01" r="0.5"/><circle cx="467.58" cy="302.03" r="0.5"/><circle cx="479.25" cy="295.83" r="0.5"/><circle cx="459.09" cy="300.69" r="0.5"/><circle cx="460.99" cy="299.54" r="0.5"/><circle cx="466.62" cy="299.2" r="0.5"/><circle cx="452.71" cy="302.49" r="0.5"/><circle cx="453.86" cy="294.81" r="0.5"/><circle cx="475.67" cy="296.92" r="0.5"/><circle cx="464.71" cy="269.95" r="0.5"/><circle cx="466.9" cy="304.3" r="0.5"/><circle cx="478.48" cy="252.78" r="0.5"/><circle cx="454.13" cy="302.25" r="0.5"/><circle cx="486.99" cy="264.15" r="0.5"/><circle cx="452.34" cy="304.09" r="0.5"/><circle cx="457.84" cy="295.63" r="0.5"/><circle cx="466.31" cy="282.17" r="0.5"/><circle cx="460.45" cy="280.72" r="0.5"/><circle cx="482.29" cy="292.91" r="0.5"/><circle cx="457.59" cy="285.23" r="0.5"/><circle cx="463.38" cy="302.72" r="0.5"/><circle cx="459.74" cy="297.08" r="0.5"/><circle cx="467.66" cy="294.21" r="0.5"/><circle cx="471.14" cy="250.57" r="0.5"/><circle cx="459.83" cy="291.15" r="0.5"/><circle cx="474.31" cy="291.99" r="0.5"/><circle cx="459.59" cy="302.31" r="0.5"/><circle cx="456.11" cy="285.03" r="0.5"/><circle cx="468.02" cy="281.01" r="0.5"/><circle cx="469.16" cy="293.38" r="0.5"/><circle cx="458.75" cy="279.41" r="0.5"/><circle cx="453.7" cy="293.49" r="0.5"/><circle cx="459.28" cy="296.81" r="0.5"/><circle cx="454.44" cy="304.25" r="0.5"/><circle cx="469.39" cy="295.03" r="0.5"/><circle cx="470.73" cy="263.2" r="0.5"/><circle cx="473.25" cy="292.52" r="0.5"/><circle cx="487.45" cy="260.29" r="0.5"/><circle cx="454.15" cy="298.85" r="0.5"/><circle cx="464.86" cy="261.61" r="0.5"/><circle cx="471.99" cy="295.07" r="0.5"/><circle cx="462.74" cy="292.56" r="0.5"/><circle cx="468.97" cy="263.26" r="0.5"/><circle cx="478.03" cy="291.76" r="0.5"/><circle cx="456.6" cy="302.22" r="0.5"/><circle cx="467.51" cy="293.69" r="0.5"/><circle cx="459.78" cy="300.88" r="0.5"/><circle cx="450.9" cy="303.61" r="0.5"/><circle cx="454.07" cy="297.9" r="0.5"/><circle cx="471.78" cy="249.76" r="0.5"/><circle cx="469.86" cy="299.44" r="0.5"/><circle cx="462.76" cy="282.98" r="0.5"/><circle cx="475.66" cy="276.33" r="0.5"/><circle cx="467.33" cy="296.73" r="0.5"/><circle cx="455.69" cy="300.09" r="0.5"/><circle cx="470.77" cy="271.13" r="0.5"/><circle cx="464.78" cy="268.19" r="0.5"/><circle cx="450.87" cy="302.24" r="0.5"/><circle cx="472.38" cy="283.06" r="0.5"/><circle cx="449.98" cy="304.44" r="0.5"/><circle cx="471.3" cy="276.8" r="0.5"/><circle cx="460.94" cy="271.79" r="0.5"/><circle cx="456.41" cy="290.38" r="0.5"/><circle cx="473.98" cy="284.17" r="0.5"/><circle cx="459.45" cy="289.45" r="0.5"/><circle cx="466.89" cy="256.98" r="0.5"/><circle cx="463.8" cy="303.54" r="0.5"/><circle cx="450.79" cy="303.04" r="0.5"/><circle cx="469.42" cy="294.73" r="0.5"/><circle cx="479.72" cy="268.98" r="0.5"/><circle cx="462.83" cy="303.45" r="0.5"/><circle cx="461.5" cy="274.91" r="0.5"/><circle cx="462.89" cy="282.13" r="0.5"/><circle cx="451.4" cy="298.92" r="0.5"/><circle cx="471.03" cy="281.88" r="0.5"/><circle cx="472.31" cy="267.44" r="0.5"/><circle cx="453.88" cy="301.9" r="0.5"/><circle cx="474.56" cy="299.71" r="0.5"/><circle cx="451.89" cy="300.92" r="0.5"/><circle cx="452.93" cy="297.64" r="0.5"/><circle cx="467.83" cy="295.74" r="0.5"/><circle cx="458.88" cy="287.77" r="0.5"/><circle cx="459.9" cy="302.21" r="0.5"/><circle cx="467.88" cy="286.01" r="0.5"/><circle cx="481.83" cy="290.97" r="0.5"/><circle cx="454.85" cy="302.09" r="0.5"/><circle cx="466.56" cy="293.71" r="0.5"/><circle cx="474.83" cy="267.73" r="0.5"/><circle cx="466.68" cy="287.23" r="0.5"/><circle cx="482.71" cy="280.06" r="0.5"/><circle cx="452.93" cy="299.04" r="0.5"/><circle cx="458.02" cy="299.8" r="0.5"/><circle cx="466.52" cy="269.33" r="0.5"/><circle cx="473.56" cy="288.72" r="0.5"/><circle cx="467.74" cy="254.54" r="0.5"/><circle cx="465.45" cy="281.09" r="0.5"/><circle cx="462.98" cy="302.86" r="0.5"/><circle cx="474.47" cy="274.84" r="0.5"/><circle cx="471.25" cy="303.78" r="0.5"/><circle cx="467.48" cy="296.84" r="0.5"/><circle cx="462.44" cy="284" r="0.5"/><circle cx="459.17" cy="296.2" r="0.5"/><circle cx="450.78" cy="302.99" r="0.5"/><circle cx="467" cy="284.41" r="0.5"/><circle cx="461.27" cy="272" r="0.5"/><circle cx="454.43" cy="298.86" r="0.5"/><circle cx="482.84" cy="258.65" r="0.5"/><circle cx="473.3" cy="268.33" r="0.5"/><circle cx="457.74" cy="302.84" r="0.5"/><circle cx="451.13" cy="300.5" r="0.5"/><circle cx="460.53" cy="291.28" r="0.5"/><circle cx="460.04" cy="302.77" r="0.5"/><circle cx="487.32" cy="261.31" r="0.5"/><circle cx="454.52" cy="294.56" r="0.5"/><circle cx="459.43" cy="281.17" r="0.5"/><circle cx="454.97" cy="292.27" r="0.5"/><circle cx="464.49" cy="292.08" r="0.5"/><circle cx="463.17" cy="299.52" r="0.5"/><circle cx="456.43" cy="295.67" r="0.5"/><circle cx="480.09" cy="293.03" r="0.5"/><circle cx="467.36" cy="296.91" r="0.5"/><circle cx="469.31" cy="264.44" r="0.5"/><circle cx="472.2" cy="277.95" r="0.5"/><circle cx="450.9" cy="302.2" r="0.5"/><circle cx="473.88" cy="259.85" r="0.5"/><circle cx="477.95" cy="295.23" r="0.5"/><circle cx="467.17" cy="290.95" r="0.5"/><circle cx="468.84" cy="299.25" r="0.5"/><circle cx="460.81" cy="299.86" r="0.5"/><circle cx="474.11" cy="281.86" r="0.5"/><circle cx="453.44" cy="302.29" r="0.5"/><circle cx="478.18" cy="285.6" r="0.5"/><circle cx="472.89" cy="302.87" r="0.5"/><circle cx="452.76" cy="302.31" r="0.5"/><circle cx="458.29" cy="303.1" r="0.5"/><circle cx="481.43" cy="289.13" r="0.5"/><circle cx="465.57" cy="301.75" r="0.5"/><circle cx="461.7" cy="302.82" r="0.5"/><circle cx="457.91" cy="299.96" r="0.5"/><circle cx="464.58" cy="303.74" r="0.5"/><circle cx="466.72" cy="302.51" r="0.5"/><circle cx="465.31" cy="298.04" r="0.5"/><circle cx="468.44" cy="288.29" r="0.5"/><circle cx="486.16" cy="271.49" r="0.5"/><circle cx="457.71" cy="299.3" r="0.5"/><circle cx="462.95" cy="271.08" r="0.5"/><circle cx="461.64" cy="295.88" r="0.5"/><circle cx="463.91" cy="302.4" r="0.5"/><circle cx="478.54" cy="281.96" r="0.5"/><circle cx="469.68" cy="304.58" r="0.5"/><circle cx="472.7" cy="298.61" r="0.5"/><circle cx="466.71" cy="287.28" r="0.5"/><circle cx="477.46" cy="275.51" r="0.5"/><circle cx="469.52" cy="297.96" r="0.5"/><circle cx="472.55" cy="293.34" r="0.5"/><circle cx="478.87" cy="289.35" r="0.5"/><circle cx="460.22" cy="301.82" r="0.5"/><circle cx="465.68" cy="304.58" r="0.5"/><circle cx="482.7" cy="280.98" r="0.5"/><circle cx="459.89" cy="303.89" r="0.5"/><circle cx="455.01" cy="294.18" r="0.5"/><circle cx="474.14" cy="300.98" r="0.5"/><circle cx="464.59" cy="273.96" r="0.5"/><circle cx="476.51" cy="276.33" r="0.5"/><circle cx="467.75" cy="296.82" r="0.5"/><circle cx="455.75" cy="300.44" r="0.5"/><circle cx="462.44" cy="304.44" r="0.5"/><circle cx="475.81" cy="290.67" r="0.5"/><circle cx="463.65" cy="293.39" r="0.5"/><circle cx="468.99" cy="298.75" r="0.5"/><circle cx="466.09" cy="297.14" r="0.5"/><circle cx="468.65" cy="281.92" r="0.5"/><circle cx="456.7" cy="286.06" r="0.5"/><circle cx="471.27" cy="299.77" r="0.5"/><circle cx="451" cy="302.05" r="0.5"/><circle cx="465.23" cy="304.37" r="0.5"/><circle cx="458.74" cy="302.8" r="0.5"/><circle cx="473.94" cy="295.37" r="0.5"/><circle cx="465.77" cy="294.24" r="0.5"/><circle cx="466.13" cy="304.2" r="0.5"/><circle cx="474.85" cy="281.27" r="0.5"/><circle cx="475.36" cy="275.79" r="0.5"/><circle cx="483.01" cy="284.46" r="0.5"/><circle cx="454.87" cy="289.23" r="0.5"/><circle cx="488.63" cy="270.06" r="0.5"/><circle cx="451.51" cy="301" r="0.5"/><circle cx="453.2" cy="297.95" r="0.5"/><circle cx="453.27" cy="297.22" r="0.5"/><circle cx="450.85" cy="300.62" r="0.5"/><circle cx="458.68" cy="295.64" r="0.5"/><circle cx="466.45" cy="283.72" r="0.5"/><circle cx="472.8" cy="301.7" r="0.5"/><circle cx="478.77" cy="268.62" r="0.5"/><circle cx="458.63" cy="300.69" r="0.5"/><circle cx="461.97" cy="295.01" r="0.5"/><circle cx="457.87" cy="304.17" r="0.5"/><circle cx="477.35" cy="281.25" r="0.5"/><circle cx="478" cy="273.11" r="0.5"/><circle cx="483.94" cy="281.58" r="0.5"/><circle cx="482.4" cy="264.75" r="0.5"/><circle cx="468.83" cy="295.99" r="0.5"/><circle cx="484.02" cy="287.42" r="0.5"/><circle cx="468.05" cy="284.59" r="0.5"/><circle cx="456.58" cy="301.21" r="0.5"/><circle cx="466.46" cy="299.99" r="0.5"/><circle cx="461.35" cy="281.13" r="0.5"/><circle cx="477.85" cy="292.4" r="0.5"/><circle cx="453.33" cy="297.32" r="0.5"/><circle cx="463.47" cy="289.71" r="0.5"/><circle cx="455.27" cy="302.11" r="0.5"/><circle cx="451.55" cy="304.49" r="0.5"/><circle cx="454.12" cy="295.74" r="0.5"/><circle cx="459.83" cy="304.5" r="0.5"/><circle cx="484.41" cy="253.97" r="0.5"/><circle cx="475.25" cy="298.28" r="0.5"/><circle cx="452.06" cy="303.27" r="0.5"/><circle cx="450.16" cy="304.49" r="0.5"/><circle cx="476.97" cy="289.87" r="0.5"/><circle cx="474.96" cy="294.21" r="0.5"/><circle cx="478.22" cy="295" r="0.5"/><circle cx="469.26" cy="289.62" r="0.5"/><circle cx="458.69" cy="301.61" r="0.5"/><circle cx="474.65" cy="295.31" r="0.5"/><circle cx="456.23" cy="300.43" r="0.5"/><circle cx="459.66" cy="277.46" r="0.5"/><circle cx="458.16" cy="292.28" r="0.5"/><circle cx="472.91" cy="287.09" r="0.5"/><circle cx="465.41" cy="303.02" r="0.5"/><circle cx="458.93" cy="296.23" r="0.5"/><circle cx="481.18" cy="273.53" r="0.5"/><circle cx="467.35" cy="298.67" r="0.5"/><circle cx="460.4" cy="302.49" r="0.5"/><circle cx="462.94" cy="303.22" r="0.5"/><circle cx="477.65" cy="264.97" r="0.5"/><circle cx="459.34" cy="303.94" r="0.5"/><circle cx="463.27" cy="294.46" r="0.5"/><circle cx="455.12" cy="301.98" r="0.5"/><circle cx="453.72" cy="295.05" r="0.5"/><circle cx="461.22" cy="286.65" r="0.5"/><circle cx="452.6" cy="299.11" r="0.5"/><circle cx="474.93" cy="298.83" r="0.5"/><circle cx="452.7" cy="299.08" r="0.5"/><circle cx="476.37" cy="297.81" r="0.5"/><circle cx="455.94" cy="303.13" r="0.5"/><circle cx="465.8" cy="300.85" r="0.5"/><circle cx="454.38" cy="294.69" r="0.5"/><circle cx="467.26" cy="272.88" r="0.5"/><circle cx="468.06" cy="286.06" r="0.5"/><circle cx="461.27" cy="271.74" r="0.5"/><circle cx="456.01" cy="300.46" r="0.5"/><circle cx="470.78" cy="299.69" r="0.5"/><circle cx="461.06" cy="293.43" r="0.5"/><circle cx="477.25" cy="293.29" r="0.5"/><circle cx="465.5" cy="291.11" r="0.5"/><circle cx="473.51" cy="287.49" r="0.5"/><circle cx="461.74" cy="296.28" r="0.5"/><circle cx="458.56" cy="302.34" r="0.5"/><circle cx="467.19" cy="270.82" r="0.5"/><circle cx="466.14" cy="297.33" r="0.5"/><circle cx="457.85" cy="290.32" r="0.5"/><circle cx="471.85" cy="295.15" r="0.5"/><circle cx="451.11" cy="303.92" r="0.5"/><circle cx="485.26" cy="282.07" r="0.5"/><circle cx="450.85" cy="303.48" r="0.5"/><circle cx="461.54" cy="288.84" r="0.5"/><circle cx="455.69" cy="287.5" r="0.5"/><circle cx="455.67" cy="294.84" r="0.5"/><circle cx="468.22" cy="298.14" r="0.5"/><circle cx="477.61" cy="293.18" r="0.5"/><circle cx="475.63" cy="275.11" r="0.5"/><circle cx="462.92" cy="274.51" r="0.5"/><circle cx="459.86" cy="294.31" r="0.5"/><circle cx="456.83" cy="288.91" r="0.5"/><circle cx="469.13" cy="269.96" r="0.5"/><circle cx="486.78" cy="280.1" r="0.5"/><circle cx="472.07" cy="259.53" r="0.5"/><circle cx="488.89" cy="273.49" r="0.5"/><circle cx="466.39" cy="302.37" r="0.5"/><circle cx="468.69" cy="283.81" r="0.5"/><circle cx="454.07" cy="299.39" r="0.5"/><circle cx="477.59" cy="296.11" r="0.5"/><circle cx="457.22" cy="296.37" r="0.5"/><circle cx="466.19" cy="289.14" r="0.5"/><circle cx="466.62" cy="289.39" r="0.5"/><circle cx="451.69" cy="299.2" r="0.5"/><circle cx="476.65" cy="277.31" r="0.5"/><circle cx="461.4" cy="300.13" r="0.5"/><circle cx="467.45" cy="290.68" r="0.5"/><circle cx="481.7" cy="267.61" r="0.5"/><circle cx="458.11" cy="298.75" r="0.5"/><circle cx="457.87" cy="289.46" r="0.5"/><circle cx="464.53" cy="261.07" r="0.5"/><circle cx="459" cy="293.52" r="0.5"/><circle cx="454.11" cy="292.65" r="0.5"/><circle cx="475.03" cy="300.54" r="0.5"/><circle cx="462.51" cy="279.78" r="0.5"/><circle cx="453.14" cy="294.86" r="0.5"/><circle cx="453.13" cy="302.52" r="0.5"/><circle cx="456.01" cy="298.62" r="0.5"/><circle cx="451.28" cy="303.52" r="0.5"/><circle cx="485.82" cy="283.03" r="0.5"/><circle cx="481.12" cy="275.7" r="0.5"/><circle cx="453.78" cy="299.89" r="0.5"/><circle cx="452.01" cy="299.57" r="0.5"/><circle cx="466.33" cy="301.51" r="0.5"/><circle cx="453.2" cy="293.79" r="0.5"/><circle cx="472.43" cy="298.78" r="0.5"/><circle cx="479.44" cy="274.14" r="0.5"/><circle cx="485.46" cy="283.56" r="0.5"/><circle cx="463.12" cy="291.57" r="0.5"/><circle cx="460.46" cy="290.98" r="0.5"/><circle cx="453.8" cy="304.01" r="0.5"/><circle cx="454.78" cy="294.81" r="0.5"/><circle cx="453.89" cy="303.26" r="0.5"/><circle cx="477.32" cy="297.25" r="0.5"/><circle cx="476.37" cy="293.92" r="0.5"/><circle cx="473.52" cy="282.78" r="0.5"/><circle cx="459.66" cy="298.38" r="0.5"/><circle cx="466.21" cy="298.5" r="0.5"/><circle cx="481.57" cy="273.7" r="0.5"/><circle cx="453.75" cy="299" r="0.5"/><circle cx="460.68" cy="304.46" r="0.5"/><circle cx="450.92" cy="300.46" r="0.5"/><circle cx="455.47" cy="298.85" r="0.5"/><circle cx="465.27" cy="300.92" r="0.5"/><circle cx="460.64" cy="290.55" r="0.5"/><circle cx="461.02" cy="283.61" r="0.5"/><circle cx="464.86" cy="263.94" r="0.5"/><circle cx="474.74" cy="290.26" r="0.5"/><circle cx="469.75" cy="283.51" r="0.5"/><circle cx="476.44" cy="271.77" r="0.5"/><circle cx="457.15" cy="285.82" r="0.5"/><circle cx="459.83" cy="301.29" r="0.5"/><circle cx="455.31" cy="291.99" r="0.5"/><circle cx="465.3" cy="282.94" r="0.5"/><circle cx="465.75" cy="294.29" r="0.5"/><circle cx="465.9" cy="275.4" r="0.5"/><circle cx="470.34" cy="291.47" r="0.5"/><circle cx="463.01" cy="287.55" r="0.5"/><circle cx="461.11" cy="299.36" r="0.5"/><circle cx="472.84" cy="289.9" r="0.5"/><circle cx="458.75" cy="302.3" r="0.5"/><circle cx="457.87" cy="291.45" r="0.5"/><circle cx="470.94" cy="302.88" r="0.5"/><circle cx="458.79" cy="304.26" r="0.5"/><circle cx="451.7" cy="299.01" r="0.5"/><circle cx="453.76" cy="299.57" r="0.5"/><circle cx="476.55" cy="296.42" r="0.5"/><circle cx="456.06" cy="303.28" r="0.5"/><circle cx="474.26" cy="285.6" r="0.5"/><circle cx="453.08" cy="304.26" r="0.5"/><circle cx="473.33" cy="299.32" r="0.5"/><circle cx="457.78" cy="295.26" r="0.5"/><circle cx="464.72" cy="294.13" r="0.5"/><circle cx="464.52" cy="302.01" r="0.5"/><circle cx="469.28" cy="284.18" r="0.5"/><circle cx="475.47" cy="292.27" r="0.5"/><circle cx="478.56" cy="254.5" r="0.5"/><circle cx="459.19" cy="303.87" r="0.5"/><circle cx="463.75" cy="287.23" r="0.5"/><circle cx="465.2" cy="286.15" r="0.5"/><circle cx="472.21" cy="289.27" r="0.5"/><circle cx="485.9" cy="286.86" r="0.5"/><circle cx="477.51" cy="284.92" r="0.5"/><circle cx="461.27" cy="285.11" r="0.5"/><circle cx="472.36" cy="289.36" r="0.5"/><circle cx="465.57" cy="303.59" r="0.5"/><circle cx="460.99" cy="300.48" r="0.5"/><circle cx="473.4" cy="292.73" r="0.5"/><circle cx="469.53" cy="281.41" r="0.5"/><circle cx="473.33" cy="259.7" r="0.5"/><circle cx="484.63" cy="291.23" r="0.5"/><circle cx="468.68" cy="298.34" r="0.5"/><circle cx="467.24" cy="254.5" r="0.5"/><circle cx="475.95" cy="280.58" r="0.5"/><circle cx="476.21" cy="292.19" r="0.5"/><circle cx="462.62" cy="273.15" r="0.5"/><circle cx="468.92" cy="293.93" r="0.5"/><circle cx="487.29" cy="285.4" r="0.5"/><circle cx="482.53" cy="278.61" r="0.5"/><circle cx="457.58" cy="303.53" r="0.5"/><circle cx="487.23" cy="265.46" r="0.5"/><circle cx="465.13" cy="282.03" r="0.5"/><circle cx="471.71" cy="281.1" r="0.5"/><circle cx="474.53" cy="286.98" r="0.5"/><circle cx="479.11" cy="272.53" r="0.5"/><circle cx="465.23" cy="293.72" r="0.5"/><circle cx="471.57" cy="287.46" r="0.5"/><circle cx="470.88" cy="303.79" r="0.5"/><circle cx="462.45" cy="298.46" r="0.5"/><circle cx="452.52" cy="303.91" r="0.5"/><circle cx="468.7" cy="262.34" r="0.5"/><circle cx="471.15" cy="298.92" r="0.5"/><circle cx="465.91" cy="300.18" r="0.5"/><circle cx="481.06" cy="291.16" r="0.5"/><circle cx="460.15" cy="294.23" r="0.5"/><circle cx="458.17" cy="299.8" r="0.5"/><circle cx="451.02" cy="304.6" r="0.5"/><circle cx="455.89" cy="302.02" r="0.5"/><circle cx="486.72" cy="281.2" r="0.5"/><circle cx="456.52" cy="297.6" r="0.5"/><circle cx="465.66" cy="299.05" r="0.5"/><circle cx="454.97" cy="294.18" r="0.5"/><circle cx="459.26" cy="292.73" r="0.5"/><circle cx="467.64" cy="302.11" r="0.5"/><circle cx="458.29" cy="302.82" r="0.5"/><circle cx="472.04" cy="281.36" r="0.5"/><circle cx="467.31" cy="271.51" r="0.5"/><circle cx="465.57" cy="257.81" r="0.5"/><circle cx="470.94" cy="268.51" r="0.5"/><circle cx="453.54" cy="304.55" r="0.5"/><circle cx="478.61" cy="284.44" r="0.5"/><circle cx="458.44" cy="277.94" r="0.5"/><circle cx="461.37" cy="298.73" r="0.5"/><circle cx="485.97" cy="266.21" r="0.5"/><circle cx="473.48" cy="302.01" r="0.5"/><circle cx="460.76" cy="291.67" r="0.5"/><circle cx="457.77" cy="303.22" r="0.5"/><circle cx="464.54" cy="292.84" r="0.5"/><circle cx="475.63" cy="298.65" r="0.5"/><circle cx="459.55" cy="294.28" r="0.5"/><circle cx="462.92" cy="280.55" r="0.5"/><circle cx="454.07" cy="295.81" r="0.5"/><circle cx="475.57" cy="300.25" r="0.5"/><circle cx="469.16" cy="289.06" r="0.5"/><circle cx="475.88" cy="286.7" r="0.5"/><circle cx="461.96" cy="292.81" r="0.5"/><circle cx="450.64" cy="302.05" r="0.5"/><circle cx="457.66" cy="302.54" r="0.5"/><circle cx="462.88" cy="304.44" r="0.5"/><circle cx="455.96" cy="298.02" r="0.5"/><circle cx="462.19" cy="298.58" r="0.5"/><circle cx="470.66" cy="300.84" r="0.5"/><circle cx="454.04" cy="294.05" r="0.5"/><circle cx="469.58" cy="303.17" r="0.5"/><circle cx="460.8" cy="290.79" r="0.5"/><circle cx="456.86" cy="284.62" r="0.5"/><circle cx="486.81" cy="269.44" r="0.5"/><circle cx="456.13" cy="287.13" r="0.5"/><circle cx="474.76" cy="295.72" r="0.5"/><circle cx="458.78" cy="290.2" r="0.5"/><circle cx="451.71" cy="300.33" r="0.5"/><circle cx="456.97" cy="292.8" r="0.5"/><circle cx="477.26" cy="295.16" r="0.5"/><circle cx="473.02" cy="267.62" r="0.5"/><circle cx="460.21" cy="280.08" r="0.5"/><circle cx="485.08" cy="257.37" r="0.5"/><circle cx="477.97" cy="294.05" r="0.5"/><circle cx="476.37" cy="298.96" r="0.5"/><circle cx="475.17" cy="298.36" r="0.5"/><circle cx="486.58" cy="275.56" r="0.5"/><circle cx="457.67" cy="283.83" r="0.5"/><circle cx="466.2" cy="299.35" r="0.5"/><circle cx="478.8" cy="266.32" r="0.5"/><circle cx="455.62" cy="303.96" r="0.5"/><circle cx="454.66" cy="297.83" r="0.5"/><circle cx="461.59" cy="300.52" r="0.5"/><circle cx="457.15" cy="297.14" r="0.5"/><circle cx="478.12" cy="296.1" r="0.5"/><circle cx="476.61" cy="290.07" r="0.5"/><circle cx="464.22" cy="261.43" r="0.5"/><circle cx="462.32" cy="270.62" r="0.5"/><circle cx="467.2" cy="301.1" r="0.5"/><circle cx="474.4" cy="282.23" r="0.5"/><circle cx="472.18" cy="294.26" r="0.5"/><circle cx="456.08" cy="295.66" r="0.5"/><circle cx="452.42" cy="300.64" r="0.5"/><circle cx="470.48" cy="304" r="0.5"/><circle cx="471.79" cy="256.62" r="0.5"/><circle cx="457.93" cy="296.09" r="0.5"/><circle cx="470.56" cy="280.28" r="0.5"/><circle cx="470.87" cy="301.61" r="0.5"/><circle cx="464.13" cy="262.35" r="0.5"/><circle cx="457.1" cy="294.77" r="0.5"/><circle cx="464.11" cy="288.29" r="0.5"/><circle cx="457.13" cy="298.94" r="0.5"/><circle cx="468.09" cy="289.64" r="0.5"/><circle cx="471.08" cy="293.9" r="0.5"/><circle cx="479.84" cy="294.34" r="0.5"/><circle cx="473.58" cy="295.36" r="0.5"/><circle cx="477.68" cy="261.93" r="0.5"/><circle cx="477.77" cy="290.36" r="0.5"/><circle cx="460.35" cy="284.69" r="0.5"/><circle cx="455.11" cy="295.97" r="0.5"/><circle cx="463.33" cy="304.26" r="0.5"/><circle cx="456.35" cy="298.22" r="0.5"/><circle cx="449.83" cy="304.18" r="0.5"/><circle cx="464.73" cy="286.78" r="0.5"/><circle cx="469.75" cy="295.44" r="0.5"/><circle cx="479.39" cy="266.51" r="0.5"/><circle cx="474.93" cy="300.64" r="0.5"/><circle cx="462.72" cy="301.35" r="0.5"/><circle cx="461.99" cy="288.07" r="0.5"/><circle cx="476.2" cy="269.43" r="0.5"/><circle cx="458.88" cy="284.79" r="0.5"/><circle cx="465.33" cy="276.03" r="0.5"/><circle cx="476.76" cy="289.2" r="0.5"/><circle cx="456.53" cy="298.38" r="0.5"/><circle cx="477.08" cy="298.18" r="0.5"/><circle cx="468.34" cy="287.45" r="0.5"/><circle cx="472.12" cy="291.39" r="0.5"/><circle cx="452.12" cy="299.74" r="0.5"/><circle cx="461.79" cy="302.75" r="0.5"/><circle cx="485.35" cy="289.99" r="0.5"/><circle cx="481.31" cy="289.08" r="0.5"/><circle cx="463.12" cy="293.62" r="0.5"/><circle cx="461.25" cy="294.41" r="0.5"/><circle cx="473.09" cy="281.76" r="0.5"/><circle cx="472.05" cy="302.51" r="0.5"/><circle cx="474.39" cy="292.64" r="0.5"/><circle cx="469.46" cy="291.92" r="0.5"/><circle cx="456.16" cy="290.87" r="0.5"/><circle cx="465.96" cy="302.36" r="0.5"/><circle cx="453.84" cy="297.72" r="0.5"/><circle cx="479.72" cy="277.56" r="0.5"/><circle cx="466.91" cy="281.51" r="0.5"/><circle cx="466.74" cy="302.34" r="0.5"/><circle cx="465.53" cy="300.71" r="0.5"/><circle cx="462.41" cy="285.52" r="0.5"/><circle cx="460.74" cy="304.56" r="0.5"/><circle cx="473.89" cy="279.6" r="0.5"/><circle cx="467.49" cy="300.45" r="0.5"/><circle cx="466.75" cy="295.46" r="0.5"/><circle cx="455.52" cy="298.84" r="0.5"/><circle cx="470.12" cy="291.88" r="0.5"/><circle cx="476.52" cy="266.15" r="0.5"/><circle cx="470.38" cy="293.52" r="0.5"/><circle cx="465.43" cy="288.78" r="0.5"/><circle cx="466.74" cy="299.64" r="0.5"/><circle cx="452.55" cy="296.77" r="0.5"/><circle cx="457.1" cy="301.62" r="0.5"/><circle cx="475.36" cy="286.04" r="0.5"/><circle cx="475.74" cy="293.82" r="0.5"/><circle cx="458.66" cy="298.28" r="0.5"/><circle cx="476.7" cy="282.34" r="0.5"/><circle cx="476.53" cy="295.72" r="0.5"/><circle cx="459.73" cy="304.17" r="0.5"/><circle cx="484.67" cy="273.34" r="0.5"/><circle cx="469.06" cy="301.17" r="0.5"/><circle cx="481.31" cy="292.41" r="0.5"/><circle cx="467.29" cy="298.23" r="0.5"/><circle cx="487.71" cy="288.17" r="0.5"/><circle cx="459.8" cy="297.97" r="0.5"/><circle cx="464.61" cy="302.47" r="0.5"/><circle cx="468.23" cy="303.43" r="0.5"/><circle cx="453.3" cy="302.07" r="0.5"/><circle cx="475.33" cy="256.68" r="0.5"/><circle cx="465.48" cy="282.11" r="0.5"/><circle cx="458.1" cy="300.16" r="0.5"/><circle cx="471.87" cy="301.19" r="0.5"/><circle cx="478.28" cy="270.29" r="0.5"/><circle cx="468.11" cy="299.66" r="0.5"/><circle cx="476.07" cy="266.93" r="0.5"/><circle cx="464" cy="300.62" r="0.5"/><circle cx="478.02" cy="254.43" r="0.5"/><circle cx="453.55" cy="302.01" r="0.5"/><circle cx="455.54" cy="288.68" r="0.5"/><circle cx="455.85" cy="304.58" r="0.5"/><circle cx="461.43" cy="299.84" r="0.5"/><circle cx="460.81" cy="303.38" r="0.5"/><circle cx="463.47" cy="286.59" r="0.5"/><circle cx="468.25" cy="290.66" r="0.5"/><circle cx="473.47" cy="279.69" r="0.5"/><circle cx="471.05" cy="288.34" r="0.5"/><circle cx="460.36" cy="276.9" r="0.5"/><circle cx="469.38" cy="302.66" r="0.5"/><circle cx="459.15" cy="275.85" r="0.5"/><circle cx="476.28" cy="268.67" r="0.5"/><circle cx="478.55" cy="273.59" r="0.5"/><circle cx="453.8" cy="297.05" r="0.5"/><circle cx="477.93" cy="281.45" r="0.5"/><circle cx="458.51" cy="294.44" r="0.5"/><circle cx="476.52" cy="297.35" r="0.5"/><circle cx="456.89" cy="294.64" r="0.5"/><circle cx="453.67" cy="301.49" r="0.5"/><circle cx="466.4" cy="283.66" r="0.5"/><circle cx="470.87" cy="294.32" r="0.5"/><circle cx="464.37" cy="299.49" r="0.5"/><circle cx="454.4" cy="300.95" r="0.5"/><circle cx="464.25" cy="291.98" r="0.5"/><circle cx="463.92" cy="268.61" r="0.5"/><circle cx="467.65" cy="264.93" r="0.5"/><circle cx="453.34" cy="297.88" r="0.5"/><circle cx="476.82" cy="298.52" r="0.5"/><circle cx="473.23" cy="297.41" r="0.5"/><circle cx="459.85" cy="285.57" r="0.5"/><circle cx="455.5" cy="295.57" r="0.5"/><circle cx="457.37" cy="300.01" r="0.5"/><circle cx="465.1" cy="301.7" r="0.5"/><circle cx="459.84" cy="292.76" r="0.5"/><circle cx="453.25" cy="299.9" r="0.5"/><circle cx="458.37" cy="302.66" r="0.5"/><circle cx="459.93" cy="303.35" r="0.5"/><circle cx="469.14" cy="299.88" r="0.5"/><circle cx="471.86" cy="299.63" r="0.5"/><circle cx="486.91" cy="258.09" r="0.5"/><circle cx="473.28" cy="300.47" r="0.5"/><circle cx="477.61" cy="294.39" r="0.5"/><circle cx="466.11" cy="294.62" r="0.5"/><circle cx="468.78" cy="299.81" r="0.5"/><circle cx="474.9" cy="297.26" r="0.5"/><circle cx="467.49" cy="284.93" r="0.5"/><circle cx="453.93" cy="304.09" r="0.5"/><circle cx="460.38" cy="295.96" r="0.5"/><circle cx="454.21" cy="290.62" r="0.5"/><circle cx="477.76" cy="294.52" r="0.5"/><circle cx="480.36" cy="255.66" r="0.5"/><circle cx="473.38" cy="286.04" r="0.5"/><circle cx="469.64" cy="279.62" r="0.5"/><circle cx="480.26" cy="293.65" r="0.5"/><circle cx="469.89" cy="291.76" r="0.5"/><circle cx="466.92" cy="298.72" r="0.5"/><circle cx="480.18" cy="293.88" r="0.5"/><circle cx="466.03" cy="256.42" r="0.5"/><circle cx="455.73" cy="303.39" r="0.5"/><circle cx="473.4" cy="276.55" r="0.5"/><circle cx="452.5" cy="299.85" r="0.5"/><circle cx="452.93" cy="300" r="0.5"/><circle cx="466.53" cy="302.12" r="0.5"/><circle cx="453.21" cy="301.17" r="0.5"/><circle cx="457.21" cy="289.12" r="0.5"/><circle cx="476.54" cy="275.93" r="0.5"/><circle cx="479.67" cy="270.97" r="0.5"/><circle cx="462.75" cy="283.61" r="0.5"/><circle cx="460.72" cy="295.81" r="0.5"/><circle cx="476.43" cy="296.64" r="0.5"/><circle cx="473.76" cy="295.44" r="0.5"/><circle cx="456.27" cy="288.66" r="0.5"/><circle cx="463.01" cy="300.82" r="0.5"/><circle cx="462.86" cy="279.68" r="0.5"/><circle cx="458.38" cy="300" r="0.5"/><circle cx="462.42" cy="294.77" r="0.5"/><circle cx="477.1" cy="263.17" r="0.5"/><circle cx="457.91" cy="299.38" r="0.5"/><circle cx="456.29" cy="293.26" r="0.5"/><circle cx="453.05" cy="296.64" r="0.5"/><circle cx="483.31" cy="287.51" r="0.5"/><circle cx="476.04" cy="267.95" r="0.5"/><circle cx="465.21" cy="296.83" r="0.5"/><circle cx="457.34" cy="291.63" r="0.5"/><circle cx="466.32" cy="292.16" r="0.5"/><circle cx="459.39" cy="301.08" r="0.5"/><circle cx="476.28" cy="275.66" r="0.5"/><circle cx="455.98" cy="298.22" r="0.5"/><circle cx="470.43" cy="288.68" r="0.5"/><circle cx="461.39" cy="298.94" r="0.5"/><circle cx="467.63" cy="296.25" r="0.5"/><circle cx="468.97" cy="270.89" r="0.5"/><circle cx="468.36" cy="292.24" r="0.5"/><circle cx="461.12" cy="286.99" r="0.5"/><circle cx="473.47" cy="300.06" r="0.5"/><circle cx="464.83" cy="302.09" r="0.5"/><circle cx="461.4" cy="299.78" r="0.5"/><circle cx="457.44" cy="294.99" r="0.5"/><circle cx="473.11" cy="301.5" r="0.5"/><circle cx="451.65" cy="303.97" r="0.5"/><circle cx="466.03" cy="283.12" r="0.5"/><circle cx="468.22" cy="301.13" r="0.5"/><circle cx="466.48" cy="300.88" r="0.5"/><circle cx="479.42" cy="296.52" r="0.5"/><circle cx="482.02" cy="290.07" r="0.5"/><circle cx="457.98" cy="287.19" r="0.5"/><circle cx="470.82" cy="295.27" r="0.5"/><circle cx="451.51" cy="301.94" r="0.5"/><circle cx="478.29" cy="263.44" r="0.5"/><circle cx="464.23" cy="303.55" r="0.5"/><circle cx="478.27" cy="280.2" r="0.5"/><circle cx="468.45" cy="295.33" r="0.5"/><circle cx="474.16" cy="262.86" r="0.5"/><circle cx="451.93" cy="303.36" r="0.5"/><circle cx="480.88" cy="255.9" r="0.5"/><circle cx="466.39" cy="260.8" r="0.5"/><circle cx="464.33" cy="302.82" r="0.5"/><circle cx="463.14" cy="295.65" r="0.5"/><circle cx="468.48" cy="300.36" r="0.5"/><circle cx="478.64" cy="280.27" r="0.5"/><circle cx="463.98" cy="295.61" r="0.5"/><circle cx="462.68" cy="296.55" r="0.5"/><circle cx="461.72" cy="298.29" r="0.5"/><circle cx="483.68" cy="252.15" r="0.5"/><circle cx="464.41" cy="302.28" r="0.5"/><circle cx="466.66" cy="277.19" r="0.5"/><circle cx="486.95" cy="269.43" r="0.5"/><circle cx="462.4" cy="303.43" r="0.5"/><circle cx="462.47" cy="296.93" r="0.5"/><circle cx="479.02" cy="291.88" r="0.5"/><circle cx="483.09" cy="288.66" r="0.5"/><circle cx="469.75" cy="300.02" r="0.5"/><circle cx="455.4" cy="296.64" r="0.5"/><circle cx="473.68" cy="278.6" r="0.5"/><circle cx="472.17" cy="300.51" r="0.5"/><circle cx="470.95" cy="293.78" r="0.5"/><circle cx="463.79" cy="298.27" r="0.5"/><circle cx="460.08" cy="291.95" r="0.5"/><circle cx="482.49" cy="292.38" r="0.5"/><circle cx="462.18" cy="285.48" r="0.5"/><circle cx="473.82" cy="286.2" r="0.5"/><circle cx="468.24" cy="297.24" r="0.5"/><circle cx="471.8" cy="297.06" r="0.5"/><circle cx="473.44" cy="296.75" r="0.5"/><circle cx="454.21" cy="298.96" r="0.5"/><circle cx="453.59" cy="298.21" r="0.5"/><circle cx="488.85" cy="271.34" r="0.5"/><circle cx="457.02" cy="295.99" r="0.5"/><circle cx="483.87" cy="270.42" r="0.5"/><circle cx="456.63" cy="300.12" r="0.5"/><circle cx="455.51" cy="293.59" r="0.5"/><circle cx="458.44" cy="300.81" r="0.5"/><circle cx="452.24" cy="302.56" r="0.5"/><circle cx="461.58" cy="289.75" r="0.5"/><circle cx="487.74" cy="265.08" r="0.5"/><circle cx="462.1" cy="286.86" r="0.5"/><circle cx="465.35" cy="281.79" r="0.5"/><circle cx="470.16" cy="271.96" r="0.5"/><circle cx="479" cy="285.77" r="0.5"/><circle cx="479.12" cy="285.2" r="0.5"/><circle cx="454.23" cy="297.9" r="0.5"/><circle cx="477.37" cy="297.25" r="0.5"/><circle cx="454.25" cy="304" r="0.5"/><circle cx="460.73" cy="298.68" r="0.5"/><circle cx="463.57" cy="271.88" r="0.5"/><circle cx="450.24" cy="302.84" r="0.5"/><circle cx="469.36" cy="297.96" r="0.5"/><circle cx="469.16" cy="294.95" r="0.5"/><circle cx="461.63" cy="293.1" r="0.5"/><circle cx="452.8" cy="296.23" r="0.5"/><circle cx="481.49" cy="256.02" r="0.5"/><circle cx="453.16" cy="302.96" r="0.5"/><circle cx="471.08" cy="280.14" r="0.5"/><circle cx="479.36" cy="282.5" r="0.5"/><circle cx="468.69" cy="302.08" r="0.5"/><circle cx="452.74" cy="301.01" r="0.5"/><circle cx="481.75" cy="282.59" r="0.5"/><circle cx="459.23" cy="298.83" r="0.5"/><circle cx="463.59" cy="283.4" r="0.5"/><circle cx="480.6" cy="295.19" r="0.5"/><circle cx="471.84" cy="302.38" r="0.5"/><circle cx="488.89" cy="269.68" r="0.5"/><circle cx="454.28" cy="300.1" r="0.5"/><circle cx="455.66" cy="295.39" r="0.5"/><circle cx="476.05" cy="263.23" r="0.5"/><circle cx="471.54" cy="275.09" r="0.5"/><circle cx="480.95" cy="293.55" r="0.5"/><circle cx="453.81" cy="302.46" r="0.5"/><circle cx="474.9" cy="273.55" r="0.5"/><circle cx="488.81" cy="280.23" r="0.5"/><circle cx="474.43" cy="280.95" r="0.5"/><circle cx="471.5" cy="282.33" r="0.5"/><circle cx="456.82" cy="300.64" r="0.5"/><circle cx="474.82" cy="263.21" r="0.5"/><circle cx="462.33" cy="304.08" r="0.5"/><circle cx="468.2" cy="288.86" r="0.5"/><circle cx="468.75" cy="294.86" r="0.5"/><circle cx="467.78" cy="289.33" r="0.5"/><circle cx="485.23" cy="267.2" r="0.5"/><circle cx="478.63" cy="280.21" r="0.5"/><circle cx="460.57" cy="284.3" r="0.5"/><circle cx="458.69" cy="293.81" r="0.5"/><circle cx="473.45" cy="300.93" r="0.5"/><circle cx="469.95" cy="300.4" r="0.5"/><circle cx="468.74" cy="275.87" r="0.5"/><circle cx="452.16" cy="304.2" r="0.5"/><circle cx="476.67" cy="288.01" r="0.5"/><circle cx="465.85" cy="297.59" r="0.5"/><circle cx="464.47" cy="301.75" r="0.5"/><circle cx="480.72" cy="280.25" r="0.5"/><circle cx="469.34" cy="291.36" r="0.5"/><circle cx="453.66" cy="304.57" r="0.5"/><circle cx="453.31" cy="296.25" r="0.5"/><circle cx="471.24" cy="303.38" r="0.5"/><circle cx="471.89" cy="286.19" r="0.5"/><circle cx="483.64" cy="285.89" r="0.5"/><circle cx="466.24" cy="288.48" r="0.5"/><circle cx="478.39" cy="296.63" r="0.5"/><circle cx="468.12" cy="255.3" r="0.5"/><circle cx="476.09" cy="277.31" r="0.5"/><circle cx="468.47" cy="297.86" r="0.5"/><circle cx="468.71" cy="299.46" r="0.5"/><circle cx="469.63" cy="291.5" r="0.5"/><circle cx="469.47" cy="303.67" r="0.5"/><circle cx="482.4" cy="254.63" r="0.5"/><circle cx="468.37" cy="299.05" r="0.5"/><circle cx="461" cy="302.62" r="0.5"/><circle cx="462.07" cy="297.82" r="0.5"/><circle cx="452.25" cy="299.13" r="0.5"/><circle cx="457.2" cy="295.46" r="0.5"/><circle cx="456.52" cy="301.52" r="0.5"/><circle cx="450.41" cy="302.47" r="0.5"/><circle cx="469.18" cy="303.69" r="0.5"/><circle cx="454.37" cy="295.89" r="0.5"/><circle cx="464.44" cy="295.63" r="0.5"/><circle cx="460.2" cy="303.68" r="0.5"/><circle cx="454.34" cy="304.48" r="0.5"/><circle cx="482.74" cy="284.74" r="0.5"/><circle cx="458.3" cy="301.46" r="0.5"/><circle cx="470.82" cy="257.48" r="0.5"/><circle cx="454.18" cy="302.59" r="0.5"/><circle cx="467.81" cy="272.49" r="0.5"/><circle cx="486.4" cy="287.08" r="0.5"/><circle cx="458.96" cy="289.05" r="0.5"/><circle cx="460.12" cy="294.11" r="0.5"/><circle cx="468.75" cy="294.16" r="0.5"/><circle cx="470.01" cy="285.93" r="0.5"/><circle cx="471.49" cy="277.95" r="0.5"/><circle cx="465.24" cy="301.16" r="0.5"/><circle cx="454.81" cy="299.55" r="0.5"/><circle cx="463.12" cy="296.72" r="0.5"/><circle cx="455.84" cy="304.08" r="0.5"/><circle cx="476.37" cy="252.69" r="0.5"/><circle cx="462.01" cy="297.26" r="0.5"/><circle cx="469.91" cy="285.42" r="0.5"/><circle cx="466.19" cy="296.29" r="0.5"/><circle cx="466.9" cy="299.44" r="0.5"/><circle cx="470.43" cy="295.77" r="0.5"/><circle cx="466.88" cy="297.75" r="0.5"/><circle cx="460.43" cy="301.11" r="0.5"/><circle cx="453.27" cy="293.75" r="0.5"/><circle cx="459.01" cy="302.44" r="0.5"/><circle cx="481.7" cy="281.42" r="0.5"/><circle cx="482.01" cy="274.88" r="0.5"/><circle cx="470.43" cy="250.16" r="0.5"/><circle cx="452.36" cy="301.98" r="0.5"/><circle cx="461.78" cy="279.43" r="0.5"/><circle cx="453.72" cy="298.5" r="0.5"/><circle cx="466.06" cy="266.28" r="0.5"/><circle cx="463.81" cy="300.3" r="0.5"/><circle cx="456.54" cy="285.17" r="0.5"/><circle cx="468.3" cy="290.72" r="0.5"/><circle cx="467.21" cy="291.67" r="0.5"/><circle cx="482.29" cy="279.03" r="0.5"/><circle cx="467.29" cy="273.04" r="0.5"/><circle cx="458.36" cy="303.92" r="0.5"/><circle cx="462.14" cy="304.17" r="0.5"/><circle cx="473.09" cy="294.14" r="0.5"/><circle cx="479.35" cy="275.94" r="0.5"/><circle cx="464.2" cy="285.68" r="0.5"/><circle cx="475.04" cy="283.88" r="0.5"/><circle cx="471.32" cy="300.64" r="0.5"/><circle cx="465.98" cy="294.36" r="0.5"/><circle cx="469.83" cy="301.08" r="0.5"/><circle cx="472.79" cy="294.33" r="0.5"/><circle cx="472.41" cy="275.06" r="0.5"/><circle cx="466.23" cy="290.52" r="0.5"/><circle cx="469.61" cy="300.26" r="0.5"/><circle cx="463.41" cy="264.05" r="0.5"/><circle cx="458.26" cy="304.06" r="0.5"/><circle cx="458.01" cy="303.27" r="0.5"/><circle cx="456.18" cy="297.91" r="0.5"/><circle cx="473.48" cy="280.7" r="0.5"/><circle cx="466.43" cy="263.85" r="0.5"/><circle cx="466.83" cy="296.94" r="0.5"/><circle cx="468.34" cy="280.89" r="0.5"/><circle cx="457.88" cy="301.31" r="0.5"/><circle cx="483.75" cy="291.17" r="0.5"/><circle cx="482.17" cy="287.75" r="0.5"/><circle cx="469.45" cy="275.89" r="0.5"/><circle cx="476.79" cy="293.32" r="0.5"/><circle cx="466.73" cy="284.05" r="0.5"/><circle cx="466.86" cy="301.25" r="0.5"/><circle cx="456.2" cy="299.06" r="0.5"/><circle cx="466.61" cy="299.98" r="0.5"/><circle cx="485.72" cy="287.96" r="0.5"/><circle cx="466.99" cy="290.35" r="0.5"/><circle cx="463.37" cy="270.08" r="0.5"/><circle cx="485.34" cy="290.37" r="0.5"/><circle cx="454.15" cy="298.12" r="0.5"/><circle cx="450.4" cy="302.67" r="0.5"/><circle cx="467.26" cy="283.51" r="0.5"/><circle cx="482.89" cy="277.11" r="0.5"/><circle cx="454.65" cy="304.18" r="0.5"/><circle cx="455.88" cy="299.7" r="0.5"/><circle cx="453.64" cy="304.13" r="0.5"/><circle cx="461.48" cy="297.96" r="0.5"/><circle cx="483.09" cy="292.48" r="0.5"/><circle cx="451.97" cy="302.77" r="0.5"/><circle cx="467.66" cy="267.22" r="0.5"/><circle cx="460.5" cy="292.22" r="0.5"/><circle cx="486.76" cy="268.49" r="0.5"/><circle cx="455.62" cy="291.09" r="0.5"/><circle cx="469.3" cy="297.17" r="0.5"/><circle cx="460.27" cy="291.24" r="0.5"/><circle cx="453.04" cy="296.51" r="0.5"/><circle cx="473.82" cy="296.33" r="0.5"/><circle cx="462.57" cy="296.76" r="0.5"/><circle cx="466.02" cy="301.66" r="0.5"/><circle cx="460.78" cy="295.97" r="0.5"/><circle cx="464.33" cy="280.85" r="0.5"/><circle cx="462.91" cy="303.31" r="0.5"/><circle cx="457.47" cy="283.16" r="0.5"/><circle cx="474.45" cy="297.83" r="0.5"/><circle cx="462.92" cy="293.22" r="0.5"/><circle cx="455.15" cy="302.37" r="0.5"/><circle cx="482.44" cy="290.45" r="0.5"/><circle cx="487.68" cy="287.23" r="0.5"/><circle cx="453.26" cy="296.23" r="0.5"/><circle cx="459.23" cy="297.93" r="0.5"/><circle cx="450.78" cy="303.66" r="0.5"/><circle cx="485.57" cy="265.9" r="0.5"/><circle cx="451.28" cy="302.32" r="0.5"/><circle cx="455.77" cy="301.68" r="0.5"/><circle cx="454.32" cy="300.5" r="0.5"/><circle cx="458.06" cy="304.09" r="0.5"/><circle cx="458.63" cy="280.69" r="0.5"/><circle cx="455.44" cy="293.78" r="0.5"/><circle cx="485.31" cy="279.8" r="0.5"/><circle cx="473.54" cy="271.34" r="0.5"/><circle cx="465.75" cy="302.16" r="0.5"/><circle cx="466.24" cy="303.44" r="0.5"/><circle cx="473.64" cy="298.9" r="0.5"/><circle cx="468.74" cy="299.24" r="0.5"/><circle cx="458.05" cy="293.66" r="0.5"/><circle cx="463.29" cy="293.79" r="0.5"/><circle cx="461.47" cy="301.89" r="0.5"/><circle cx="472.85" cy="292.44" r="0.5"/><circle cx="466.03" cy="297.96" r="0.5"/><circle cx="461.39" cy="301.07" r="0.5"/><circle cx="469.26" cy="300.21" r="0.5"/><circle cx="455.77" cy="301.21" r="0.5"/><circle cx="454.86" cy="303.44" r="0.5"/><circle cx="458.44" cy="292.13" r="0.5"/><circle cx="470.26" cy="302.54" r="0.5"/><circle cx="455.28" cy="298.65" r="0.5"/><circle cx="474.26" cy="296.45" r="0.5"/><circle cx="485.13" cy="282.64" r="0.5"/><circle cx="461.47" cy="291.98" r="0.5"/><circle cx="454.06" cy="293.47" r="0.5"/><circle cx="482.42" cy="286.25" r="0.5"/><circle cx="483.54" cy="265.05" r="0.5"/><circle cx="480.4" cy="287.94" r="0.5"/><circle cx="463.76" cy="299.09" r="0.5"/><circle cx="472.25" cy="301.75" r="0.5"/><circle cx="456.72" cy="293.11" r="0.5"/><circle cx="459.35" cy="289.11" r="0.5"/><circle cx="475.92" cy="274.7" r="0.5"/><circle cx="482.34" cy="289.02" r="0.5"/><circle cx="456.75" cy="298.53" r="0.5"/><circle cx="458.25" cy="291.09" r="0.5"/><circle cx="469.02" cy="285.4" r="0.5"/><circle cx="452.48" cy="301.02" r="0.5"/><circle cx="462.31" cy="301.77" r="0.5"/><circle cx="482.48" cy="265.27" r="0.5"/><circle cx="474.04" cy="274.42" r="0.5"/><circle cx="465.85" cy="278.77" r="0.5"/><circle cx="475.55" cy="297.26" r="0.5"/><circle cx="464.95" cy="299.81" r="0.5"/><circle cx="454.74" cy="291.19" r="0.5"/><circle cx="477.3" cy="291.24" r="0.5"/><circle cx="470.57" cy="269.44" r="0.5"/><circle cx="462.17" cy="267.97" r="0.5"/><circle cx="478.75" cy="266.65" r="0.5"/><circle cx="469.59" cy="277.99" r="0.5"/><circle cx="479.05" cy="290.43" r="0.5"/><circle cx="453.79" cy="300.55" r="0.5"/><circle cx="484.12" cy="282.22" r="0.5"/><circle cx="462.43" cy="300.47" r="0.5"/><circle cx="460.14" cy="293.26" r="0.5"/><circle cx="465.49" cy="274.97" r="0.5"/><circle cx="467.95" cy="280.41" r="0.5"/><circle cx="472.68" cy="302.07" r="0.5"/><circle cx="451.7" cy="302.05" r="0.5"/><circle cx="455.6" cy="304.12" r="0.5"/><circle cx="451.78" cy="304.17" r="0.5"/><circle cx="469" cy="259.31" r="0.5"/><circle cx="481.63" cy="293.43" r="0.5"/><circle cx="464.14" cy="310.28" r="0.5"/><circle cx="468.22" cy="307.67" r="0.5"/><circle cx="475.36" cy="299.64" r="0.5"/><circle cx="465.91" cy="309.47" r="0.5"/><circle cx="471.81" cy="303.01" r="0.5"/><circle cx="475.57" cy="300.11" r="0.5"/><circle cx="473.01" cy="302.4" r="0.5"/><circle cx="469.25" cy="306.08" r="0.5"/><circle cx="466.22" cy="309.59" r="0.5"/><circle cx="487.39" cy="288.32" r="0.5"/><circle cx="475.99" cy="299.23" r="0.5"/><circle cx="483" cy="292.63" r="0.5"/><circle cx="481.84" cy="293.57" r="0.5"/><circle cx="474.68" cy="301" r="0.5"/><circle cx="468.74" cy="306.26" r="0.5"/><circle cx="469.99" cy="304.83" r="0.5"/><circle cx="485.4" cy="289.88" r="0.5"/><circle cx="481.91" cy="292.92" r="0.5"/><circle cx="487.14" cy="288.41" r="0.5"/><circle cx="482.17" cy="292.74" r="0.5"/><circle cx="479.79" cy="296.11" r="0.5"/><circle cx="471.02" cy="303.66" r="0.5"/><circle cx="474.33" cy="301.41" r="0.5"/><circle cx="482.55" cy="292.31" r="0.5"/><circle cx="473.11" cy="302.82" r="0.5"/><circle cx="471" cy="303.67" r="0.5"/><circle cx="486.29" cy="289.76" r="0.5"/><circle cx="475.75" cy="299.9" r="0.5"/><circle cx="483.44" cy="292.57" r="0.5"/><circle cx="469.53" cy="306.06" r="0.5"/><circle cx="487.59" cy="288.44" r="0.5"/><circle cx="477.17" cy="298.07" r="0.5"/><circle cx="489.27" cy="287.09" r="0.5"/><circle cx="484.26" cy="291.29" r="0.5"/><circle cx="486.97" cy="289.17" r="0.5"/><circle cx="476.34" cy="298.5" r="0.5"/><circle cx="478.99" cy="295.91" r="0.5"/><circle cx="472.85" cy="302.56" r="0.5"/><circle cx="477.05" cy="298.56" r="0.5"/><circle cx="485.31" cy="290.91" r="0.5"/><circle cx="472.83" cy="303.15" r="0.5"/><circle cx="472.22" cy="302.86" r="0.5"/><circle cx="483.77" cy="292.45" r="0.5"/><circle cx="477.41" cy="298.43" r="0.5"/><circle cx="484.49" cy="290.78" r="0.5"/><circle cx="480.32" cy="295.78" r="0.5"/><circle cx="464.48" cy="310.11" r="0.5"/><circle cx="486.01" cy="289.66" r="0.5"/><circle cx="475.26" cy="300.53" r="0.5"/><circle cx="474.87" cy="299.95" r="0.5"/><circle cx="473.51" cy="302.2" r="0.5"/><circle cx="480.25" cy="295.2" r="0.5"/><circle cx="465.57" cy="310.33" r="0.5"/><circle cx="466.15" cy="308.71" r="0.5"/><circle cx="484.55" cy="291.64" r="0.5"/><circle cx="481.21" cy="294.09" r="0.5"/><circle cx="483.08" cy="292.68" r="0.5"/><circle cx="479.14" cy="296.72" r="0.5"/><circle cx="478.14" cy="297.33" r="0.5"/><circle cx="471.29" cy="304.4" r="0.5"/><circle cx="466.56" cy="308.03" r="0.5"/><circle cx="479.28" cy="295.49" r="0.5"/><circle cx="485.5" cy="289.61" r="0.5"/><circle cx="475.62" cy="299.39" r="0.5"/><circle cx="476.53" cy="299.03" r="0.5"/><circle cx="469.43" cy="305.88" r="0.5"/><circle cx="487.84" cy="287.25" r="0.5"/><circle cx="469.44" cy="305.36" r="0.5"/><circle cx="466.43" cy="308.04" r="0.5"/><circle cx="488.71" cy="287.59" r="0.5"/><circle cx="466.01" cy="309.66" r="0.5"/><circle cx="478.28" cy="296.7" r="0.5"/><circle cx="485.58" cy="289.42" r="0.5"/><circle cx="480.48" cy="295.24" r="0.5"/><circle cx="481.26" cy="293.83" r="0.5"/><circle cx="468.4" cy="307.01" r="0.5"/><circle cx="471.9" cy="303.55" r="0.5"/><circle cx="481.95" cy="292.85" r="0.5"/><circle cx="483.03" cy="293.19" r="0.5"/><circle cx="474.53" cy="300.92" r="0.5"/><circle cx="473.19" cy="302.69" r="0.5"/><circle cx="469.39" cy="305.26" r="0.5"/><circle cx="476.77" cy="298.53" r="0.5"/><circle cx="478.06" cy="296.92" r="0.5"/><circle cx="487.33" cy="288.31" r="0.5"/><circle cx="474.44" cy="301.27" r="0.5"/><circle cx="466.12" cy="309.68" r="0.5"/><circle cx="484.61" cy="290.57" r="0.5"/><circle cx="474.95" cy="299.72" r="0.5"/><circle cx="497.74" cy="306.76" r="0.5"/><circle cx="490.87" cy="306.73" r="0.5"/><circle cx="486.53" cy="307.39" r="0.5"/><circle cx="499.53" cy="307.05" r="0.5"/><circle cx="486.08" cy="309.55" r="0.5"/><circle cx="471.22" cy="306.89" r="0.5"/><circle cx="473.08" cy="309.11" r="0.5"/><circle cx="491.1" cy="311.55" r="0.5"/><circle cx="482.26" cy="310.8" r="0.5"/><circle cx="470.32" cy="310.2" r="0.5"/><circle cx="483.36" cy="308.29" r="0.5"/><circle cx="494.48" cy="306.91" r="0.5"/></g>
<circle cx="497" cy="276" r="0.55" fill="#d2452c"/>
<circle cx="500" cy="258" r="0.55" fill="#d2452c"/>
<circle cx="503" cy="242" r="0.55" fill="#d2452c"/>
<circle cx="505.5" cy="302" r="0.55" fill="#d2452c"/>
<circle cx="488" cy="308" r="0.55" fill="#d2452c"/>
<circle cx="492" cy="305" r="0.55" fill="#d2452c"/>
<circle cx="480" cy="311.5" r="0.55" fill="#d2452c"/>
<circle cx="476" cy="314" r="0.55" fill="#d2452c"/>
<circle cx="494" cy="263" r="0.55" fill="#d2452c"/>
<circle cx="490" cy="266" r="0.55" fill="#d2452c"/>
<rect x="493" y="205.6" width="8" height="2.6" fill="#fff" stroke="#d2452c" stroke-opacity="0.25" stroke-width="0.3"/>
<rect x="493.8" y="206.4" width="6.4" height="1" fill="#d2452c" fill-opacity="0.32"/>
<rect x="480" y="218.8" width="6.5" height="2.6" fill="#fff" stroke="#d2452c" stroke-opacity="0.25" stroke-width="0.3"/>
<rect x="480.8" y="219.6" width="4.9" height="1" fill="#d2452c" fill-opacity="0.32"/>
<rect x="477.5" y="239.2" width="6.5" height="2.6" fill="#fff" stroke="#d2452c" stroke-opacity="0.25" stroke-width="0.3"/>
<rect x="478.3" y="240" width="4.9" height="1" fill="#d2452c" fill-opacity="0.32"/>
<rect x="487.5" y="244.2" width="9" height="2.6" fill="#fff" stroke="#d2452c" stroke-opacity="0.25" stroke-width="0.3"/>
<rect x="488.3" y="245" width="7.4" height="1" fill="#d2452c" fill-opacity="0.32"/>
<rect x="468" y="245.4" width="6.5" height="2.6" fill="#fff" stroke="#d2452c" stroke-opacity="0.25" stroke-width="0.3"/>
<rect x="468.8" y="246.2" width="4.9" height="1" fill="#d2452c" fill-opacity="0.32"/>
<rect x="478.5" y="247.8" width="6.5" height="2.6" fill="#fff" stroke="#d2452c" stroke-opacity="0.25" stroke-width="0.3"/>
<rect x="479.3" y="248.6" width="4.9" height="1" fill="#d2452c" fill-opacity="0.32"/>
<rect x="460.5" y="249.7" width="7" height="2.6" fill="#fff" stroke="#d2452c" stroke-opacity="0.25" stroke-width="0.3"/>
<rect x="461.3" y="250.5" width="5.4" height="1" fill="#d2452c" fill-opacity="0.32"/>
<rect x="474.5" y="250.2" width="6" height="2.6" fill="#fff" stroke="#d2452c" stroke-opacity="0.25" stroke-width="0.3"/>
<rect x="475.3" y="251" width="4.4" height="1" fill="#d2452c" fill-opacity="0.32"/>
<rect x="457.5" y="254" width="7" height="2.6" fill="#fff" stroke="#d2452c" stroke-opacity="0.25" stroke-width="0.3"/>
<rect x="458.3" y="254.8" width="5.4" height="1" fill="#d2452c" fill-opacity="0.32"/>
<rect x="471.5" y="253.3" width="6" height="2.6" fill="#fff" stroke="#d2452c" stroke-opacity="0.25" stroke-width="0.3"/>
<rect x="472.3" y="254.1" width="4.4" height="1" fill="#d2452c" fill-opacity="0.32"/>
<rect x="455" y="258" width="7.5" height="2.6" fill="#fff" stroke="#d2452c" stroke-opacity="0.25" stroke-width="0.3"/>
<rect x="455.8" y="258.8" width="5.9" height="1" fill="#d2452c" fill-opacity="0.32"/>
<rect x="468" y="256.5" width="6.5" height="2.6" fill="#fff" stroke="#d2452c" stroke-opacity="0.25" stroke-width="0.3"/>
<rect x="468.8" y="257.3" width="4.9" height="1" fill="#d2452c" fill-opacity="0.32"/>
<rect x="452.5" y="262.8" width="8" height="2.6" fill="#fff" stroke="#d2452c" stroke-opacity="0.25" stroke-width="0.3"/>
<rect x="453.3" y="263.6" width="6.4" height="1" fill="#d2452c" fill-opacity="0.32"/>
<rect x="466" y="260.5" width="6" height="2.6" fill="#fff" stroke="#d2452c" stroke-opacity="0.25" stroke-width="0.3"/>
<rect x="466.8" y="261.3" width="4.4" height="1" fill="#d2452c" fill-opacity="0.32"/>
<rect x="478.5" y="259.4" width="7" height="2.6" fill="#fff" stroke="#d2452c" stroke-opacity="0.25" stroke-width="0.3"/>
<rect x="479.3" y="260.2" width="5.4" height="1" fill="#d2452c" fill-opacity="0.32"/>
<rect x="463.5" y="264.8" width="7" height="2.6" fill="#fff" stroke="#d2452c" stroke-opacity="0.25" stroke-width="0.3"/>
<rect x="464.3" y="265.6" width="5.4" height="1" fill="#d2452c" fill-opacity="0.32"/>
<rect x="481.5" y="265.2" width="7" height="2.6" fill="#fff" stroke="#d2452c" stroke-opacity="0.25" stroke-width="0.3"/>
<rect x="482.3" y="266" width="5.4" height="1" fill="#d2452c" fill-opacity="0.32"/>
<rect x="456.5" y="269.5" width="7" height="2.6" fill="#fff" stroke="#d2452c" stroke-opacity="0.25" stroke-width="0.3"/>
<rect x="457.3" y="270.3" width="5.4" height="1" fill="#d2452c" fill-opacity="0.32"/>
<rect x="473.5" y="267.5" width="7" height="2.6" fill="#fff" stroke="#d2452c" stroke-opacity="0.25" stroke-width="0.3"/>
<rect x="474.3" y="268.3" width="5.4" height="1" fill="#d2452c" fill-opacity="0.32"/>
<rect x="465.5" y="270.6" width="6.5" height="2.6" fill="#fff" stroke="#d2452c" stroke-opacity="0.25" stroke-width="0.3"/>
<rect x="466.3" y="271.4" width="4.9" height="1" fill="#d2452c" fill-opacity="0.32"/>
<line x1="408.8" y1="203.5" x2="408.8" y2="317.4" stroke="#000" stroke-width="1.3"/>
<line x1="408.2" y1="316.8" x2="510.3" y2="316.8" stroke="#000" stroke-width="1.3"/>
<line x1="406.8" y1="206.3" x2="408.8" y2="206.3" stroke="#555" stroke-width="0.5"/>
<line x1="406.8" y1="232.8" x2="408.8" y2="232.8" stroke="#555" stroke-width="0.5"/>
<line x1="406.8" y1="259.2" x2="408.8" y2="259.2" stroke="#555" stroke-width="0.5"/>
<line x1="406.8" y1="285.7" x2="408.8" y2="285.7" stroke="#555" stroke-width="0.5"/>
<line x1="406.8" y1="311.1" x2="408.8" y2="311.1" stroke="#555" stroke-width="0.5"/>
<line x1="414.7" y1="316.8" x2="414.7" y2="318.6" stroke="#555" stroke-width="0.5"/>
<line x1="505.6" y1="316.8" x2="505.6" y2="318.6" stroke="#555" stroke-width="0.5"/>
<text x="391.2" y="257.8" font-size="9.4" text-anchor="middle" fill="#333" textLength="66.2" lengthAdjust="spacingAndGlyphs" transform="rotate(-90 391.2 257.8)" stroke="#333" stroke-width="0.08">- Log10 (adjusted p-</text>
<text x="401.6" y="257.8" font-size="9.4" text-anchor="middle" fill="#333" textLength="21" lengthAdjust="spacingAndGlyphs" transform="rotate(-90 401.6 257.8)" stroke="#333" stroke-width="0.08">value)</text>
<text x="430.4" y="330.8" font-size="9.7" fill="#3a3a3a" textLength="60.8" lengthAdjust="spacingAndGlyphs" stroke="#3a3a3a" stroke-width="0.08">Log2 Fold Change</text>
<text x="5.8" y="357.2" font-size="11.6" font-weight="bold" fill="#000">G</text>
<rect x="146" y="361.8" width="20.3" height="8.1" fill="#c9303a"/>
<rect x="166" y="361.8" width="19.95" height="8.1" fill="#d9574b"/>
<line x1="141.2" y1="365.83" x2="144.5" y2="365.83" stroke="#111" stroke-width="1"/>
<text x="137.5" y="368.13" font-size="7.6" text-anchor="end" fill="#111" stroke="#111" stroke-width="0.11">Epithelial-mesenchymal transition</text>
<rect x="146" y="369.85" width="20.3" height="8.1" fill="#d5503f"/>
<rect x="166" y="369.85" width="19.95" height="8.1" fill="#e57e62"/>
<line x1="141.2" y1="373.88" x2="144.5" y2="373.88" stroke="#111" stroke-width="1"/>
<text x="137.5" y="376.18" font-size="7.6" text-anchor="end" fill="#111" stroke="#111" stroke-width="0.11">UV response</text>
<rect x="146" y="377.9" width="20.3" height="8.1" fill="#e06a52"/>
<rect x="166" y="377.9" width="19.95" height="8.1" fill="#e88568"/>
<line x1="141.2" y1="381.93" x2="144.5" y2="381.93" stroke="#111" stroke-width="1"/>
<text x="137.5" y="384.23" font-size="7.6" text-anchor="end" fill="#111" stroke="#111" stroke-width="0.11">Apical junction</text>
<rect x="146" y="385.95" width="20.3" height="8.1" fill="#dc5c48"/>
<rect x="166" y="385.95" width="19.95" height="8.1" fill="#ea8d6e"/>
<line x1="141.2" y1="389.98" x2="144.5" y2="389.98" stroke="#111" stroke-width="1"/>
<text x="137.5" y="392.28" font-size="7.6" text-anchor="end" fill="#111" stroke="#111" stroke-width="0.11">Angiogenesis</text>
<rect x="146" y="394.01" width="20.3" height="8.1" fill="#e27459"/>
<rect x="166" y="394.01" width="19.95" height="8.1" fill="#e98b6c"/>
<line x1="141.2" y1="398.03" x2="144.5" y2="398.03" stroke="#111" stroke-width="1"/>
<text x="137.5" y="400.33" font-size="7.6" text-anchor="end" fill="#111" stroke="#111" stroke-width="0.11">Coagulation</text>
<rect x="146" y="402.06" width="20.3" height="8.1" fill="#dc5e4a"/>
<rect x="166" y="402.06" width="19.95" height="8.1" fill="#ee9d7c"/>
<line x1="141.2" y1="406.08" x2="144.5" y2="406.08" stroke="#111" stroke-width="1"/>
<text x="137.5" y="408.38" font-size="7.6" text-anchor="end" fill="#111" stroke="#111" stroke-width="0.11">Myogenesis</text>
<rect x="146" y="410.11" width="20.3" height="8.1" fill="#e5785c"/>
<rect x="166" y="410.11" width="19.95" height="8.1" fill="#e57a5e"/>
<line x1="141.2" y1="414.13" x2="144.5" y2="414.13" stroke="#111" stroke-width="1"/>
<text x="137.5" y="416.43" font-size="7.6" text-anchor="end" fill="#111" stroke="#111" stroke-width="0.11">Hedgehog signaling</text>
<rect x="146" y="418.16" width="20.3" height="8.1" fill="#e57b5f"/>
<rect x="166" y="418.16" width="19.95" height="8.1" fill="#e88669"/>
<line x1="141.2" y1="422.19" x2="144.5" y2="422.19" stroke="#111" stroke-width="1"/>
<text x="137.5" y="424.49" font-size="7.6" text-anchor="end" fill="#111" stroke="#111" stroke-width="0.11">Estrogen response early</text>
<rect x="146" y="426.21" width="20.3" height="8.1" fill="#e37559"/>
<rect x="166" y="426.21" width="19.95" height="8.1" fill="#eb8e70"/>
<line x1="141.2" y1="430.24" x2="144.5" y2="430.24" stroke="#111" stroke-width="1"/>
<text x="137.5" y="432.54" font-size="7.6" text-anchor="end" fill="#111" stroke="#111" stroke-width="0.11">KRAS signaling up</text>
<rect x="146" y="434.26" width="20.3" height="8.1" fill="#e5795d"/>
<rect x="166" y="434.26" width="19.95" height="8.1" fill="#ee9b7a"/>
<line x1="141.2" y1="438.29" x2="144.5" y2="438.29" stroke="#111" stroke-width="1"/>
<text x="137.5" y="440.59" font-size="7.6" text-anchor="end" fill="#111" stroke="#111" stroke-width="0.11">Estrogen response late</text>
<rect x="146" y="442.32" width="20.3" height="8.1" fill="#e5795d"/>
<rect x="166" y="442.32" width="19.95" height="8.1" fill="#ef9f7e"/>
<line x1="141.2" y1="446.34" x2="144.5" y2="446.34" stroke="#111" stroke-width="1"/>
<text x="137.5" y="448.64" font-size="7.6" text-anchor="end" fill="#111" stroke="#111" stroke-width="0.11">Hypoxia</text>
<rect x="146" y="450.37" width="20.3" height="8.1" fill="#f3ad8d"/>
<rect x="166" y="450.37" width="19.95" height="8.1" fill="#e5795d"/>
<line x1="141.2" y1="454.39" x2="144.5" y2="454.39" stroke="#111" stroke-width="1"/>
<text x="137.5" y="456.69" font-size="7.6" text-anchor="end" fill="#111" stroke="#111" stroke-width="0.11">Inflammatory response</text>
<rect x="146" y="458.42" width="20.3" height="8.1" fill="#f2a888"/>
<rect x="166" y="458.42" width="19.95" height="8.1" fill="#f0a282"/>
<line x1="141.2" y1="462.44" x2="144.5" y2="462.44" stroke="#111" stroke-width="1"/>
<text x="137.5" y="464.74" font-size="7.6" text-anchor="end" fill="#111" stroke="#111" stroke-width="0.11">KRAS signaling dn</text>
<rect x="146" y="466.47" width="20.3" height="8.1" fill="#f2a484"/>
<rect x="166" y="466.47" width="19.95" height="8.1" fill="#f1a585"/>
<line x1="141.2" y1="470.5" x2="144.5" y2="470.5" stroke="#111" stroke-width="1"/>
<text x="137.5" y="472.8" font-size="7.6" text-anchor="end" fill="#111" stroke="#111" stroke-width="0.11">Glycolysis</text>
<rect x="146" y="474.52" width="20.3" height="8.1" fill="#e47558"/>
<rect x="166" y="474.52" width="19.95" height="8.1" fill="#bebebe"/>
<line x1="141.2" y1="478.55" x2="144.5" y2="478.55" stroke="#111" stroke-width="1"/>
<text x="137.5" y="480.85" font-size="7.6" text-anchor="end" fill="#111" stroke="#111" stroke-width="0.11">Apical surface</text>
<rect x="146" y="482.57" width="20.3" height="8.1" fill="#bebebe"/>
<rect x="166" y="482.57" width="19.95" height="8.1" fill="#e5795d"/>
<line x1="141.2" y1="486.6" x2="144.5" y2="486.6" stroke="#111" stroke-width="1"/>
<text x="137.5" y="488.9" font-size="7.6" text-anchor="end" fill="#111" stroke="#111" stroke-width="0.11">Unfolded protein response</text>
<rect x="146" y="490.62" width="20.3" height="8.1" fill="#ec8c6e"/>
<rect x="166" y="490.62" width="19.95" height="8.1" fill="#bebebe"/>
<line x1="141.2" y1="494.65" x2="144.5" y2="494.65" stroke="#111" stroke-width="1"/>
<text x="137.5" y="496.95" font-size="7.6" text-anchor="end" fill="#111" stroke="#111" stroke-width="0.11">NOTCH signaling</text>
<rect x="146" y="498.68" width="20.3" height="8.1" fill="#ec8c6e"/>
<rect x="166" y="498.68" width="19.95" height="8.1" fill="#bebebe"/>
<line x1="141.2" y1="502.7" x2="144.5" y2="502.7" stroke="#111" stroke-width="1"/>
<text x="137.5" y="505" font-size="7.6" text-anchor="end" fill="#111" stroke="#111" stroke-width="0.11">Adipogenesis</text>
<rect x="146" y="506.73" width="20.3" height="8.1" fill="#bebebe"/>
<rect x="166" y="506.73" width="19.95" height="8.1" fill="#ed8e6f"/>
<line x1="141.2" y1="510.75" x2="144.5" y2="510.75" stroke="#111" stroke-width="1"/>
<text x="137.5" y="513.05" font-size="7.6" text-anchor="end" fill="#111" stroke="#111" stroke-width="0.11">IL-2/STAT5 signaling</text>
<rect x="146" y="514.78" width="20.3" height="8.1" fill="#f09a7b"/>
<rect x="166" y="514.78" width="19.95" height="8.1" fill="#bebebe"/>
<line x1="141.2" y1="518.8" x2="144.5" y2="518.8" stroke="#111" stroke-width="1"/>
<text x="137.5" y="521.1" font-size="7.6" text-anchor="end" fill="#111" stroke="#111" stroke-width="0.11">Xenobiotic metabolism</text>
<rect x="146" y="522.83" width="20.3" height="8.1" fill="#f1a080"/>
<rect x="166" y="522.83" width="19.95" height="8.1" fill="#bebebe"/>
<line x1="141.2" y1="526.86" x2="144.5" y2="526.86" stroke="#111" stroke-width="1"/>
<text x="137.5" y="529.16" font-size="7.6" text-anchor="end" fill="#111" stroke="#111" stroke-width="0.11">Androgen response</text>
<rect x="146" y="530.88" width="20.3" height="8.1" fill="#f09c7c"/>
<rect x="166" y="530.88" width="19.95" height="8.1" fill="#bebebe"/>
<line x1="141.2" y1="534.91" x2="144.5" y2="534.91" stroke="#111" stroke-width="1"/>
<text x="137.5" y="537.21" font-size="7.6" text-anchor="end" fill="#111" stroke="#111" stroke-width="0.11">Fatty acid metabolism</text>
<rect x="146" y="538.93" width="20.3" height="8.1" fill="#f09c7c"/>
<rect x="166" y="538.93" width="19.95" height="8.1" fill="#bebebe"/>
<line x1="141.2" y1="542.96" x2="144.5" y2="542.96" stroke="#111" stroke-width="1"/>
<text x="137.5" y="545.26" font-size="7.6" text-anchor="end" fill="#111" stroke="#111" stroke-width="0.11">Bile acid metabolism</text>
<rect x="146" y="546.98" width="20.3" height="8.1" fill="#bebebe"/>
<rect x="166" y="546.98" width="19.95" height="8.1" fill="#f3a484"/>
<line x1="141.2" y1="551.01" x2="144.5" y2="551.01" stroke="#111" stroke-width="1"/>
<text x="137.5" y="553.31" font-size="7.6" text-anchor="end" fill="#111" stroke="#111" stroke-width="0.11">IL-6/JAK/STAT3 signaling</text>
<rect x="146" y="555.04" width="20.3" height="8.1" fill="#bebebe"/>
<rect x="166" y="555.04" width="19.95" height="8.1" fill="#f4ac8d"/>
<line x1="141.2" y1="559.06" x2="144.5" y2="559.06" stroke="#111" stroke-width="1"/>
<text x="137.5" y="561.36" font-size="7.6" text-anchor="end" fill="#111" stroke="#111" stroke-width="0.11">mTOR signaling</text>
<rect x="146" y="563.09" width="20.3" height="8.1" fill="#bebebe"/>
<rect x="166" y="563.09" width="19.95" height="8.1" fill="#f5b293"/>
<line x1="141.2" y1="567.11" x2="144.5" y2="567.11" stroke="#111" stroke-width="1"/>
<text x="137.5" y="569.41" font-size="7.6" text-anchor="end" fill="#111" stroke="#111" stroke-width="0.11">Complement</text>
<rect x="146" y="571.14" width="20.3" height="8.1" fill="#94c4df"/>
<rect x="166" y="571.14" width="19.95" height="8.1" fill="#de6550"/>
<line x1="141.2" y1="575.17" x2="144.5" y2="575.17" stroke="#111" stroke-width="1"/>
<text x="137.5" y="577.47" font-size="7.6" text-anchor="end" fill="#111" stroke="#111" stroke-width="0.11">MYC targets V1</text>
<rect x="146" y="579.19" width="20.3" height="8.1" fill="#8cbedc"/>
<rect x="166" y="579.19" width="19.95" height="8.1" fill="#e06e57"/>
<line x1="141.2" y1="583.22" x2="144.5" y2="583.22" stroke="#111" stroke-width="1"/>
<text x="137.5" y="585.52" font-size="7.6" text-anchor="end" fill="#111" stroke="#111" stroke-width="0.11">Interpheron alpha response</text>
<rect x="146" y="587.24" width="20.3" height="8.1" fill="#82b8d9"/>
<rect x="166" y="587.24" width="19.95" height="8.1" fill="#dd6350"/>
<line x1="141.2" y1="591.27" x2="144.5" y2="591.27" stroke="#111" stroke-width="1"/>
<text x="137.5" y="593.57" font-size="7.6" text-anchor="end" fill="#111" stroke="#111" stroke-width="0.11">MYC targets V2</text>
<rect x="146" y="595.29" width="20.3" height="8.1" fill="#96c6e0"/>
<rect x="166" y="595.29" width="19.95" height="8.1" fill="#f4aa8b"/>
<line x1="141.2" y1="599.32" x2="144.5" y2="599.32" stroke="#111" stroke-width="1"/>
<text x="137.5" y="601.62" font-size="7.6" text-anchor="end" fill="#111" stroke="#111" stroke-width="0.11">Interferon gamma response</text>
<rect x="146" y="603.35" width="20.3" height="8.1" fill="#9ccae2"/>
<rect x="166" y="603.35" width="19.95" height="8.1" fill="#bebebe"/>
<line x1="141.2" y1="607.37" x2="144.5" y2="607.37" stroke="#111" stroke-width="1"/>
<text x="137.5" y="609.67" font-size="7.6" text-anchor="end" fill="#111" stroke="#111" stroke-width="0.11">Heme metabolism</text>
<rect x="146" y="611.4" width="20.3" height="8.1" fill="#80b6d8"/>
<rect x="166" y="611.4" width="19.95" height="8.1" fill="#bebebe"/>
<line x1="141.2" y1="615.42" x2="144.5" y2="615.42" stroke="#111" stroke-width="1"/>
<text x="137.5" y="617.72" font-size="7.6" text-anchor="end" fill="#111" stroke="#111" stroke-width="0.11">TNFA signaling via NFKB</text>
<rect x="146" y="619.45" width="20.3" height="8.1" fill="#7ab2d6"/>
<rect x="166" y="619.45" width="19.95" height="8.1" fill="#bebebe"/>
<line x1="141.2" y1="623.47" x2="144.5" y2="623.47" stroke="#111" stroke-width="1"/>
<text x="137.5" y="625.77" font-size="7.6" text-anchor="end" fill="#111" stroke="#111" stroke-width="0.11">Allograft rejection</text>
<line x1="146" y1="369.85" x2="185.95" y2="369.85" stroke="#f4f4f4" stroke-width="0.3"/>
<line x1="146" y1="377.9" x2="185.95" y2="377.9" stroke="#f4f4f4" stroke-width="0.3"/>
<line x1="146" y1="385.95" x2="185.95" y2="385.95" stroke="#f4f4f4" stroke-width="0.3"/>
<line x1="146" y1="394.01" x2="185.95" y2="394.01" stroke="#f4f4f4" stroke-width="0.3"/>
<line x1="146" y1="402.06" x2="185.95" y2="402.06" stroke="#f4f4f4" stroke-width="0.3"/>
<line x1="146" y1="410.11" x2="185.95" y2="410.11" stroke="#f4f4f4" stroke-width="0.3"/>
<line x1="146" y1="418.16" x2="185.95" y2="418.16" stroke="#f4f4f4" stroke-width="0.3"/>
<line x1="146" y1="426.21" x2="185.95" y2="426.21" stroke="#f4f4f4" stroke-width="0.3"/>
<line x1="146" y1="434.26" x2="185.95" y2="434.26" stroke="#f4f4f4" stroke-width="0.3"/>
<line x1="146" y1="442.32" x2="185.95" y2="442.32" stroke="#f4f4f4" stroke-width="0.3"/>
<line x1="146" y1="450.37" x2="185.95" y2="450.37" stroke="#f4f4f4" stroke-width="0.3"/>
<line x1="146" y1="458.42" x2="185.95" y2="458.42" stroke="#f4f4f4" stroke-width="0.3"/>
<line x1="146" y1="466.47" x2="185.95" y2="466.47" stroke="#f4f4f4" stroke-width="0.3"/>
<line x1="146" y1="474.52" x2="185.95" y2="474.52" stroke="#f4f4f4" stroke-width="0.3"/>
<line x1="146" y1="482.57" x2="185.95" y2="482.57" stroke="#f4f4f4" stroke-width="0.3"/>
<line x1="146" y1="490.62" x2="185.95" y2="490.62" stroke="#f4f4f4" stroke-width="0.3"/>
<line x1="146" y1="498.68" x2="185.95" y2="498.68" stroke="#f4f4f4" stroke-width="0.3"/>
<line x1="146" y1="506.73" x2="185.95" y2="506.73" stroke="#f4f4f4" stroke-width="0.3"/>
<line x1="146" y1="514.78" x2="185.95" y2="514.78" stroke="#f4f4f4" stroke-width="0.3"/>
<line x1="146" y1="522.83" x2="185.95" y2="522.83" stroke="#f4f4f4" stroke-width="0.3"/>
<line x1="146" y1="530.88" x2="185.95" y2="530.88" stroke="#f4f4f4" stroke-width="0.3"/>
<line x1="146" y1="538.93" x2="185.95" y2="538.93" stroke="#f4f4f4" stroke-width="0.3"/>
<line x1="146" y1="546.98" x2="185.95" y2="546.98" stroke="#f4f4f4" stroke-width="0.3"/>
<line x1="146" y1="555.04" x2="185.95" y2="555.04" stroke="#f4f4f4" stroke-width="0.3"/>
<line x1="146" y1="563.09" x2="185.95" y2="563.09" stroke="#f4f4f4" stroke-width="0.3"/>
<line x1="146" y1="571.14" x2="185.95" y2="571.14" stroke="#f4f4f4" stroke-width="0.3"/>
<line x1="146" y1="579.19" x2="185.95" y2="579.19" stroke="#f4f4f4" stroke-width="0.3"/>
<line x1="146" y1="587.24" x2="185.95" y2="587.24" stroke="#f4f4f4" stroke-width="0.3"/>
<line x1="146" y1="595.29" x2="185.95" y2="595.29" stroke="#f4f4f4" stroke-width="0.3"/>
<line x1="146" y1="603.35" x2="185.95" y2="603.35" stroke="#f4f4f4" stroke-width="0.3"/>
<line x1="146" y1="611.4" x2="185.95" y2="611.4" stroke="#f4f4f4" stroke-width="0.3"/>
<line x1="146" y1="619.45" x2="185.95" y2="619.45" stroke="#f4f4f4" stroke-width="0.3"/>
<rect x="144.5" y="360.9" width="43.3" height="267.7" fill="none" stroke="#111" stroke-width="1.5"/>
<line x1="156" y1="629.3" x2="156" y2="632" stroke="#111" stroke-width="1"/>
<line x1="176.2" y1="629.3" x2="176.2" y2="632" stroke="#111" stroke-width="1"/>
<text x="160.4" y="637.8" font-size="9" text-anchor="end" fill="#111" textLength="58.3" lengthAdjust="spacingAndGlyphs" transform="rotate(-45 160.4 637.8)" stroke="#111" stroke-width="0.15">Lesion - PBMC</text>
<text x="179" y="637.8" font-size="9" text-anchor="end" fill="#111" textLength="42.4" lengthAdjust="spacingAndGlyphs" transform="rotate(-45 179 637.8)" stroke="#111" stroke-width="0.15">VE - CTRL</text>
<defs><linearGradient id="gN" x1="0" y1="0" x2="0" y2="1"><stop offset="0" stop-color="#67001f"/><stop offset="0.18" stop-color="#b2182b"/><stop offset="0.33" stop-color="#d6604d"/><stop offset="0.5" stop-color="#f7f7f7"/><stop offset="0.55" stop-color="#eef3f8"/><stop offset="0.67" stop-color="#92c5de"/><stop offset="0.83" stop-color="#4393c3"/><stop offset="1" stop-color="#053061"/></linearGradient></defs>
<rect x="199.6" y="478.7" width="9.5" height="44.4" fill="url(#gN)"/>
<text x="199.8" y="474.6" font-size="8.6" fill="#111" textLength="16.3" lengthAdjust="spacingAndGlyphs" stroke="#111" stroke-width="0.14">NES</text>
<text x="212.3" y="491.6" font-size="8.2" fill="#111" stroke="#111" stroke-width="0.12">2</text>
<text x="212.3" y="504.1" font-size="8.2" fill="#111" stroke="#111" stroke-width="0.12">0</text>
<text x="210" y="516.1" font-size="8.2" fill="#111" stroke="#111" stroke-width="0.12">-2</text>
<text x="230.4" y="356.9" font-size="11.6" font-weight="bold" fill="#000">H</text>
<text x="259" y="373.6" font-size="8.4" fill="#111" textLength="48" lengthAdjust="spacingAndGlyphs" stroke="#111" stroke-width="0.13">BRaf_VE_UP</text>
<line x1="259.2" y1="378.1" x2="259.2" y2="500.8" stroke="#000" stroke-width="1.1"/>
<line x1="256.3" y1="387.2" x2="259.2" y2="387.2" stroke="#000" stroke-width="0.9"/>
<text x="253.3" y="389.9" font-size="8.7" text-anchor="end" fill="#000" textLength="11.49" lengthAdjust="spacingAndGlyphs" stroke="#000" stroke-width="0.14">0.6</text>
<line x1="256.3" y1="420.7" x2="259.2" y2="420.7" stroke="#000" stroke-width="0.9"/>
<text x="253.3" y="423.4" font-size="8.7" text-anchor="end" fill="#000" textLength="11.49" lengthAdjust="spacingAndGlyphs" stroke="#000" stroke-width="0.14">0.4</text>
<line x1="256.3" y1="454.3" x2="259.2" y2="454.3" stroke="#000" stroke-width="0.9"/>
<text x="253.3" y="457" font-size="8.7" text-anchor="end" fill="#000" textLength="11.49" lengthAdjust="spacingAndGlyphs" stroke="#000" stroke-width="0.14">0.2</text>
<line x1="256.3" y1="488.2" x2="259.2" y2="488.2" stroke="#000" stroke-width="0.9"/>
<text x="253.3" y="490.9" font-size="8.7" text-anchor="end" fill="#000" textLength="11.49" lengthAdjust="spacingAndGlyphs" stroke="#000" stroke-width="0.14">0.0</text>
<text x="237.9" y="436.1" font-size="9.2" text-anchor="middle" fill="#222" textLength="88.4" lengthAdjust="spacingAndGlyphs" transform="rotate(-90 237.9 436.1)" stroke="#222" stroke-width="0.15">Running Enrichment Score</text>
<path d="M259.4 486.5 L260.2 481.3 L261.1 465.6 L262 448.2 L262.8 439.5 L263.4 432.5 L264.1 426.4 L265.1 425.5 L265.8 421.2 L266.9 419.4 L267.2 411.6 L268.1 408.51 L268.9 403.55 L269.8 401.59 L270.7 399.92 L271.55 399.47 L272.4 398.76 L273.3 398.41 L274.2 397.71 L275.05 396.45 L275.9 395.16 L276.8 393.47 L277.7 391.39 L278.57 390.51 L279.43 389.59 L280.3 388.98 L281.15 388.39 L282 387.6 L282.87 386.99 L283.73 386.39 L284.6 385.73 L285.47 385.34 L286.33 385.1 L287.2 385.35 L288.1 384.8 L289 384.3 L289.9 384.23 L290.77 384.37 L291.63 384.55 L292.5 384.43 L293.38 383.95 L294.25 383.87 L295.12 383.61 L296 383.74 L296.87 384.9 L297.73 385.53 L298.6 385.69 L299.48 386.66 L300.35 387.39 L301.23 388 L302.1 388.75 L302.95 389.38 L303.8 390.04 L304.65 390.3 L305.5 391.28 L306.4 392.03 L307.3 391.99 L308.2 392.72 L309.06 393.31 L309.92 393.64 L310.78 394.11 L311.64 394.56 L312.5 395.43 L313.38 395.83 L314.25 396.6 L315.12 396.87 L316 397.73 L316.88 398.76 L317.76 399.32 L318.64 400.08 L319.52 401.2 L320.4 402.02 L321.26 402.36 L322.12 402.55 L322.98 402.98 L323.84 403.8 L324.7 404.04 L325.57 405.11 L326.45 405.42 L327.32 406.42 L328.2 406.72 L329.07 407.92 L329.95 408.74 L330.82 409.37 L331.7 410.08 L332.52 410.79 L333.35 411.42 L334.18 411.82 L335 412.22 L335.95 413.17 L336.9 414.45 L337.85 415.26 L338.8 415.59 L339.69 416.71 L340.57 417.59 L341.46 418.58 L342.34 418.82 L343.23 419.77 L344.11 420.01 L345 420.99 L345.88 421.6 L346.75 422.25 L347.62 423.55 L348.5 423.96 L349.38 424.91 L350.25 426.1 L351.12 426.59 L352 427.18 L352.84 428.36 L353.68 428.94 L354.52 429.84 L355.36 430.04 L356.2 430.75 L357.04 431.28 L357.88 432.34 L358.72 432.73 L359.56 434.03 L360.4 434.25 L361.3 435.2 L362.2 435.37 L363.1 435.92 L364 436.99 L364.9 437.73 L365.8 438.61 L366.7 440.01 L367.6 440.99 L368.5 441.69 L369.31 443 L370.12 443.29 L370.94 443.63 L371.75 444.38 L372.56 445.33 L373.38 446.28 L374.19 446.56 L375 447.18 L375.86 447.6 L376.71 448.52 L377.57 449.63 L378.43 450.57 L379.29 451.56 L380.14 452.31 L381 453.14 L381.9 453.9 L382.8 454.47 L383.7 454.93 L384.6 455.92 L385.5 456.54 L386.4 457.05 L387.3 458 L388.14 458.98 L388.98 459.11 L389.81 459.81 L390.65 460.26 L391.49 460.86 L392.32 461.09 L393.16 462.17 L394 462.4 L394.85 463.16 L395.7 463.7 L396.55 463.91 L397.4 464.77 L398.25 465.17 L399.1 465.58 L399.95 466.05 L400.8 466.7 L401.69 467.37 L402.57 468.54 L403.46 469.42 L404.34 470.66 L405.23 471.64 L406.11 472.57 L407 472.73 L407.9 473.4 L408.8 473.95 L409.7 474.92 L410.6 475.85 L411.5 476.89 L412.4 477.76 L413.3 478.2 L414.2 478.94 L415.03 479.56 L415.86 479.69 L416.69 480.02 L417.51 480.79 L418.34 481.21 L419.17 482.24 L420 482.65 L420.88 483.06 L421.75 483.62 L422.62 484.26 L423.5 484.87 L424.38 485.77 L425.25 486.5 L426.12 487.06 L427 487.94 L427.87 488.35 L428.74 489.47 L429.61 490.46 L430.49 491.1 L431.36 491.47 L432.23 492.02 L433.1 492.67 L434.07 492.3 L435.03 492.45 L436 492.67 L437 492.67 L438 492.68 L439 493.42 L439.88 493.56 L440.75 493.87 L441.62 494.5 L442.5 494.7 L443.4 493.79 L444.3 493.2 L445.5 490.5 L446.4 489 L447.4 485" fill="none" stroke="#2db34a" stroke-width="1.2" stroke-linejoin="round"/>
<rect x="259.4" y="500.8" width="4.3" height="31" fill="#111"/>
<rect x="263.7" y="500.8" width="1.3" height="31" fill="#3a3a3a"/>
<rect x="265" y="500.8" width="1.2" height="31" fill="#8a8a8a"/>
<rect x="266.2" y="500.8" width="1.8" height="31" fill="#4a4a4a"/>
<rect x="268" y="500.8" width="2.6" height="31" fill="#262626"/>
<rect x="270.6" y="500.8" width="2.2" height="31" fill="#3a3a3a"/>
<rect x="272.8" y="500.8" width="1.2" height="31" fill="#8a8a8a"/>
<rect x="274" y="500.8" width="3.4" height="31" fill="#222"/>
<rect x="277.4" y="500.8" width="1.6" height="31" fill="#777"/>
<rect x="279" y="500.8" width="2" height="31" fill="#404040"/>
<rect x="281" y="500.8" width="2" height="31" fill="#666"/>
<rect x="283" y="500.8" width="2" height="31" fill="#2a2a2a"/>
<rect x="285" y="500.8" width="2" height="31" fill="#555"/>
<rect x="287" y="500.8" width="1.5" height="31" fill="#9a9a9a"/>
<rect x="288.5" y="500.8" width="1.5" height="31" fill="#3a3a3a"/>
<rect x="290" y="500.8" width="1" height="31" fill="#999"/>
<rect x="291" y="500.8" width="2.8" height="31" fill="#bbb"/>
<rect x="296.5" y="500.8" width="0.9" height="31" fill="#ddd"/>
<rect x="299" y="500.8" width="1.4" height="31" fill="#c8c8c8"/>
<rect x="300.4" y="500.8" width="1" height="31" fill="#333"/>
<rect x="303.4" y="500.8" width="0.9" height="31" fill="#c8c8c8"/>
<rect x="304.6" y="500.8" width="2.8" height="31" fill="#cfcfcf"/>
<rect x="308" y="500.8" width="0.8" height="31" fill="#333"/>
<rect x="310.8" y="500.8" width="2.2" height="31" fill="#c8c8c8"/>
<rect x="313.5" y="500.8" width="1.1" height="31" fill="#999"/>
<rect x="317" y="500.8" width="1" height="31" fill="#555"/>
<rect x="320.8" y="500.8" width="2" height="31" fill="#aaa"/>
<rect x="323.8" y="500.8" width="1.7" height="31" fill="#666"/>
<rect x="325.5" y="500.8" width="1.5" height="31" fill="#444"/>
<rect x="327" y="500.8" width="1.5" height="31" fill="#777"/>
<rect x="334.2" y="500.8" width="0.6" height="31" fill="#999"/>
<rect x="339.2" y="500.8" width="1.3" height="31" fill="#888"/>
<rect x="340.5" y="500.8" width="1" height="31" fill="#555"/>
<rect x="343.8" y="500.8" width="2" height="31" fill="#444"/>
<rect x="348" y="500.8" width="2" height="31" fill="#bbb"/>
<rect x="350" y="500.8" width="2.2" height="31" fill="#999"/>
<rect x="352.2" y="500.8" width="1.6" height="31" fill="#c4c4c4"/>
<rect x="355.4" y="500.8" width="1.2" height="31" fill="#d0d0d0"/>
<rect x="365.4" y="500.8" width="1.5" height="31" fill="#666"/>
<rect x="370" y="500.8" width="1" height="31" fill="#444"/>
<rect x="373" y="500.8" width="1.5" height="31" fill="#bbb"/>
<rect x="374.5" y="500.8" width="1.7" height="31" fill="#999"/>
<rect x="376.7" y="500.8" width="0.9" height="31" fill="#888"/>
<rect x="377.7" y="500.8" width="1.5" height="31" fill="#bbb"/>
<rect x="379.2" y="500.8" width="1.3" height="31" fill="#999"/>
<rect x="380.5" y="500.8" width="2" height="31" fill="#666"/>
<rect x="384" y="500.8" width="1.8" height="31" fill="#444"/>
<rect x="390.1" y="500.8" width="3.7" height="31" fill="#b0b0b0"/>
<rect x="394.5" y="500.8" width="1.8" height="31" fill="#888"/>
<rect x="396.3" y="500.8" width="1.5" height="31" fill="#666"/>
<rect x="398.8" y="500.8" width="1" height="31" fill="#333"/>
<rect x="407" y="500.8" width="2.6" height="31" fill="#bbb"/>
<rect x="412.8" y="500.8" width="0.9" height="31" fill="#aaa"/>
<rect x="419" y="500.8" width="1" height="31" fill="#999"/>
<rect x="421.2" y="500.8" width="0.8" height="31" fill="#555"/>
<rect x="425.5" y="500.8" width="1.4" height="31" fill="#999"/>
<rect x="428" y="500.8" width="2" height="31" fill="#aaa"/>
<rect x="430" y="500.8" width="1.3" height="31" fill="#bbb"/>
<rect x="432" y="500.8" width="1" height="31" fill="#888"/>
<rect x="433.4" y="500.8" width="1.5" height="31" fill="#444"/>
<rect x="435.6" y="500.8" width="2.4" height="31" fill="#888"/>
<rect x="438" y="500.8" width="2.6" height="31" fill="#666"/>
<rect x="441.3" y="500.8" width="1.2" height="31" fill="#333"/>
<rect x="442.5" y="500.8" width="2.2" height="31" fill="#bbb"/>
<rect x="444.7" y="500.8" width="2.2" height="31" fill="#1a1a1a"/>
<rect x="259.4" y="531.8" width="27.35" height="13" fill="#d42d26"/>
<rect x="259.4" y="531.8" width="1.34" height="13" fill="#d02c25"/>
<rect x="260.74" y="531.8" width="1.99" height="13" fill="#c52a23"/>
<rect x="262.73" y="531.8" width="2.04" height="13" fill="#c82a24"/>
<rect x="264.76" y="531.8" width="1.59" height="13" fill="#c62a24"/>
<rect x="268.08" y="531.8" width="0.85" height="13" fill="#cc2b25"/>
<rect x="268.93" y="531.8" width="1.41" height="13" fill="#d73933"/>
<rect x="272.94" y="531.8" width="1.76" height="13" fill="#d22d26"/>
<rect x="274.7" y="531.8" width="1.03" height="13" fill="#cb2b24"/>
<rect x="277.62" y="531.8" width="2.01" height="13" fill="#c72a24"/>
<rect x="279.63" y="531.8" width="1.39" height="13" fill="#c62a23"/>
<rect x="281.02" y="531.8" width="2.05" height="13" fill="#c82b24"/>
<rect x="283.86" y="531.8" width="0.92" height="13" fill="#c52a23"/>
<rect x="284.79" y="531.8" width="1.46" height="13" fill="#c62a23"/>
<rect x="286.7" y="531.8" width="47.95" height="13" fill="#ee6f58"/>
<rect x="286.7" y="531.8" width="1.39" height="13" fill="#ef7762"/>
<rect x="288.09" y="531.8" width="1.24" height="13" fill="#ee725b"/>
<rect x="290.86" y="531.8" width="2.13" height="13" fill="#df6853"/>
<rect x="292.99" y="531.8" width="1.57" height="13" fill="#e26a54"/>
<rect x="294.56" y="531.8" width="2.19" height="13" fill="#ef7964"/>
<rect x="296.75" y="531.8" width="1.73" height="13" fill="#ef7863"/>
<rect x="298.48" y="531.8" width="1.58" height="13" fill="#df6852"/>
<rect x="302.48" y="531.8" width="1.53" height="13" fill="#ec6e57"/>
<rect x="304.01" y="531.8" width="2.18" height="13" fill="#ee715a"/>
<rect x="306.19" y="531.8" width="1.88" height="13" fill="#e86c56"/>
<rect x="308.07" y="531.8" width="0.94" height="13" fill="#ec6e57"/>
<rect x="309.01" y="531.8" width="0.74" height="13" fill="#ee725b"/>
<rect x="313.5" y="531.8" width="1" height="13" fill="#ef745e"/>
<rect x="314.5" y="531.8" width="0.97" height="13" fill="#ef7863"/>
<rect x="315.47" y="531.8" width="1.2" height="13" fill="#ef7660"/>
<rect x="320.22" y="531.8" width="1.57" height="13" fill="#de6752"/>
<rect x="322.73" y="531.8" width="2.15" height="13" fill="#e96d56"/>
<rect x="324.87" y="531.8" width="1.5" height="13" fill="#e26954"/>
<rect x="326.37" y="531.8" width="1.49" height="13" fill="#ee735d"/>
<rect x="329.18" y="531.8" width="1.21" height="13" fill="#ef7761"/>
<rect x="332.14" y="531.8" width="1.39" height="13" fill="#e16953"/>
<rect x="334.6" y="531.8" width="46.25" height="13" fill="#f4a68b"/>
<rect x="334.6" y="531.8" width="0.73" height="13" fill="#f4a990"/>
<rect x="335.33" y="531.8" width="0.62" height="13" fill="#e99e85"/>
<rect x="335.96" y="531.8" width="1.49" height="13" fill="#f0a389"/>
<rect x="337.45" y="531.8" width="1.37" height="13" fill="#f5ac92"/>
<rect x="340.93" y="531.8" width="2.02" height="13" fill="#f4a78c"/>
<rect x="342.95" y="531.8" width="1.46" height="13" fill="#f5ab92"/>
<rect x="344.41" y="531.8" width="1.63" height="13" fill="#f4a78c"/>
<rect x="346.04" y="531.8" width="1.76" height="13" fill="#f4a98f"/>
<rect x="347.8" y="531.8" width="1.72" height="13" fill="#f2a58a"/>
<rect x="351.14" y="531.8" width="1.2" height="13" fill="#f5ab91"/>
<rect x="354.25" y="531.8" width="2" height="13" fill="#e49b82"/>
<rect x="356.25" y="531.8" width="1.58" height="13" fill="#f4a88e"/>
<rect x="358.54" y="531.8" width="0.89" height="13" fill="#e59c83"/>
<rect x="359.43" y="531.8" width="1.35" height="13" fill="#f4a68c"/>
<rect x="362.63" y="531.8" width="0.61" height="13" fill="#f5ac92"/>
<rect x="365.4" y="531.8" width="0.77" height="13" fill="#efa288"/>
<rect x="366.17" y="531.8" width="1.85" height="13" fill="#e99f85"/>
<rect x="370.96" y="531.8" width="1.35" height="13" fill="#f4a68b"/>
<rect x="372.31" y="531.8" width="1.62" height="13" fill="#eba086"/>
<rect x="373.92" y="531.8" width="1.43" height="13" fill="#ea9f85"/>
<rect x="375.35" y="531.8" width="2.11" height="13" fill="#e49b82"/>
<rect x="377.46" y="531.8" width="1.88" height="13" fill="#e59c82"/>
<rect x="379.34" y="531.8" width="1.46" height="13" fill="#f4a78d"/>
<rect x="380.8" y="531.8" width="32.45" height="13" fill="#fde1d3"/>
<rect x="380.8" y="531.8" width="0.69" height="13" fill="#f5dacc"/>
<rect x="385.42" y="531.8" width="2.07" height="13" fill="#fde3d6"/>
<rect x="389.98" y="531.8" width="1.24" height="13" fill="#f3d8ca"/>
<rect x="391.22" y="531.8" width="1.34" height="13" fill="#fde1d4"/>
<rect x="392.56" y="531.8" width="1.3" height="13" fill="#f2d7ca"/>
<rect x="393.87" y="531.8" width="1.12" height="13" fill="#f1d7c9"/>
<rect x="395.89" y="531.8" width="0.82" height="13" fill="#fde2d4"/>
<rect x="398.02" y="531.8" width="2.01" height="13" fill="#fde2d4"/>
<rect x="400.04" y="531.8" width="1.47" height="13" fill="#f7dcce"/>
<rect x="402.99" y="531.8" width="1.12" height="13" fill="#fde2d5"/>
<rect x="404.11" y="531.8" width="0.76" height="13" fill="#fde2d4"/>
<rect x="404.86" y="531.8" width="1.45" height="13" fill="#eed3c6"/>
<rect x="406.32" y="531.8" width="2.07" height="13" fill="#edd3c5"/>
<rect x="409.25" y="531.8" width="2.19" height="13" fill="#fde2d4"/>
<rect x="411.44" y="531.8" width="1.76" height="13" fill="#fde1d3"/>
<rect x="413.2" y="531.8" width="13.05" height="13" fill="#eef0f8"/>
<rect x="413.2" y="531.8" width="1.7" height="13" fill="#e9ebf3"/>
<rect x="414.9" y="531.8" width="1.11" height="13" fill="#eaecf4"/>
<rect x="416.02" y="531.8" width="1.58" height="13" fill="#eff1f8"/>
<rect x="417.6" y="531.8" width="0.62" height="13" fill="#eef0f8"/>
<rect x="419.58" y="531.8" width="2.05" height="13" fill="#eff1f8"/>
<rect x="423.43" y="531.8" width="1.16" height="13" fill="#eef0f8"/>
<rect x="424.59" y="531.8" width="1.61" height="13" fill="#dee0e8"/>
<rect x="426.2" y="531.8" width="11.55" height="13" fill="#bcd6ea"/>
<rect x="426.2" y="531.8" width="1.85" height="13" fill="#bed7ea"/>
<rect x="428.05" y="531.8" width="0.82" height="13" fill="#b4cde1"/>
<rect x="428.86" y="531.8" width="2.04" height="13" fill="#b5cee1"/>
<rect x="437.7" y="531.8" width="6.55" height="13" fill="#6ea8d4"/>
<rect x="439.84" y="531.8" width="2.14" height="13" fill="#689ec8"/>
<rect x="444.2" y="531.8" width="2.95" height="13" fill="#2c6fb0"/>
<line x1="259.3" y1="595" x2="446.5" y2="595" stroke="#c6c6c6" stroke-width="1"/>
<line x1="258.8" y1="544.8" x2="258.8" y2="623" stroke="#000" stroke-width="1.1"/>
<line x1="258.3" y1="622.5" x2="447.3" y2="622.5" stroke="#000" stroke-width="1.1"/>
<line x1="256.3" y1="548.3" x2="258.8" y2="548.3" stroke="#000" stroke-width="0.9"/>
<text x="254" y="551.4" font-size="9" text-anchor="end" fill="#000" textLength="10.01" lengthAdjust="spacingAndGlyphs" stroke="#000" stroke-width="0.15">20</text>
<line x1="256.3" y1="571.4" x2="258.8" y2="571.4" stroke="#000" stroke-width="0.9"/>
<text x="254" y="574.5" font-size="9" text-anchor="end" fill="#000" textLength="10.01" lengthAdjust="spacingAndGlyphs" stroke="#000" stroke-width="0.15">10</text>
<line x1="256.3" y1="594.8" x2="258.8" y2="594.8" stroke="#000" stroke-width="0.9"/>
<text x="254" y="597.9" font-size="9" text-anchor="end" fill="#000" textLength="5" lengthAdjust="spacingAndGlyphs" stroke="#000" stroke-width="0.15">0</text>
<line x1="256.3" y1="618.2" x2="258.8" y2="618.2" stroke="#000" stroke-width="0.9"/>
<text x="254" y="621.3" font-size="9" text-anchor="end" fill="#000" textLength="13.01" lengthAdjust="spacingAndGlyphs" stroke="#000" stroke-width="0.15">-10</text>
<path d="M259.3 595 L259.3 571.7 L260.85 575.64 L262.4 578.46 L263.95 580.58 L265.51 582.24 L267.06 583.56 L268.61 584.65 L270.16 585.57 L271.71 586.35 L273.26 587.02 L274.82 587.6 L276.37 588.12 L277.92 588.58 L279.47 588.99 L281.02 589.36 L282.57 589.7 L284.13 590.01 L285.68 590.29 L287.23 590.56 L288.78 590.8 L290.33 591.02 L291.88 591.23 L293.44 591.43 L294.99 591.62 L296.54 591.79 L298.09 591.96 L299.64 592.12 L301.19 592.27 L302.75 592.41 L304.3 592.54 L305.85 592.67 L307.4 592.8 L308.95 592.92 L310.5 593.03 L312.06 593.14 L313.61 593.25 L315.16 593.35 L316.71 593.45 L318.26 593.55 L319.81 593.65 L321.37 593.74 L322.92 593.83 L324.47 593.91 L326.02 594 L327.57 594.08 L329.12 594.16 L330.68 594.24 L332.23 594.31 L333.78 594.39 L335.33 594.46 L336.88 594.54 L338.44 594.61 L339.99 594.68 L341.54 594.74 L343.09 594.81 L344.64 594.88 L346.19 594.94 L347.75 595.01 L349.3 595.07 L350.85 595.13 L352.4 595.2 L353.95 595.26 L355.5 595.32 L357.06 595.38 L358.61 595.44 L360.16 595.5 L361.71 595.55 L363.26 595.61 L364.81 595.67 L366.37 595.73 L367.92 595.78 L369.47 595.84 L371.02 595.9 L372.57 595.95 L374.12 596.01 L375.68 596.07 L377.23 596.12 L378.78 596.18 L380.33 596.24 L381.88 596.29 L383.43 596.35 L384.99 596.4 L386.54 596.46 L388.09 596.52 L389.64 596.58 L391.19 596.64 L392.74 596.7 L394.3 596.75 L395.85 596.82 L397.4 596.88 L398.95 596.94 L400.5 597 L402.05 597.07 L403.61 597.13 L405.16 597.2 L406.71 597.27 L408.26 597.34 L409.81 597.41 L411.36 597.49 L412.91 597.57 L414.47 597.65 L416.02 597.73 L417.57 597.82 L419.12 597.91 L420.67 598 L422.23 598.1 L423.78 598.2 L425.33 598.31 L426.88 598.42 L428.43 598.55 L429.98 598.68 L431.53 598.84 L433.09 599.04 L434.64 599.29 L436.19 599.65 L437.74 600.2 L439.29 601.08 L440.85 602.6 L442.4 605.28 L443.95 610.12 L445.5 618.95 L445.5 595 Z" fill="#c2c2c2"/>
<line x1="312.3" y1="622.5" x2="312.3" y2="625.4" stroke="#000" stroke-width="0.9"/>
<text x="312.3" y="634.2" font-size="8.4" text-anchor="middle" fill="#000" stroke="#000" stroke-width="0.13">10000</text>
<line x1="364.6" y1="622.5" x2="364.6" y2="625.4" stroke="#000" stroke-width="0.9"/>
<text x="364.6" y="634.2" font-size="8.4" text-anchor="middle" fill="#000" stroke="#000" stroke-width="0.13">20000</text>
<line x1="418.5" y1="622.5" x2="418.5" y2="625.4" stroke="#000" stroke-width="0.9"/>
<text x="418.5" y="634.2" font-size="8.4" text-anchor="middle" fill="#000" stroke="#000" stroke-width="0.13">30000</text>
<text x="323.9" y="645.3" font-size="9.4" fill="#222" textLength="81.5" lengthAdjust="spacingAndGlyphs" stroke="#222" stroke-width="0.15">Rank in Ordered Dataset</text>
<text x="238.3" y="581.4" font-size="9.4" text-anchor="middle" fill="#222" textLength="60.6" lengthAdjust="spacingAndGlyphs" transform="rotate(-90 238.3 581.4)" stroke="#222" stroke-width="0.15">Ranked List Metric</text>
<rect x="0" y="0" width="520" height="1.1" fill="#000"/>
<rect x="0" y="0" width="1.3" height="689" fill="#000"/>
<rect x="518.5" y="0" width="1.5" height="689" fill="#000"/>
<rect x="0" y="687.6" width="520" height="1.4" fill="#000"/>
</svg>
</body></html>
